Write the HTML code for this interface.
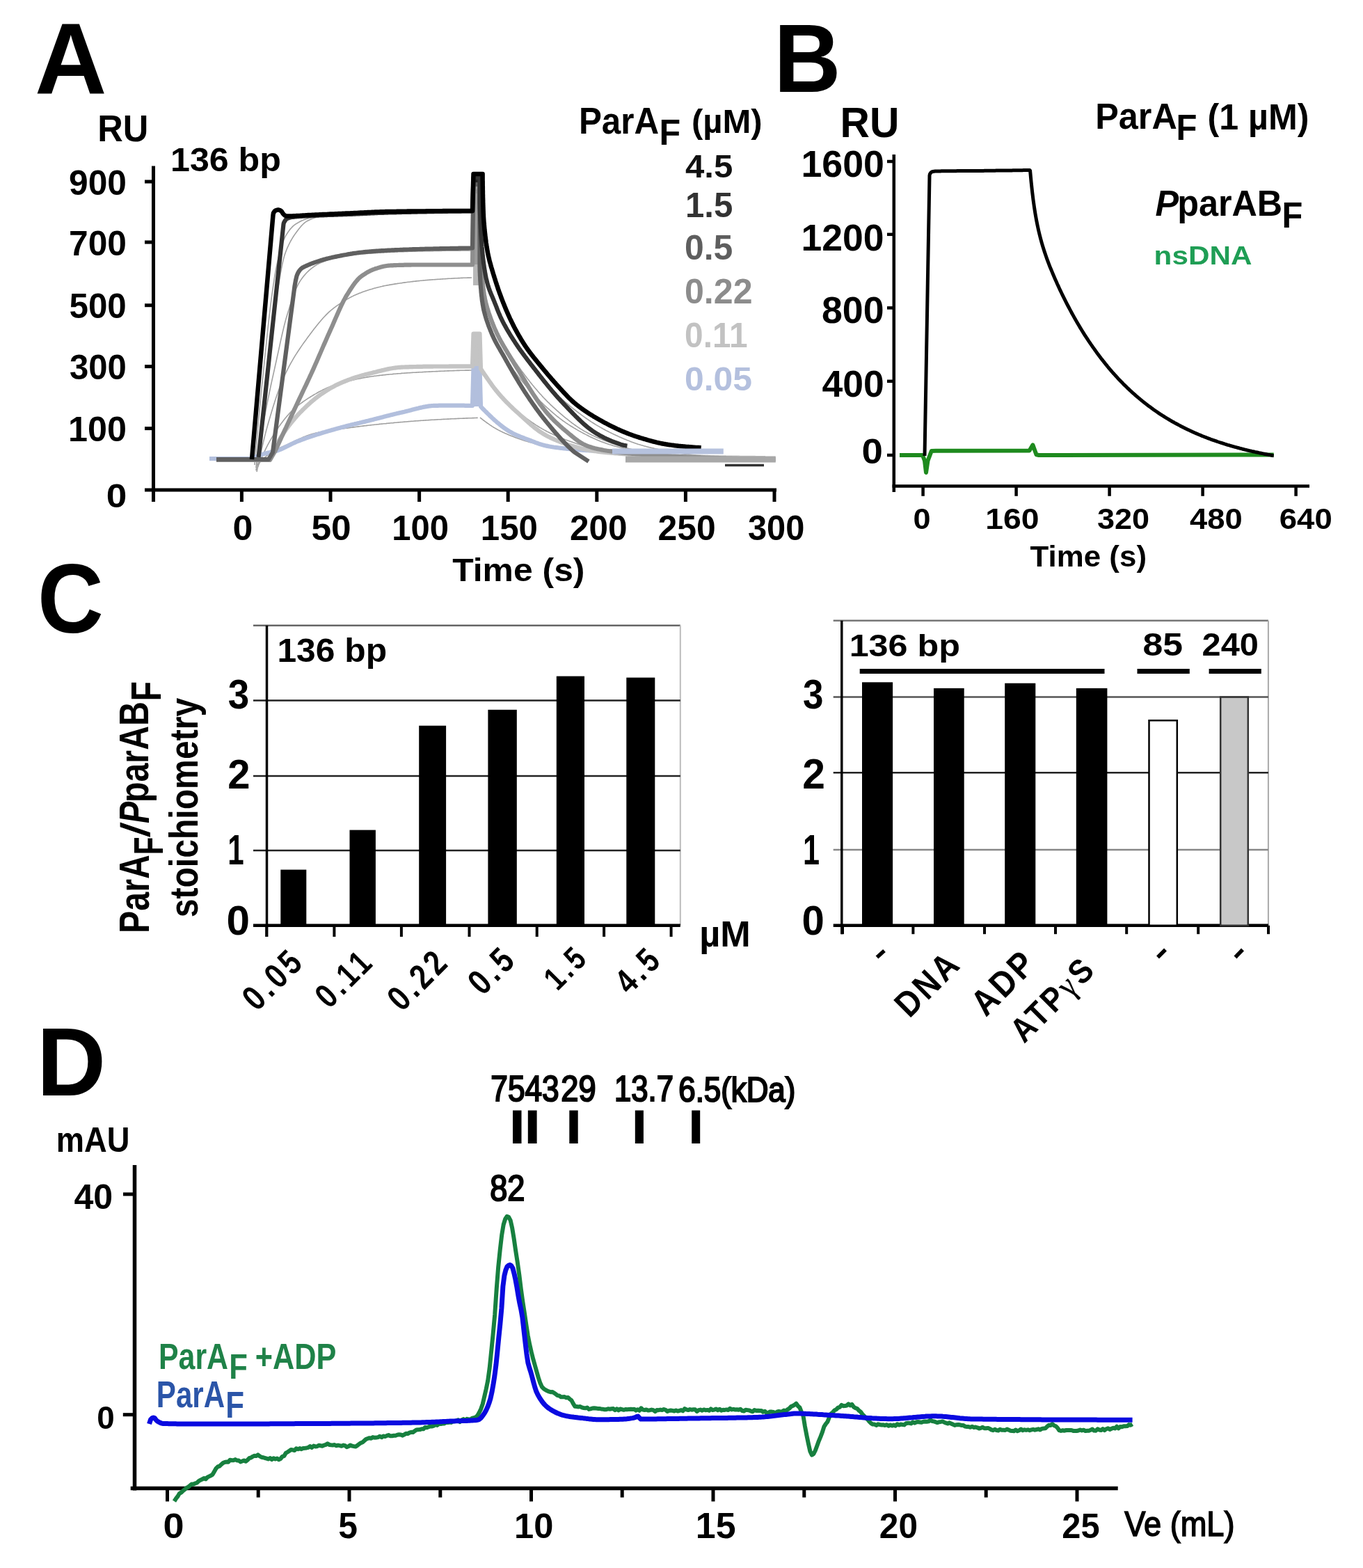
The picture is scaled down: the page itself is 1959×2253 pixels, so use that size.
<!DOCTYPE html>
<html><head><meta charset="utf-8"><style>
html,body{margin:0;padding:0;background:#fff;}
svg{display:block;}
text{font-family:"Liberation Sans",Arial,sans-serif;}
</style></head><body>
<svg xmlns="http://www.w3.org/2000/svg" width="1959" height="2253" viewBox="0 0 1959 2253">
<rect width="1959" height="2253" fill="#fff"/>
<text x="50.10" y="134.46" font-size="145.59" font-weight="bold" textLength="103.51" lengthAdjust="spacingAndGlyphs" fill="#000">A</text>
<text x="140.16" y="203.47" font-size="52.86" font-weight="bold" textLength="73.10" lengthAdjust="spacingAndGlyphs" fill="#000">RU</text>
<text x="244.99" y="245.50" font-size="47.26" font-weight="bold" textLength="158.91" lengthAdjust="spacingAndGlyphs" fill="#000">136 bp</text>
<line x1="220.5" y1="238.6" x2="220.5" y2="721.0" stroke="#000" stroke-width="5" stroke-linecap="butt"/>
<line x1="208.0" y1="704.0" x2="1116.0" y2="704.0" stroke="#000" stroke-width="5" stroke-linecap="butt"/>
<line x1="208.0" y1="261.0" x2="220.5" y2="261.0" stroke="#000" stroke-width="5" stroke-linecap="butt"/>
<text x="99.01" y="279.51" font-size="49.30" font-weight="bold" textLength="82.90" lengthAdjust="spacingAndGlyphs" fill="#000">900</text>
<line x1="208.0" y1="348.0" x2="220.5" y2="348.0" stroke="#000" stroke-width="5" stroke-linecap="butt"/>
<text x="99.01" y="366.51" font-size="49.30" font-weight="bold" textLength="82.90" lengthAdjust="spacingAndGlyphs" fill="#000">700</text>
<line x1="208.0" y1="438.7" x2="220.5" y2="438.7" stroke="#000" stroke-width="5" stroke-linecap="butt"/>
<text x="99.52" y="457.21" font-size="49.30" font-weight="bold" fill="#000">500</text>
<line x1="208.0" y1="526.6" x2="220.5" y2="526.6" stroke="#000" stroke-width="5" stroke-linecap="butt"/>
<text x="100.02" y="545.11" font-size="49.30" font-weight="bold" textLength="81.88" lengthAdjust="spacingAndGlyphs" fill="#000">300</text>
<line x1="208.0" y1="615.6" x2="220.5" y2="615.6" stroke="#000" stroke-width="5" stroke-linecap="butt"/>
<text x="97.98" y="634.11" font-size="49.30" font-weight="bold" textLength="83.96" lengthAdjust="spacingAndGlyphs" fill="#000">100</text>
<text x="152.87" y="729.03" font-size="47.18" font-weight="bold" textLength="29.59" lengthAdjust="spacingAndGlyphs" fill="#000">0</text>
<line x1="347.4" y1="704.0" x2="347.4" y2="721.0" stroke="#000" stroke-width="5" stroke-linecap="butt"/>
<text x="334.52" y="776.21" font-size="49.44" font-weight="bold" textLength="28.88" lengthAdjust="spacingAndGlyphs" fill="#000">0</text>
<line x1="475.0" y1="704.0" x2="475.0" y2="721.0" stroke="#000" stroke-width="5" stroke-linecap="butt"/>
<text x="447.46" y="776.21" font-size="49.44" font-weight="bold" textLength="57.22" lengthAdjust="spacingAndGlyphs" fill="#000">50</text>
<line x1="602.6" y1="704.0" x2="602.6" y2="721.0" stroke="#000" stroke-width="5" stroke-linecap="butt"/>
<text x="563.36" y="776.21" font-size="49.44" font-weight="bold" textLength="81.73" lengthAdjust="spacingAndGlyphs" fill="#000">100</text>
<line x1="730.2" y1="704.0" x2="730.2" y2="721.0" stroke="#000" stroke-width="5" stroke-linecap="butt"/>
<text x="690.85" y="776.21" font-size="49.44" font-weight="bold" textLength="82.05" lengthAdjust="spacingAndGlyphs" fill="#000">150</text>
<line x1="857.8" y1="704.0" x2="857.8" y2="721.0" stroke="#000" stroke-width="5" stroke-linecap="butt"/>
<text x="818.92" y="776.21" font-size="49.44" font-weight="bold" fill="#000">200</text>
<line x1="985.4" y1="704.0" x2="985.4" y2="721.0" stroke="#000" stroke-width="5" stroke-linecap="butt"/>
<text x="945.51" y="776.21" font-size="49.44" font-weight="bold" textLength="83.12" lengthAdjust="spacingAndGlyphs" fill="#000">250</text>
<line x1="1113.0" y1="704.0" x2="1113.0" y2="721.0" stroke="#000" stroke-width="5" stroke-linecap="butt"/>
<text x="1074.92" y="776.21" font-size="49.44" font-weight="bold" textLength="81.46" lengthAdjust="spacingAndGlyphs" fill="#000">300</text>
<text x="650.20" y="835.30" font-size="46.85" font-weight="bold" textLength="190.29" lengthAdjust="spacingAndGlyphs" fill="#000">Time (s)</text>
<text x="831.95" y="192.10" font-size="53.19" font-weight="bold" textLength="115.16" lengthAdjust="spacingAndGlyphs" fill="#000">ParA</text>
<text x="947.59" y="208.00" font-size="51.59" font-weight="bold" textLength="30.67" lengthAdjust="spacingAndGlyphs" fill="#000">F</text>
<text x="993.95" y="190.76" font-size="47.34" font-weight="bold" textLength="101.77" lengthAdjust="spacingAndGlyphs" fill="#000">(µM)</text>
<text x="985.02" y="255.23" font-size="47.00" font-weight="bold" textLength="68.26" lengthAdjust="spacingAndGlyphs" fill="#111111">4.5</text>
<text x="985.06" y="311.50" font-size="50.00" font-weight="bold" textLength="68.22" lengthAdjust="spacingAndGlyphs" fill="#333333">1.5</text>
<text x="984.01" y="373.01" font-size="49.15" font-weight="bold" textLength="69.30" lengthAdjust="spacingAndGlyphs" fill="#5e5e5e">0.5</text>
<text x="984.00" y="435.51" font-size="49.30" font-weight="bold" textLength="97.53" lengthAdjust="spacingAndGlyphs" fill="#8c8c8c">0.22</text>
<text x="984.09" y="498.51" font-size="49.30" font-weight="bold" textLength="90.41" lengthAdjust="spacingAndGlyphs" fill="#c2c2c2">0.11</text>
<text x="984.01" y="560.52" font-size="47.89" font-weight="bold" textLength="97.01" lengthAdjust="spacingAndGlyphs" fill="#b4c0de">0.05</text>
<path d="M366.0,668.0 L367.5,650.3 L369.0,633.1 L370.5,616.3 L372.0,600.0 L373.5,584.2 L375.0,568.9 L376.5,553.9 L378.0,539.2 L379.5,524.8 L381.0,510.5 L382.5,496.0 L384.0,481.7 L385.5,467.7 L387.0,454.2 L388.5,441.6 L390.0,430.0 L391.5,419.1 L393.0,408.7 L394.5,398.9 L396.0,390.1 L397.5,382.3 L399.0,375.6 L400.5,369.3 L402.0,363.3 L403.5,357.8 L405.0,352.7 L406.5,348.2 L408.0,344.2 L409.5,340.9 L411.0,338.2 L412.5,335.8 L414.0,333.5 L415.5,331.4 L417.0,329.4 L418.5,327.7 L420.0,326.1 L421.5,324.6 L423.0,323.4 L424.5,322.3 L426.0,321.4 L427.5,320.5 L429.0,319.6 L430.5,318.8 L432.0,318.0 L433.5,317.3 L435.0,316.6 L436.5,315.9 L438.0,315.3 L439.5,314.7 L441.0,314.2 L442.5,313.7 L444.0,313.2 L445.5,312.9 L447.0,312.5 L448.5,312.2 L450.0,312.0 L451.5,311.8 L453.0,311.6 L454.5,311.4 L456.0,311.2 L457.5,311.1 L459.0,310.9 L460.5,310.7 L462.0,310.6 L463.5,310.4 L465.0,310.2 L466.5,310.1 L468.0,310.0 L469.5,309.8 L471.0,309.7 L472.5,309.6 L474.0,309.4 L475.5,309.3 L477.0,309.2 L478.5,309.1 L480.0,309.0 L481.5,308.9 L483.0,308.8 L484.5,308.7 L486.0,308.6 L487.5,308.5 L489.0,308.4 L490.5,308.3 L492.0,308.2 L493.5,308.1 L495.0,308.1 L496.5,308.0 L498.0,307.9 L499.5,307.8 L501.0,307.8 L502.5,307.7 L504.0,307.6 L505.5,307.6 L507.0,307.5 L508.5,307.4 L510.0,307.4 L511.5,307.3 L513.0,307.3 L514.5,307.2 L516.0,307.2 L517.5,307.1 L519.0,307.0 L520.5,307.0 L522.0,306.9 L523.5,306.9 L525.0,306.8 L526.5,306.8 L528.0,306.7 L529.5,306.6 L531.0,306.6 L532.5,306.5 L534.0,306.5 L535.5,306.4 L537.0,306.4 L538.5,306.3 L540.0,306.3 L541.5,306.2 L543.0,306.2 L544.5,306.1 L546.0,306.1 L547.5,306.0 L549.0,306.0 L550.5,305.9 L552.0,305.9 L553.5,305.8 L555.0,305.8 L556.5,305.7 L558.0,305.7 L559.5,305.6 L561.0,305.6 L562.5,305.6 L564.0,305.5 L565.5,305.5 L567.0,305.4 L568.5,305.4 L570.0,305.4 L571.5,305.3 L573.0,305.3 L574.5,305.3 L576.0,305.2 L577.5,305.2 L579.0,305.2 L580.5,305.2 L582.0,305.1 L583.5,305.1 L585.0,305.1 L586.5,305.1 L588.0,305.1 L589.5,305.0 L591.0,305.0 L592.5,305.0 L594.0,305.0 L595.5,305.0 L597.0,305.0 L598.5,305.0 L600.0,305.0 L601.5,305.0 L603.0,305.0 L604.5,305.0 L606.0,305.0 L607.5,305.0 L609.0,305.0 L610.5,305.0 L612.0,305.0 L613.5,305.0 L615.0,305.0 L616.5,305.0 L618.0,305.0 L619.5,305.0 L621.0,305.0 L622.5,305.0 L624.0,305.0 L625.5,305.0 L627.0,305.0 L628.5,305.0 L630.0,305.0 L631.5,305.0 L633.0,305.0 L634.5,305.0 L636.0,305.0 L637.5,305.0 L639.0,305.0 L640.5,305.0 L642.0,305.0 L643.5,305.0 L645.0,305.0 L646.5,305.0 L648.0,305.0 L649.5,305.0 L651.0,305.0 L652.5,305.0 L654.0,305.0 L655.5,305.0 L657.0,305.0 L658.5,305.0 L660.0,305.0 L661.5,305.0 L663.0,305.0 L664.5,305.0 L666.0,305.0 L667.5,305.0 L669.0,305.0 L670.5,305.0 L672.0,305.0 L673.5,305.0 L675.0,305.0 L676.5,305.0 L678.0,305.0" fill="none" stroke="#a0a0a0" stroke-width="1.6" stroke-linejoin="round" stroke-linecap="butt"/>
<path d="M368.0,672.0 L369.5,658.4 L371.0,644.8 L372.5,631.3 L374.0,617.7 L375.5,604.3 L377.0,590.7 L378.5,577.0 L380.0,563.3 L381.5,549.7 L383.0,536.5 L384.6,523.7 L386.1,511.4 L387.6,499.1 L389.1,487.1 L390.6,475.3 L392.1,463.8 L393.6,452.8 L395.1,442.3 L396.6,432.5 L398.1,423.2 L399.6,414.0 L401.1,404.8 L402.6,396.1 L404.1,387.8 L405.6,380.3 L407.1,373.6 L408.6,368.0 L410.1,363.5 L411.6,359.5 L413.1,355.8 L414.7,352.5 L416.2,349.4 L417.7,346.5 L419.2,343.8 L420.7,341.4 L422.2,339.0 L423.7,336.9 L425.2,334.7 L426.7,332.7 L428.2,330.7 L429.7,328.8 L431.2,326.9 L432.7,325.1 L434.2,323.5 L435.7,322.0 L437.2,320.6 L438.7,319.4 L440.2,318.4 L441.7,317.5 L443.2,316.7 L444.7,316.0 L446.3,315.3 L447.8,314.6 L449.3,314.0 L450.8,313.5 L452.3,312.9 L453.8,312.5 L455.3,312.0 L456.8,311.7 L458.3,311.3 L459.8,311.0 L461.3,310.8 L462.8,310.5 L464.3,310.3 L465.8,310.1 L467.3,309.9 L468.8,309.7 L470.3,309.5 L471.8,309.3 L473.3,309.1 L474.8,308.9 L476.3,308.8 L477.9,308.6 L479.4,308.5 L480.9,308.3 L482.4,308.2 L483.9,308.1 L485.4,307.9 L486.9,307.8 L488.4,307.7 L489.9,307.6 L491.4,307.5 L492.9,307.4 L494.4,307.3 L495.9,307.2 L497.4,307.1 L498.9,307.1 L500.4,307.0 L501.9,306.9 L503.4,306.8 L504.9,306.8 L506.4,306.7 L508.0,306.6 L509.5,306.5 L511.0,306.5 L512.5,306.4 L514.0,306.3 L515.5,306.3 L517.0,306.2 L518.5,306.1 L520.0,306.1 L521.5,306.0 L523.0,306.0 L524.5,305.9 L526.0,305.9 L527.5,305.8 L529.0,305.8 L530.5,305.7 L532.0,305.7 L533.5,305.6 L535.0,305.6 L536.5,305.5 L538.0,305.5 L539.6,305.4 L541.1,305.4 L542.6,305.3 L544.1,305.3 L545.6,305.3 L547.1,305.2 L548.6,305.2 L550.1,305.2 L551.6,305.1 L553.1,305.1 L554.6,305.1 L556.1,305.1 L557.6,305.0 L559.1,305.0 L560.6,305.0 L562.1,305.0 L563.6,304.9 L565.1,304.9 L566.6,304.9 L568.1,304.9 L569.7,304.9 L571.2,304.8 L572.7,304.8 L574.2,304.8 L575.7,304.8 L577.2,304.8 L578.7,304.7 L580.2,304.7 L581.7,304.7 L583.2,304.7 L584.7,304.7 L586.2,304.6 L587.7,304.6 L589.2,304.6 L590.7,304.6 L592.2,304.6 L593.7,304.6 L595.2,304.5 L596.7,304.5 L598.2,304.5 L599.7,304.5 L601.3,304.5 L602.8,304.5 L604.3,304.4 L605.8,304.4 L607.3,304.4 L608.8,304.4 L610.3,304.4 L611.8,304.4 L613.3,304.3 L614.8,304.3 L616.3,304.3 L617.8,304.3 L619.3,304.3 L620.8,304.3 L622.3,304.3 L623.8,304.2 L625.3,304.2 L626.8,304.2 L628.3,304.2 L629.8,304.2 L631.3,304.2 L632.9,304.2 L634.4,304.2 L635.9,304.2 L637.4,304.1 L638.9,304.1 L640.4,304.1 L641.9,304.1 L643.4,304.1 L644.9,304.1 L646.4,304.1 L647.9,304.1 L649.4,304.1 L650.9,304.1 L652.4,304.1 L653.9,304.1 L655.4,304.0 L656.9,304.0 L658.4,304.0 L659.9,304.0 L661.4,304.0 L663.0,304.0 L664.5,304.0 L666.0,304.0 L667.5,304.0 L669.0,304.0 L670.5,304.0 L672.0,304.0 L673.5,304.0 L675.0,304.0 L676.5,304.0 L678.0,304.0" fill="none" stroke="#a0a0a0" stroke-width="1.6" stroke-linejoin="round" stroke-linecap="butt"/>
<path d="M368.0,676.0 L369.5,665.8 L371.0,655.8 L372.5,646.1 L374.0,636.5 L375.5,627.2 L377.0,618.1 L378.5,609.3 L380.0,600.7 L381.5,592.5 L383.0,584.5 L384.6,576.7 L386.1,569.3 L387.6,562.0 L389.1,554.9 L390.6,547.9 L392.1,541.1 L393.6,534.3 L395.1,527.6 L396.6,520.8 L398.1,514.0 L399.6,507.2 L401.1,500.3 L402.6,493.4 L404.1,486.6 L405.6,480.0 L407.1,473.6 L408.6,467.4 L410.1,461.6 L411.6,456.2 L413.1,451.2 L414.7,446.2 L416.2,441.3 L417.7,436.5 L419.2,431.9 L420.7,427.5 L422.2,423.3 L423.7,419.3 L425.2,415.6 L426.7,412.3 L428.2,409.3 L429.7,406.6 L431.2,404.2 L432.7,401.9 L434.2,399.8 L435.7,397.8 L437.2,395.9 L438.7,394.2 L440.2,392.5 L441.7,391.0 L443.2,389.6 L444.7,388.2 L446.3,386.9 L447.8,385.7 L449.3,384.5 L450.8,383.4 L452.3,382.3 L453.8,381.4 L455.3,380.4 L456.8,379.6 L458.3,378.8 L459.8,378.1 L461.3,377.4 L462.8,376.8 L464.3,376.2 L465.8,375.7 L467.3,375.1 L468.8,374.6 L470.3,374.0 L471.8,373.6 L473.3,373.1 L474.8,372.6 L476.3,372.2 L477.9,371.8 L479.4,371.4 L480.9,371.0 L482.4,370.6 L483.9,370.3 L485.4,369.9 L486.9,369.6 L488.4,369.3 L489.9,369.0 L491.4,368.7 L492.9,368.5 L494.4,368.2 L495.9,368.0 L497.4,367.7 L498.9,367.5 L500.4,367.3 L501.9,367.0 L503.4,366.8 L504.9,366.6 L506.4,366.4 L508.0,366.2 L509.5,366.0 L511.0,365.9 L512.5,365.7 L514.0,365.5 L515.5,365.4 L517.0,365.3 L518.5,365.1 L520.0,365.0 L521.5,364.9 L523.0,364.8 L524.5,364.7 L526.0,364.5 L527.5,364.4 L529.0,364.3 L530.5,364.2 L532.0,364.1 L533.5,364.0 L535.0,363.9 L536.5,363.8 L538.0,363.7 L539.6,363.6 L541.1,363.5 L542.6,363.4 L544.1,363.3 L545.6,363.2 L547.1,363.1 L548.6,363.0 L550.1,363.0 L551.6,362.9 L553.1,362.8 L554.6,362.7 L556.1,362.6 L557.6,362.5 L559.1,362.5 L560.6,362.4 L562.1,362.3 L563.6,362.2 L565.1,362.2 L566.6,362.1 L568.1,362.0 L569.7,362.0 L571.2,361.9 L572.7,361.8 L574.2,361.8 L575.7,361.7 L577.2,361.7 L578.7,361.6 L580.2,361.6 L581.7,361.5 L583.2,361.5 L584.7,361.4 L586.2,361.4 L587.7,361.3 L589.2,361.3 L590.7,361.2 L592.2,361.2 L593.7,361.1 L595.2,361.1 L596.7,361.1 L598.2,361.0 L599.7,361.0 L601.3,361.0 L602.8,360.9 L604.3,360.9 L605.8,360.9 L607.3,360.9 L608.8,360.8 L610.3,360.8 L611.8,360.8 L613.3,360.7 L614.8,360.7 L616.3,360.7 L617.8,360.7 L619.3,360.6 L620.8,360.6 L622.3,360.6 L623.8,360.5 L625.3,360.5 L626.8,360.5 L628.3,360.5 L629.8,360.4 L631.3,360.4 L632.9,360.4 L634.4,360.4 L635.9,360.3 L637.4,360.3 L638.9,360.3 L640.4,360.3 L641.9,360.3 L643.4,360.2 L644.9,360.2 L646.4,360.2 L647.9,360.2 L649.4,360.2 L650.9,360.2 L652.4,360.1 L653.9,360.1 L655.4,360.1 L656.9,360.1 L658.4,360.1 L659.9,360.1 L661.4,360.1 L663.0,360.0 L664.5,360.0 L666.0,360.0 L667.5,360.0 L669.0,360.0 L670.5,360.0 L672.0,360.0 L673.5,360.0 L675.0,360.0 L676.5,360.0 L678.0,360.0" fill="none" stroke="#a0a0a0" stroke-width="1.6" stroke-linejoin="round" stroke-linecap="butt"/>
<path d="M369.0,678.0 L370.5,670.9 L372.0,663.9 L373.5,657.0 L375.0,650.2 L376.5,643.6 L378.0,637.2 L379.5,631.0 L381.0,624.9 L382.5,619.1 L384.0,613.6 L385.5,608.2 L387.0,603.0 L388.5,597.9 L390.0,592.9 L391.5,588.0 L393.0,583.1 L394.5,578.4 L396.0,573.8 L397.5,569.3 L399.0,564.9 L400.5,560.7 L402.0,556.6 L403.5,552.6 L405.0,548.9 L406.5,545.2 L408.0,541.8 L409.5,538.5 L411.0,535.3 L412.5,532.3 L414.0,529.3 L415.5,526.4 L417.0,523.6 L418.5,520.9 L420.0,518.3 L421.5,515.7 L423.0,513.2 L424.5,510.7 L426.0,508.3 L427.5,506.0 L429.0,503.7 L430.5,501.5 L432.0,499.2 L433.5,497.1 L435.0,494.9 L436.5,492.8 L438.0,490.7 L439.5,488.7 L441.0,486.6 L442.5,484.6 L444.0,482.6 L445.5,480.5 L447.0,478.5 L448.5,476.5 L450.0,474.6 L451.5,472.6 L453.0,470.7 L454.5,468.8 L456.0,466.9 L457.5,465.1 L459.0,463.2 L460.5,461.5 L462.0,459.7 L463.5,458.0 L465.0,456.3 L466.5,454.7 L468.0,453.1 L469.5,451.6 L471.0,450.1 L472.5,448.7 L474.0,447.3 L475.5,446.0 L477.0,444.8 L478.5,443.6 L480.0,442.4 L481.5,441.3 L483.0,440.2 L484.5,439.2 L486.0,438.1 L487.5,437.1 L489.0,436.1 L490.5,435.1 L492.0,434.1 L493.5,433.1 L495.0,432.2 L496.5,431.3 L498.0,430.4 L499.5,429.6 L501.0,428.7 L502.5,427.9 L504.0,427.1 L505.5,426.3 L507.0,425.6 L508.5,424.8 L510.0,424.1 L511.5,423.5 L513.0,422.8 L514.5,422.2 L516.0,421.5 L517.5,420.9 L519.0,420.4 L520.5,419.8 L522.0,419.3 L523.5,418.8 L525.0,418.2 L526.5,417.7 L528.0,417.2 L529.5,416.8 L531.0,416.3 L532.5,415.8 L534.0,415.4 L535.5,414.9 L537.0,414.5 L538.5,414.1 L540.0,413.7 L541.5,413.3 L543.0,412.9 L544.5,412.5 L546.0,412.2 L547.5,411.8 L549.0,411.5 L550.5,411.1 L552.0,410.8 L553.5,410.5 L555.0,410.2 L556.5,409.9 L558.0,409.7 L559.5,409.4 L561.0,409.1 L562.5,408.9 L564.0,408.6 L565.5,408.4 L567.0,408.1 L568.5,407.9 L570.0,407.7 L571.5,407.4 L573.0,407.2 L574.5,407.0 L576.0,406.8 L577.5,406.6 L579.0,406.3 L580.5,406.1 L582.0,405.9 L583.5,405.7 L585.0,405.5 L586.5,405.3 L588.0,405.2 L589.5,405.0 L591.0,404.8 L592.5,404.6 L594.0,404.4 L595.5,404.3 L597.0,404.1 L598.5,403.9 L600.0,403.8 L601.5,403.6 L603.0,403.5 L604.5,403.3 L606.0,403.2 L607.5,403.0 L609.0,402.9 L610.5,402.8 L612.0,402.6 L613.5,402.5 L615.0,402.4 L616.5,402.3 L618.0,402.1 L619.5,402.0 L621.0,401.9 L622.5,401.8 L624.0,401.7 L625.5,401.6 L627.0,401.5 L628.5,401.4 L630.0,401.3 L631.5,401.2 L633.0,401.1 L634.5,401.0 L636.0,400.9 L637.5,400.8 L639.0,400.7 L640.5,400.6 L642.0,400.5 L643.5,400.4 L645.0,400.3 L646.5,400.2 L648.0,400.2 L649.5,400.1 L651.0,400.0 L652.5,399.9 L654.0,399.8 L655.5,399.8 L657.0,399.7 L658.5,399.6 L660.0,399.6 L661.5,399.5 L663.0,399.4 L664.5,399.4 L666.0,399.3 L667.5,399.3 L669.0,399.2 L670.5,399.2 L672.0,399.1 L673.5,399.1 L675.0,399.1 L676.5,399.0 L678.0,399.0" fill="none" stroke="#a0a0a0" stroke-width="1.6" stroke-linejoin="round" stroke-linecap="butt"/>
<path d="M370.0,672.0 L371.5,668.4 L373.0,664.9 L374.5,661.4 L376.0,657.9 L377.5,654.5 L379.0,651.2 L380.5,648.0 L382.0,644.9 L383.5,641.9 L385.0,638.9 L386.5,636.1 L388.0,633.4 L389.5,630.8 L391.0,628.3 L392.5,625.9 L394.0,623.5 L395.5,621.1 L397.0,618.8 L398.5,616.5 L400.0,614.3 L401.6,612.1 L403.1,610.0 L404.6,607.9 L406.1,605.9 L407.6,604.0 L409.1,602.1 L410.6,600.2 L412.1,598.4 L413.6,596.7 L415.1,595.0 L416.6,593.4 L418.1,591.9 L419.6,590.4 L421.1,589.0 L422.6,587.6 L424.1,586.3 L425.6,585.0 L427.1,583.7 L428.6,582.5 L430.1,581.3 L431.6,580.2 L433.1,579.1 L434.6,578.0 L436.1,576.9 L437.6,575.8 L439.1,574.8 L440.6,573.8 L442.1,572.8 L443.6,571.9 L445.1,571.0 L446.6,570.0 L448.1,569.1 L449.6,568.2 L451.1,567.3 L452.6,566.4 L454.1,565.6 L455.6,564.7 L457.1,563.8 L458.6,563.0 L460.1,562.2 L461.6,561.4 L463.2,560.6 L464.7,559.8 L466.2,559.1 L467.7,558.4 L469.2,557.7 L470.7,557.0 L472.2,556.4 L473.7,555.8 L475.2,555.3 L476.7,554.8 L478.2,554.3 L479.7,553.8 L481.2,553.3 L482.7,552.8 L484.2,552.4 L485.7,551.9 L487.2,551.5 L488.7,551.0 L490.2,550.6 L491.7,550.1 L493.2,549.7 L494.7,549.3 L496.2,548.9 L497.7,548.5 L499.2,548.1 L500.7,547.7 L502.2,547.3 L503.7,546.9 L505.2,546.6 L506.7,546.2 L508.2,545.9 L509.7,545.5 L511.2,545.2 L512.7,544.8 L514.2,544.5 L515.7,544.2 L517.2,543.9 L518.7,543.6 L520.2,543.3 L521.7,543.0 L523.2,542.7 L524.8,542.5 L526.3,542.2 L527.8,541.9 L529.3,541.7 L530.8,541.4 L532.3,541.2 L533.8,541.0 L535.3,540.8 L536.8,540.6 L538.3,540.3 L539.8,540.2 L541.3,540.0 L542.8,539.8 L544.3,539.6 L545.8,539.4 L547.3,539.3 L548.8,539.1 L550.3,538.9 L551.8,538.8 L553.3,538.6 L554.8,538.4 L556.3,538.3 L557.8,538.1 L559.3,538.0 L560.8,537.8 L562.3,537.7 L563.8,537.6 L565.3,537.4 L566.8,537.3 L568.3,537.2 L569.8,537.0 L571.3,536.9 L572.8,536.8 L574.3,536.7 L575.8,536.6 L577.3,536.4 L578.8,536.3 L580.3,536.2 L581.8,536.1 L583.3,536.0 L584.8,535.9 L586.4,535.8 L587.9,535.7 L589.4,535.6 L590.9,535.5 L592.4,535.4 L593.9,535.3 L595.4,535.3 L596.9,535.2 L598.4,535.1 L599.9,535.0 L601.4,534.9 L602.9,534.8 L604.4,534.8 L605.9,534.7 L607.4,534.6 L608.9,534.5 L610.4,534.4 L611.9,534.4 L613.4,534.3 L614.9,534.2 L616.4,534.1 L617.9,534.1 L619.4,534.0 L620.9,533.9 L622.4,533.8 L623.9,533.8 L625.4,533.7 L626.9,533.6 L628.4,533.6 L629.9,533.5 L631.4,533.4 L632.9,533.4 L634.4,533.3 L635.9,533.2 L637.4,533.2 L638.9,533.1 L640.4,533.0 L641.9,533.0 L643.4,532.9 L644.9,532.9 L646.4,532.8 L648.0,532.7 L649.5,532.7 L651.0,532.6 L652.5,532.6 L654.0,532.5 L655.5,532.5 L657.0,532.4 L658.5,532.4 L660.0,532.4 L661.5,532.3 L663.0,532.3 L664.5,532.2 L666.0,532.2 L667.5,532.2 L669.0,532.1 L670.5,532.1 L672.0,532.1 L673.5,532.1 L675.0,532.0 L676.5,532.0 L678.0,532.0" fill="none" stroke="#a0a0a0" stroke-width="1.6" stroke-linejoin="round" stroke-linecap="butt"/>
<path d="M370.0,668.0 L371.5,666.4 L373.0,664.8 L374.5,663.2 L376.0,661.7 L377.5,660.2 L379.0,658.8 L380.5,657.4 L382.0,656.1 L383.5,654.8 L385.0,653.6 L386.5,652.4 L388.0,651.3 L389.5,650.3 L391.0,649.4 L392.5,648.5 L394.0,647.6 L395.5,646.8 L397.0,646.0 L398.5,645.2 L400.0,644.5 L401.5,643.8 L403.0,643.1 L404.5,642.4 L406.0,641.8 L407.5,641.1 L409.0,640.4 L410.5,639.8 L412.0,639.1 L413.5,638.4 L415.0,637.7 L416.5,637.0 L418.0,636.3 L419.5,635.6 L421.0,634.9 L422.5,634.2 L424.0,633.5 L425.5,632.8 L427.0,632.1 L428.5,631.4 L430.0,630.7 L431.5,630.0 L433.0,629.4 L434.5,628.7 L436.0,628.1 L437.5,627.5 L439.0,626.9 L440.5,626.3 L442.0,625.7 L443.5,625.2 L445.0,624.7 L446.5,624.2 L448.0,623.7 L449.6,623.3 L451.1,622.9 L452.6,622.5 L454.1,622.1 L455.6,621.8 L457.1,621.4 L458.6,621.1 L460.1,620.8 L461.6,620.5 L463.1,620.3 L464.6,620.0 L466.1,619.7 L467.6,619.5 L469.1,619.2 L470.6,619.0 L472.1,618.8 L473.6,618.5 L475.1,618.3 L476.6,618.1 L478.1,617.9 L479.6,617.7 L481.1,617.5 L482.6,617.3 L484.1,617.1 L485.6,616.9 L487.1,616.7 L488.6,616.5 L490.1,616.3 L491.6,616.1 L493.1,615.9 L494.6,615.7 L496.1,615.5 L497.6,615.3 L499.1,615.1 L500.6,614.9 L502.1,614.7 L503.6,614.5 L505.1,614.3 L506.6,614.1 L508.1,613.9 L509.6,613.7 L511.1,613.5 L512.6,613.3 L514.1,613.1 L515.6,612.9 L517.1,612.7 L518.6,612.5 L520.1,612.3 L521.6,612.1 L523.1,611.9 L524.6,611.7 L526.1,611.6 L527.6,611.4 L529.1,611.2 L530.6,611.0 L532.1,610.9 L533.6,610.7 L535.1,610.5 L536.6,610.4 L538.1,610.2 L539.6,610.0 L541.1,609.9 L542.6,609.7 L544.1,609.6 L545.6,609.4 L547.1,609.3 L548.6,609.1 L550.1,609.0 L551.6,608.8 L553.1,608.7 L554.6,608.6 L556.1,608.4 L557.6,608.3 L559.1,608.1 L560.6,608.0 L562.1,607.8 L563.6,607.7 L565.1,607.6 L566.6,607.4 L568.1,607.3 L569.6,607.2 L571.1,607.0 L572.6,606.9 L574.1,606.8 L575.6,606.6 L577.1,606.5 L578.6,606.4 L580.1,606.2 L581.6,606.1 L583.1,606.0 L584.6,605.9 L586.1,605.7 L587.6,605.6 L589.1,605.5 L590.6,605.4 L592.1,605.3 L593.6,605.2 L595.1,605.0 L596.6,604.9 L598.1,604.8 L599.6,604.7 L601.1,604.6 L602.6,604.5 L604.1,604.4 L605.6,604.3 L607.1,604.2 L608.7,604.1 L610.2,604.0 L611.7,603.9 L613.2,603.8 L614.7,603.7 L616.2,603.6 L617.7,603.5 L619.2,603.4 L620.7,603.3 L622.2,603.3 L623.7,603.2 L625.2,603.1 L626.7,603.0 L628.2,602.9 L629.7,602.8 L631.2,602.8 L632.7,602.7 L634.2,602.6 L635.7,602.5 L637.2,602.4 L638.7,602.4 L640.2,602.3 L641.7,602.2 L643.2,602.1 L644.7,602.1 L646.2,602.0 L647.7,601.9 L649.2,601.8 L650.7,601.8 L652.2,601.7 L653.7,601.6 L655.2,601.6 L656.7,601.5 L658.2,601.4 L659.7,601.4 L661.2,601.3 L662.7,601.2 L664.2,601.2 L665.7,601.1 L667.2,601.1 L668.7,601.0 L670.2,600.9 L671.7,600.9 L673.2,600.8 L674.7,600.8 L676.2,600.7 L677.7,600.7 L679.2,600.6 L680.7,600.6 L682.2,600.5 L683.7,600.5 L685.2,600.4 L686.7,600.4" fill="none" stroke="#a0a0a0" stroke-width="1.6" stroke-linejoin="round" stroke-linecap="butt"/>
<path d="M690.0,300.0 L690.0,301.7 L690.0,303.4 L690.0,304.9 L690.1,306.4 L690.1,307.9 L690.1,309.3 L690.2,310.8 L690.2,312.2 L690.2,313.7 L690.3,315.1 L690.3,316.6 L690.4,318.1 L690.4,319.6 L690.5,321.1 L690.5,322.6 L690.6,324.1 L690.7,325.6 L690.7,327.1 L690.8,328.6 L690.9,330.1 L691.0,331.6 L691.0,333.1 L691.1,334.6 L691.2,336.1 L691.3,337.6 L691.4,339.1 L691.5,340.6 L691.5,342.1 L691.6,343.6 L691.7,345.1 L691.8,346.6 L691.9,348.1 L692.0,349.6 L692.1,351.1 L692.3,352.6 L692.4,354.1 L692.5,355.6 L692.6,357.1 L692.8,358.6 L692.9,360.1 L693.1,361.6 L693.2,363.1 L693.4,364.6 L693.6,366.1 L693.7,367.6 L693.9,369.1 L694.1,370.6 L694.3,372.1 L694.5,373.6 L694.7,375.1 L695.0,376.6 L695.2,378.1 L695.4,379.6 L695.6,381.1 L695.9,382.6 L696.1,384.1 L696.4,385.5 L696.6,387.0 L696.9,388.5 L697.2,390.0 L697.4,391.5 L697.7,392.9 L698.0,394.4 L698.3,395.9 L698.6,397.3 L698.9,398.8 L699.2,400.3 L699.5,401.7 L699.9,403.2 L700.2,404.7 L700.6,406.1 L700.9,407.6 L701.3,409.0 L701.7,410.5 L702.1,411.9 L702.6,413.4 L703.0,414.8 L703.4,416.2 L703.9,417.7 L704.4,419.1 L704.8,420.6 L705.3,422.0 L705.8,423.4 L706.3,424.8 L706.8,426.3 L707.3,427.7 L707.9,429.1 L708.4,430.5 L708.9,431.9 L709.5,433.3 L710.0,434.7 L710.5,436.1 L711.1,437.5 L711.6,438.9 L712.2,440.3 L712.8,441.7 L713.3,443.1 L713.9,444.5 L714.5,445.9 L715.1,447.3 L715.7,448.7 L716.3,450.0 L716.9,451.4 L717.5,452.8 L718.1,454.2 L718.7,455.5 L719.4,456.9 L720.0,458.3 L720.7,459.6 L721.3,461.0 L722.0,462.4 L722.6,463.7 L723.3,465.1 L724.0,466.4 L724.7,467.8 L725.4,469.1 L726.1,470.5 L726.8,471.8 L727.5,473.2 L728.2,474.5 L728.9,475.8 L729.6,477.2 L730.4,478.5 L731.1,479.8 L731.8,481.1 L732.6,482.4 L733.3,483.7 L734.1,485.0 L734.8,486.3 L735.6,487.6 L736.4,488.9 L737.1,490.2 L737.9,491.5 L738.7,492.7 L739.5,494.0 L740.3,495.3 L741.1,496.5 L741.9,497.8 L742.7,499.0 L743.6,500.3 L744.4,501.5 L745.2,502.7 L746.1,504.0 L746.9,505.2 L747.8,506.4 L748.7,507.6 L749.6,508.9 L750.5,510.1 L751.4,511.3 L752.3,512.5 L753.2,513.7 L754.1,514.9 L755.0,516.1 L756.0,517.3 L756.9,518.5 L757.8,519.7 L758.8,520.8 L759.7,522.0 L760.7,523.2 L761.7,524.4 L762.6,525.5 L763.6,526.7 L764.6,527.8 L765.5,529.0 L766.5,530.2 L767.5,531.3 L768.5,532.4 L769.5,533.6 L770.4,534.7 L771.4,535.9 L772.4,537.0 L773.4,538.1 L774.4,539.3 L775.4,540.4 L776.4,541.5 L777.4,542.6 L778.4,543.8 L779.4,544.9 L780.4,546.0 L781.4,547.1 L782.4,548.2 L783.5,549.3 L784.5,550.4 L785.5,551.6 L786.5,552.7 L787.6,553.8 L788.6,554.9 L789.7,556.0 L790.7,557.0 L791.8,558.1 L792.8,559.2 L793.9,560.3 L794.9,561.4 L796.0,562.4 L797.1,563.5 L798.2,564.6 L799.2,565.6 L800.3,566.7 L801.4,567.7 L802.5,568.7 L803.6,569.8 L804.7,570.8 L805.8,571.8 L806.9,572.8 L808.0,573.8 L809.2,574.8 L810.3,575.8 L811.4,576.8 L812.5,577.8 L813.7,578.8 L814.8,579.7 L816.0,580.7 L817.1,581.7 L818.3,582.6 L819.4,583.6 L820.6,584.5 L821.8,585.5 L822.9,586.4 L824.1,587.3 L825.3,588.3 L826.5,589.2 L827.7,590.1 L828.9,591.1 L830.1,592.0 L831.3,592.9 L832.5,593.8 L833.7,594.7 L834.9,595.6 L836.1,596.5 L837.4,597.4 L838.6,598.3 L839.8,599.2 L841.1,600.1 L842.3,601.0 L843.6,601.8 L844.8,602.7 L846.1,603.5 L847.3,604.4 L848.6,605.2 L849.8,606.1 L851.1,606.9 L852.4,607.7 L853.7,608.5 L854.9,609.3 L856.2,610.1 L857.5,610.9 L858.8,611.6 L860.1,612.4 L861.4,613.1 L862.7,613.9 L864.0,614.6 L865.3,615.3 L866.6,616.1 L867.9,616.8 L869.2,617.5 L870.5,618.2 L871.9,618.9 L873.2,619.5 L874.5,620.2 L875.8,620.9 L877.2,621.6 L878.5,622.2 L879.9,622.9 L881.2,623.5 L882.6,624.2 L884.0,624.8 L885.3,625.5 L886.7,626.1 L888.1,626.7 L889.5,627.4 L890.8,628.0 L892.2,628.6 L893.6,629.2 L895.0,629.8 L896.4,630.4 L897.8,631.0 L899.2,631.6 L900.6,632.2 L902.0,632.7 L903.5,633.3 L904.9,633.8 L906.3,634.4 L907.7,634.9 L909.1,635.4 L910.5,635.9 L912.0,636.5 L913.4,636.9 L914.8,637.4 L916.3,637.9 L917.7,638.4 L919.1,638.8 L920.6,639.3 L922.0,639.7 L923.4,640.1 L924.9,640.5 L926.3,640.9 L927.8,641.3 L929.2,641.7 L930.6,642.1 L932.1,642.4 L933.5,642.8 L935.0,643.1 L936.4,643.5 L937.9,643.8 L939.3,644.1 L940.8,644.5 L942.3,644.8 L943.7,645.1 L945.2,645.4 L946.7,645.7 L948.1,646.0 L949.6,646.3 L951.1,646.6 L952.6,646.9 L954.0,647.2 L955.5,647.5 L957.0,647.8 L958.5,648.1 L960.0,648.3 L961.5,648.6 L963.0,648.9 L964.4,649.1 L965.9,649.4 L967.4,649.6 L968.9,649.9 L970.4,650.1 L971.9,650.4 L973.4,650.6 L974.9,650.8 L976.4,651.0 L977.9,651.3 L979.4,651.5 L980.9,651.7 L982.4,651.9 L983.9,652.1 L985.4,652.3 L986.9,652.5 L988.4,652.7 L989.9,652.8 L991.4,653.0 L992.9,653.2 L994.4,653.4 L995.9,653.5 L997.4,653.7 L998.9,653.8 L1000.4,654.0 L1001.8,654.2 L1003.3,654.3 L1004.8,654.5 L1006.3,654.6 L1007.8,654.7 L1009.3,654.9 L1010.8,655.0 L1012.3,655.2 L1013.8,655.3 L1015.3,655.5 L1016.8,655.6 L1018.3,655.7 L1019.8,655.9 L1021.3,656.0 L1022.8,656.1 L1024.3,656.3 L1025.8,656.4 L1027.3,656.6 L1028.8,656.7 L1030.2,656.8 L1031.7,656.9 L1033.2,657.1 L1034.7,657.2 L1036.2,657.3 L1037.7,657.5 L1039.2,657.6 L1040.7,657.7 L1042.2,657.8 L1043.7,658.0 L1045.2,658.1 L1046.7,658.2 L1048.2,658.3 L1049.7,658.4 L1051.2,658.5 L1052.7,658.6 L1054.2,658.7 L1055.7,658.9 L1057.2,659.0 L1058.7,659.1 L1060.2,659.2 L1061.7,659.3 L1063.3,659.4 L1064.8,659.5 L1066.3,659.5 L1067.8,659.6 L1069.3,659.7 L1070.8,659.8 L1072.3,659.9 L1073.8,660.0 L1075.3,660.0 L1076.8,660.1 L1078.3,660.2 L1079.8,660.3 L1081.3,660.3 L1082.8,660.4 L1084.3,660.4 L1085.8,660.5 L1087.3,660.6 L1088.8,660.6 L1090.3,660.6 L1091.8,660.7 L1093.3,660.7 L1094.8,660.8 L1096.3,660.8 L1097.8,660.8 L1099.2,660.9 L1100.7,660.9 L1102.1,660.9 L1103.6,661.0 L1105.1,661.0 L1106.6,661.0 L1108.3,661.0 L1110.0,661.0" fill="none" stroke="#a0a0a0" stroke-width="1.6" stroke-linejoin="round" stroke-linecap="butt"/>
<path d="M690.0,360.0 L690.0,361.8 L690.0,363.4 L690.1,364.9 L690.1,366.4 L690.1,367.9 L690.2,369.3 L690.2,370.8 L690.3,372.3 L690.3,373.7 L690.4,375.2 L690.5,376.7 L690.6,378.2 L690.6,379.7 L690.7,381.2 L690.8,382.7 L690.9,384.2 L691.0,385.7 L691.1,387.2 L691.2,388.7 L691.3,390.2 L691.4,391.7 L691.5,393.2 L691.6,394.7 L691.8,396.2 L691.9,397.7 L692.0,399.1 L692.2,400.6 L692.3,402.1 L692.4,403.6 L692.6,405.1 L692.7,406.6 L692.9,408.1 L693.1,409.6 L693.2,411.1 L693.4,412.5 L693.6,414.0 L693.8,415.5 L694.1,417.0 L694.3,418.5 L694.6,420.0 L694.8,421.5 L695.1,423.0 L695.4,424.4 L695.7,425.9 L696.0,427.4 L696.3,428.9 L696.7,430.4 L697.0,431.8 L697.4,433.3 L697.7,434.8 L698.1,436.2 L698.5,437.7 L698.9,439.1 L699.3,440.6 L699.7,442.0 L700.1,443.5 L700.6,444.9 L701.0,446.3 L701.5,447.8 L701.9,449.2 L702.4,450.6 L702.9,452.0 L703.4,453.4 L703.9,454.8 L704.5,456.2 L705.0,457.6 L705.6,458.9 L706.2,460.3 L706.8,461.7 L707.4,463.0 L708.1,464.4 L708.7,465.8 L709.4,467.1 L710.1,468.5 L710.7,469.8 L711.4,471.2 L712.2,472.5 L712.9,473.8 L713.6,475.2 L714.3,476.5 L715.1,477.8 L715.8,479.1 L716.6,480.5 L717.3,481.8 L718.1,483.1 L718.8,484.4 L719.6,485.7 L720.3,487.0 L721.1,488.3 L721.8,489.6 L722.6,490.9 L723.3,492.2 L724.1,493.5 L724.9,494.8 L725.6,496.1 L726.4,497.4 L727.2,498.7 L727.9,500.0 L728.7,501.3 L729.5,502.6 L730.3,503.9 L731.1,505.2 L731.9,506.4 L732.7,507.7 L733.5,509.0 L734.3,510.3 L735.1,511.5 L735.9,512.8 L736.8,514.1 L737.6,515.3 L738.4,516.6 L739.3,517.8 L740.1,519.1 L740.9,520.4 L741.8,521.6 L742.6,522.8 L743.5,524.1 L744.4,525.3 L745.2,526.6 L746.1,527.8 L747.0,529.0 L747.8,530.2 L748.7,531.5 L749.6,532.7 L750.5,533.9 L751.4,535.1 L752.3,536.3 L753.2,537.5 L754.1,538.7 L755.0,539.9 L755.9,541.1 L756.8,542.3 L757.7,543.5 L758.7,544.7 L759.6,545.8 L760.5,547.0 L761.4,548.2 L762.4,549.4 L763.3,550.6 L764.3,551.7 L765.2,552.9 L766.2,554.1 L767.2,555.2 L768.1,556.4 L769.1,557.6 L770.1,558.7 L771.1,559.9 L772.1,561.0 L773.0,562.2 L774.0,563.3 L775.0,564.5 L776.0,565.6 L777.1,566.7 L778.1,567.8 L779.1,569.0 L780.1,570.1 L781.1,571.2 L782.2,572.3 L783.2,573.4 L784.3,574.4 L785.3,575.5 L786.4,576.6 L787.4,577.6 L788.5,578.7 L789.6,579.7 L790.6,580.8 L791.7,581.8 L792.8,582.8 L793.9,583.9 L795.0,584.9 L796.1,585.9 L797.2,586.9 L798.3,587.9 L799.4,588.9 L800.5,589.9 L801.7,590.9 L802.8,591.9 L803.9,592.9 L805.1,593.9 L806.2,594.9 L807.4,595.9 L808.6,596.9 L809.7,597.8 L810.9,598.8 L812.1,599.8 L813.3,600.8 L814.5,601.7 L815.7,602.7 L816.9,603.7 L818.1,604.6 L819.3,605.5 L820.5,606.5 L821.7,607.4 L822.9,608.3 L824.2,609.2 L825.4,610.1 L826.7,611.0 L827.9,611.9 L829.1,612.7 L830.4,613.6 L831.7,614.4 L832.9,615.3 L834.2,616.1 L835.5,616.9 L836.7,617.6 L838.0,618.4 L839.3,619.2 L840.6,619.9 L841.9,620.6 L843.2,621.3 L844.5,622.0 L845.8,622.7 L847.1,623.4 L848.4,624.0 L849.7,624.7 L851.0,625.3 L852.4,625.9 L853.7,626.6 L855.0,627.2 L856.4,627.8 L857.7,628.4 L859.1,628.9 L860.4,629.5 L861.8,630.1 L863.2,630.7 L864.6,631.2 L866.0,631.8 L867.4,632.4 L868.7,632.9 L870.2,633.5 L871.6,634.0 L873.0,634.6 L874.4,635.1 L875.8,635.6 L877.2,636.2 L878.7,636.7 L880.1,637.2 L881.5,637.7 L883.0,638.2 L884.4,638.7 L885.9,639.2 L887.3,639.7 L888.8,640.1 L890.3,640.6 L891.7,641.1 L893.2,641.5 L894.6,642.0 L896.1,642.4 L897.6,642.8 L899.1,643.2 L900.5,643.7 L902.0,644.1 L903.5,644.5 L904.9,644.8 L906.4,645.2 L907.9,645.6 L909.4,645.9 L910.9,646.3 L912.3,646.6 L913.8,647.0 L915.3,647.3 L916.8,647.6 L918.2,647.9 L919.7,648.2 L921.2,648.4 L922.7,648.7 L924.1,649.0 L925.6,649.2 L927.1,649.5 L928.6,649.7 L930.0,649.9 L931.5,650.1 L933.0,650.4 L934.4,650.6 L935.9,650.8 L937.4,651.0 L938.8,651.2 L940.3,651.4 L941.8,651.6 L943.3,651.8 L944.7,652.0 L946.2,652.2 L947.7,652.3 L949.2,652.5 L950.6,652.7 L952.1,652.9 L953.6,653.1 L955.1,653.3 L956.6,653.5 L958.0,653.6 L959.5,653.8 L961.0,654.0 L962.5,654.2 L964.0,654.3 L965.4,654.5 L966.9,654.7 L968.4,654.9 L969.9,655.0 L971.4,655.2 L972.9,655.4 L974.4,655.5 L975.9,655.7 L977.4,655.8 L978.8,656.0 L980.3,656.1 L981.8,656.3 L983.3,656.4 L984.8,656.6 L986.3,656.7 L987.8,656.9 L989.3,657.0 L990.8,657.1 L992.3,657.3 L993.8,657.4 L995.3,657.5 L996.8,657.6 L998.3,657.8 L999.8,657.9 L1001.3,658.0 L1002.8,658.1 L1004.3,658.2 L1005.9,658.3 L1007.4,658.4 L1008.9,658.5 L1010.4,658.6 L1011.9,658.7 L1013.4,658.8 L1014.9,658.9 L1016.4,659.0 L1018.0,659.1 L1019.5,659.2 L1021.0,659.2 L1022.5,659.3 L1024.0,659.4 L1025.5,659.4 L1027.1,659.5 L1028.6,659.6 L1030.1,659.6 L1031.6,659.7 L1033.1,659.7 L1034.6,659.7 L1036.1,659.8 L1037.6,659.8 L1039.1,659.9 L1040.5,659.9 L1042.0,659.9 L1043.5,659.9 L1045.0,660.0 L1046.6,660.0 L1048.2,660.0 L1050.0,660.0" fill="none" stroke="#a0a0a0" stroke-width="1.6" stroke-linejoin="round" stroke-linecap="butt"/>
<path d="M690.0,400.0 L690.0,401.8 L690.1,403.4 L690.1,405.0 L690.2,406.5 L690.3,407.9 L690.4,409.4 L690.5,410.8 L690.6,412.3 L690.7,413.8 L690.9,415.2 L691.0,416.7 L691.1,418.2 L691.3,419.7 L691.5,421.2 L691.6,422.7 L691.8,424.2 L692.0,425.7 L692.2,427.2 L692.4,428.6 L692.6,430.1 L692.8,431.6 L693.0,433.1 L693.3,434.6 L693.5,436.1 L693.7,437.5 L694.0,439.0 L694.3,440.5 L694.5,441.9 L694.8,443.4 L695.2,444.9 L695.5,446.3 L695.8,447.8 L696.2,449.3 L696.6,450.7 L697.0,452.2 L697.4,453.6 L697.8,455.1 L698.3,456.5 L698.8,458.0 L699.2,459.4 L699.7,460.8 L700.2,462.3 L700.7,463.7 L701.3,465.1 L701.8,466.5 L702.3,468.0 L702.9,469.4 L703.4,470.8 L704.0,472.2 L704.5,473.6 L705.1,474.9 L705.7,476.3 L706.3,477.7 L706.9,479.1 L707.5,480.4 L708.1,481.8 L708.7,483.2 L709.4,484.5 L710.0,485.9 L710.7,487.2 L711.4,488.6 L712.1,489.9 L712.8,491.3 L713.5,492.6 L714.2,493.9 L714.9,495.3 L715.7,496.6 L716.4,497.9 L717.2,499.2 L717.9,500.6 L718.7,501.9 L719.5,503.2 L720.2,504.5 L721.0,505.8 L721.8,507.1 L722.6,508.4 L723.4,509.6 L724.2,510.9 L725.0,512.2 L725.8,513.5 L726.6,514.7 L727.5,516.0 L728.3,517.3 L729.1,518.5 L729.9,519.8 L730.8,521.0 L731.6,522.3 L732.4,523.5 L733.3,524.8 L734.1,526.0 L735.0,527.2 L735.9,528.5 L736.7,529.7 L737.6,530.9 L738.5,532.2 L739.4,533.4 L740.3,534.6 L741.2,535.8 L742.1,537.1 L743.0,538.3 L743.9,539.5 L744.8,540.7 L745.7,541.9 L746.7,543.1 L747.6,544.3 L748.6,545.5 L749.5,546.7 L750.5,547.8 L751.4,549.0 L752.4,550.2 L753.3,551.3 L754.3,552.5 L755.3,553.7 L756.3,554.8 L757.3,556.0 L758.2,557.1 L759.2,558.2 L760.2,559.4 L761.2,560.5 L762.3,561.6 L763.3,562.7 L764.3,563.8 L765.3,564.9 L766.3,566.0 L767.4,567.1 L768.4,568.2 L769.4,569.3 L770.5,570.4 L771.5,571.4 L772.6,572.5 L773.6,573.6 L774.7,574.6 L775.7,575.7 L776.8,576.8 L777.9,577.8 L779.0,578.9 L780.1,579.9 L781.2,581.0 L782.3,582.0 L783.4,583.1 L784.5,584.1 L785.6,585.1 L786.7,586.2 L787.9,587.2 L789.0,588.2 L790.1,589.2 L791.3,590.2 L792.4,591.2 L793.6,592.2 L794.7,593.2 L795.9,594.2 L797.1,595.2 L798.3,596.2 L799.4,597.1 L800.6,598.1 L801.8,599.0 L803.0,599.9 L804.2,600.9 L805.4,601.8 L806.6,602.7 L807.8,603.6 L809.0,604.5 L810.2,605.3 L811.5,606.2 L812.7,607.1 L813.9,607.9 L815.2,608.7 L816.4,609.6 L817.7,610.4 L818.9,611.2 L820.2,612.0 L821.4,612.8 L822.7,613.5 L824.0,614.3 L825.2,615.1 L826.5,615.8 L827.8,616.6 L829.1,617.4 L830.4,618.1 L831.7,618.9 L833.1,619.6 L834.4,620.3 L835.7,621.1 L837.0,621.8 L838.4,622.5 L839.7,623.2 L841.1,623.9 L842.4,624.6 L843.8,625.3 L845.2,626.0 L846.5,626.7 L847.9,627.4 L849.3,628.0 L850.7,628.7 L852.0,629.3 L853.4,630.0 L854.8,630.6 L856.2,631.2 L857.6,631.8 L859.0,632.4 L860.4,633.0 L861.8,633.6 L863.2,634.2 L864.6,634.7 L866.1,635.2 L867.5,635.8 L868.9,636.3 L870.3,636.8 L871.7,637.3 L873.1,637.7 L874.6,638.2 L876.0,638.7 L877.4,639.1 L878.8,639.5 L880.2,639.9 L881.7,640.4 L883.1,640.8 L884.5,641.2 L886.0,641.5 L887.4,641.9 L888.9,642.3 L890.3,642.7 L891.7,643.0 L893.2,643.4 L894.7,643.8 L896.1,644.1 L897.6,644.5 L899.0,644.8 L900.5,645.1 L902.0,645.5 L903.4,645.8 L904.9,646.1 L906.4,646.5 L907.9,646.8 L909.3,647.1 L910.8,647.4 L912.3,647.7 L913.8,648.0 L915.3,648.3 L916.8,648.6 L918.3,648.9 L919.8,649.2 L921.3,649.5 L922.8,649.7 L924.2,650.0 L925.7,650.3 L927.2,650.5 L928.7,650.8 L930.2,651.0 L931.7,651.3 L933.2,651.5 L934.7,651.8 L936.2,652.0 L937.7,652.2 L939.3,652.4 L940.8,652.7 L942.3,652.9 L943.8,653.1 L945.3,653.3 L946.8,653.5 L948.3,653.7 L949.8,653.8 L951.3,654.0 L952.8,654.2 L954.3,654.4 L955.8,654.5 L957.3,654.7 L958.7,654.8 L960.2,655.0 L961.7,655.1 L963.2,655.3 L964.7,655.4 L966.2,655.6 L967.7,655.7 L969.2,655.8 L970.7,656.0 L972.2,656.1 L973.7,656.3 L975.2,656.4 L976.7,656.5 L978.2,656.7 L979.7,656.8 L981.2,656.9 L982.7,657.0 L984.2,657.2 L985.7,657.3 L987.2,657.4 L988.7,657.5 L990.2,657.7 L991.7,657.8 L993.2,657.9 L994.7,658.0 L996.2,658.1 L997.7,658.2 L999.2,658.3 L1000.7,658.4 L1002.2,658.5 L1003.7,658.6 L1005.2,658.7 L1006.8,658.8 L1008.3,658.9 L1009.8,659.0 L1011.3,659.1 L1012.8,659.2 L1014.3,659.2 L1015.8,659.3 L1017.3,659.4 L1018.8,659.5 L1020.3,659.5 L1021.8,659.6 L1023.3,659.6 L1024.8,659.7 L1026.3,659.7 L1027.8,659.8 L1029.2,659.8 L1030.7,659.9 L1032.1,659.9 L1033.6,659.9 L1035.1,660.0 L1036.6,660.0 L1038.3,660.0 L1040.0,660.0" fill="none" stroke="#a0a0a0" stroke-width="1.6" stroke-linejoin="round" stroke-linecap="butt"/>
<path d="M690.0,533.0 L691.0,534.4 L692.0,535.7 L693.0,536.9 L693.9,538.1 L694.8,539.3 L695.6,540.4 L696.5,541.6 L697.5,542.7 L698.4,543.9 L699.3,545.0 L700.2,546.2 L701.2,547.3 L702.1,548.5 L703.1,549.6 L704.1,550.8 L705.0,551.9 L706.0,553.1 L707.0,554.2 L708.0,555.4 L709.0,556.5 L710.0,557.7 L711.0,558.8 L712.0,559.9 L713.0,561.1 L714.0,562.2 L715.0,563.3 L716.1,564.4 L717.1,565.6 L718.1,566.7 L719.2,567.8 L720.2,568.9 L721.2,570.0 L722.3,571.1 L723.3,572.2 L724.4,573.3 L725.5,574.3 L726.5,575.4 L727.6,576.5 L728.7,577.5 L729.8,578.6 L730.9,579.6 L732.0,580.7 L733.1,581.7 L734.2,582.7 L735.3,583.7 L736.4,584.7 L737.5,585.7 L738.7,586.7 L739.8,587.7 L740.9,588.7 L742.1,589.6 L743.2,590.6 L744.4,591.5 L745.6,592.5 L746.7,593.5 L747.9,594.4 L749.1,595.3 L750.3,596.3 L751.5,597.2 L752.7,598.2 L753.9,599.1 L755.1,600.0 L756.3,600.9 L757.6,601.8 L758.8,602.7 L760.0,603.6 L761.3,604.5 L762.5,605.4 L763.8,606.3 L765.0,607.2 L766.3,608.0 L767.6,608.9 L768.8,609.7 L770.1,610.6 L771.4,611.4 L772.7,612.2 L774.0,613.0 L775.2,613.8 L776.5,614.6 L777.8,615.3 L779.1,616.1 L780.4,616.8 L781.8,617.6 L783.1,618.3 L784.4,619.0 L785.7,619.7 L787.0,620.4 L788.4,621.0 L789.7,621.7 L791.0,622.4 L792.4,623.0 L793.7,623.6 L795.1,624.3 L796.5,624.9 L797.8,625.5 L799.2,626.1 L800.6,626.7 L802.0,627.3 L803.3,627.9 L804.7,628.5 L806.1,629.1 L807.5,629.7 L808.9,630.3 L810.4,630.8 L811.8,631.4 L813.2,632.0 L814.6,632.5 L816.1,633.0 L817.5,633.6 L818.9,634.1 L820.4,634.6 L821.8,635.1 L823.3,635.6 L824.7,636.1 L826.1,636.6 L827.6,637.1 L829.1,637.5 L830.5,638.0 L832.0,638.4 L833.4,638.8 L834.9,639.3 L836.3,639.7 L837.8,640.1 L839.3,640.4 L840.7,640.8 L842.2,641.2 L843.7,641.5 L845.1,641.9 L846.6,642.2 L848.0,642.5 L849.5,642.8 L851.0,643.1 L852.4,643.4 L853.9,643.7 L855.4,644.0 L856.8,644.2 L858.3,644.5 L859.8,644.8 L861.2,645.1 L862.7,645.3 L864.2,645.6 L865.6,645.9 L867.1,646.1 L868.6,646.4 L870.1,646.7 L871.5,646.9 L873.0,647.2 L874.5,647.4 L876.0,647.7 L877.4,647.9 L878.9,648.2 L880.4,648.4 L881.9,648.7 L883.4,648.9 L884.9,649.1 L886.3,649.4 L887.8,649.6 L889.3,649.8 L890.8,650.0 L892.3,650.3 L893.8,650.5 L895.3,650.7 L896.8,650.9 L898.3,651.1 L899.8,651.3 L901.3,651.5 L902.8,651.7 L904.3,651.9 L905.8,652.1 L907.3,652.2 L908.8,652.4 L910.3,652.6 L911.8,652.7 L913.3,652.9 L914.9,653.1 L916.4,653.2 L917.9,653.4 L919.4,653.5 L920.9,653.6 L922.4,653.7 L924.0,653.9 L925.5,654.0 L927.0,654.1 L928.5,654.2 L930.0,654.3 L931.6,654.4 L933.1,654.5 L934.6,654.5 L936.1,654.6 L937.6,654.7 L939.0,654.8 L940.5,654.8 L942.0,654.9 L943.5,654.9 L945.0,654.9 L946.6,655.0 L948.2,655.0 L950.0,655.0" fill="none" stroke="#a0a0a0" stroke-width="1.6" stroke-linejoin="round" stroke-linecap="butt"/>
<path d="M690.0,600.0 L691.4,601.1 L692.7,602.1 L693.9,603.1 L695.1,604.0 L696.3,604.9 L697.5,605.8 L698.7,606.7 L699.8,607.5 L701.1,608.4 L702.3,609.2 L703.5,610.1 L704.7,610.9 L706.0,611.7 L707.2,612.6 L708.5,613.4 L709.8,614.2 L711.1,614.9 L712.4,615.7 L713.7,616.4 L715.0,617.2 L716.3,617.9 L717.6,618.6 L718.9,619.2 L720.2,619.9 L721.6,620.5 L722.9,621.2 L724.3,621.8 L725.6,622.4 L727.0,623.0 L728.3,623.6 L729.7,624.2 L731.1,624.8 L732.5,625.4 L733.9,626.0 L735.3,626.5 L736.7,627.1 L738.1,627.6 L739.5,628.2 L740.9,628.7 L742.4,629.3 L743.8,629.8 L745.2,630.3 L746.7,630.8 L748.1,631.3 L749.6,631.8 L751.0,632.3 L752.4,632.8 L753.9,633.2 L755.4,633.7 L756.8,634.1 L758.3,634.6 L759.7,635.0 L761.2,635.4 L762.7,635.8 L764.1,636.2 L765.6,636.6 L767.1,637.0 L768.5,637.4 L770.0,637.7 L771.5,638.1 L772.9,638.4 L774.4,638.7 L775.9,639.1 L777.3,639.4 L778.8,639.7 L780.3,640.0 L781.7,640.2 L783.2,640.5 L784.7,640.8 L786.2,641.1 L787.6,641.3 L789.1,641.6 L790.6,641.8 L792.1,642.1 L793.5,642.3 L795.0,642.5 L796.5,642.8 L798.0,643.0 L799.5,643.2 L801.0,643.5 L802.5,643.7 L804.0,643.9 L805.4,644.1 L806.9,644.3 L808.4,644.5 L809.9,644.7 L811.4,645.0 L812.9,645.1 L814.4,645.3 L815.9,645.5 L817.4,645.7 L818.9,645.9 L820.4,646.1 L821.9,646.3 L823.5,646.5 L825.0,646.6 L826.5,646.8 L828.0,647.0 L829.5,647.1 L831.0,647.3 L832.5,647.5 L834.0,647.6 L835.5,647.8 L837.0,647.9 L838.5,648.1 L840.0,648.2 L841.5,648.4 L843.0,648.5 L844.6,648.7 L846.1,648.8 L847.6,648.9 L849.1,649.1 L850.6,649.2 L852.1,649.3 L853.6,649.5 L855.1,649.6 L856.6,649.7 L858.1,649.8 L859.6,650.0 L861.1,650.1 L862.6,650.2 L864.1,650.3 L865.6,650.4 L867.1,650.5 L868.6,650.7 L870.1,650.8 L871.6,650.9 L873.1,651.0 L874.6,651.1 L876.1,651.2 L877.6,651.3 L879.2,651.4 L880.7,651.5 L882.2,651.6 L883.7,651.8 L885.2,651.9 L886.7,652.0 L888.2,652.1 L889.7,652.2 L891.2,652.3 L892.7,652.4 L894.2,652.5 L895.7,652.6 L897.2,652.7 L898.7,652.8 L900.2,652.9 L901.7,652.9 L903.2,653.0 L904.7,653.1 L906.2,653.2 L907.8,653.3 L909.3,653.4 L910.8,653.5 L912.3,653.5 L913.8,653.6 L915.3,653.7 L916.8,653.8 L918.3,653.9 L919.8,653.9 L921.3,654.0 L922.8,654.1 L924.3,654.1 L925.8,654.2 L927.3,654.3 L928.9,654.3 L930.4,654.4 L931.9,654.5 L933.4,654.5 L934.8,654.6 L936.3,654.6 L937.8,654.7 L939.2,654.7 L940.7,654.8 L942.1,654.8 L943.6,654.8 L945.1,654.9 L946.6,654.9 L948.3,655.0 L950.0,655.0" fill="none" stroke="#a0a0a0" stroke-width="1.6" stroke-linejoin="round" stroke-linecap="butt"/>
<rect x="680.0" y="262.0" width="10.0" height="118.0" fill="#9c9c9c"/>
<rect x="679.0" y="250.0" width="14.0" height="16.0" fill="#222"/>
<rect x="680.0" y="481.0" width="10.0" height="46.0" fill="#c4c4c4"/>
<rect x="680.0" y="529.0" width="10.0" height="55.0" fill="#b2bfdd"/>
<rect x="680.0" y="380.0" width="10.0" height="30.0" fill="#b8b8b8"/>
<path d="M301.0,659.0 L363.0,659.0 L366.0,657.0 L367.5,656.4 L369.0,655.8 L370.5,655.2 L372.0,654.7 L373.5,654.1 L375.0,653.6 L376.5,653.1 L378.0,652.6 L379.5,652.1 L381.0,651.7 L382.6,651.3 L384.1,650.9 L385.6,650.6 L387.1,650.3 L388.6,649.9 L390.1,649.6 L391.6,649.3 L393.1,648.9 L394.6,648.6 L396.1,648.2 L397.6,647.7 L399.1,647.2 L400.6,646.7 L402.1,646.1 L403.6,645.5 L405.1,644.9 L406.6,644.2 L408.1,643.5 L409.6,642.8 L411.1,642.0 L412.6,641.3 L414.2,640.5 L415.7,639.8 L417.2,639.0 L418.7,638.2 L420.2,637.5 L421.7,636.8 L423.2,636.1 L424.7,635.4 L426.2,634.7 L427.7,634.1 L429.2,633.5 L430.7,633.0 L432.2,632.4 L433.7,631.8 L435.2,631.3 L436.7,630.7 L438.2,630.2 L439.7,629.6 L441.2,629.1 L442.7,628.6 L444.2,628.1 L445.8,627.6 L447.3,627.1 L448.8,626.6 L450.3,626.1 L451.8,625.6 L453.3,625.1 L454.8,624.6 L456.3,624.1 L457.8,623.7 L459.3,623.2 L460.8,622.7 L462.3,622.3 L463.8,621.8 L465.3,621.3 L466.8,620.9 L468.3,620.4 L469.8,620.0 L471.3,619.6 L472.8,619.1 L474.3,618.7 L475.9,618.3 L477.4,617.8 L478.9,617.4 L480.4,617.0 L481.9,616.6 L483.4,616.1 L484.9,615.7 L486.4,615.3 L487.9,614.9 L489.4,614.5 L490.9,614.1 L492.4,613.7 L493.9,613.3 L495.4,612.9 L496.9,612.5 L498.4,612.1 L499.9,611.7 L501.4,611.3 L502.9,611.0 L504.4,610.6 L505.9,610.2 L507.5,609.8 L509.0,609.5 L510.5,609.1 L512.0,608.8 L513.5,608.4 L515.0,608.0 L516.5,607.7 L518.0,607.3 L519.5,607.0 L521.0,606.6 L522.5,606.2 L524.0,605.9 L525.5,605.5 L527.0,605.1 L528.5,604.8 L530.0,604.4 L531.5,604.0 L533.0,603.6 L534.5,603.3 L536.0,602.9 L537.5,602.5 L539.1,602.1 L540.6,601.7 L542.1,601.3 L543.6,600.9 L545.1,600.6 L546.6,600.2 L548.1,599.8 L549.6,599.4 L551.1,599.0 L552.6,598.6 L554.1,598.2 L555.6,597.8 L557.1,597.4 L558.6,597.1 L560.1,596.7 L561.6,596.3 L563.1,595.9 L564.6,595.6 L566.1,595.2 L567.6,594.8 L569.1,594.5 L570.7,594.1 L572.2,593.7 L573.7,593.4 L575.2,593.0 L576.7,592.7 L578.2,592.4 L579.7,592.0 L581.2,591.7 L582.7,591.3 L584.2,590.9 L585.7,590.5 L587.2,590.2 L588.7,589.8 L590.2,589.4 L591.7,589.0 L593.2,588.6 L594.7,588.2 L596.2,587.8 L597.7,587.4 L599.2,587.0 L600.8,586.7 L602.3,586.3 L603.8,585.9 L605.3,585.6 L606.8,585.3 L608.3,584.9 L609.8,584.6 L611.3,584.4 L612.8,584.1 L614.3,583.9 L615.8,583.6 L617.3,583.4 L618.8,583.3 L620.3,583.1 L621.8,583.0 L623.3,582.9 L624.8,582.8 L626.3,582.8 L627.8,582.8 L629.3,582.8 L630.8,582.7 L632.4,582.7 L633.9,582.7 L635.4,582.7 L636.9,582.7 L638.4,582.7 L639.9,582.6 L641.4,582.6 L642.9,582.6 L644.4,582.6 L645.9,582.6 L647.4,582.6 L648.9,582.6 L650.4,582.6 L651.9,582.6 L653.4,582.6 L654.9,582.6 L656.4,582.6 L657.9,582.6 L659.4,582.6 L660.9,582.7 L662.4,582.7 L664.0,582.7 L665.5,582.7 L667.0,582.7 L668.5,582.8 L670.0,582.8 L671.5,582.8 L673.0,582.9 L674.5,582.9 L676.0,582.9 L677.5,583.0 L679.0,583.0 L680.5,529.0 L689.5,529.0 L691.0,584.0 L691.0,584.2 L692.2,585.5 L693.3,586.6 L694.4,587.8 L695.4,588.8 L696.5,589.9 L697.5,590.9 L698.5,591.9 L699.6,592.9 L700.6,594.0 L701.7,595.0 L702.8,596.0 L703.8,597.1 L704.9,598.1 L706.0,599.1 L707.1,600.2 L708.2,601.2 L709.3,602.2 L710.4,603.3 L711.6,604.3 L712.7,605.3 L713.8,606.3 L715.0,607.3 L716.1,608.2 L717.3,609.2 L718.5,610.2 L719.7,611.1 L720.8,612.0 L722.0,613.0 L723.3,613.9 L724.5,614.8 L725.7,615.7 L726.9,616.5 L728.2,617.4 L729.4,618.2 L730.7,619.0 L732.0,619.8 L733.3,620.6 L734.6,621.3 L735.9,622.0 L737.2,622.7 L738.6,623.4 L739.9,624.1 L741.3,624.7 L742.7,625.3 L744.1,625.9 L745.4,626.5 L746.8,627.0 L748.2,627.6 L749.7,628.2 L751.1,628.7 L752.5,629.2 L753.9,629.8 L755.3,630.3 L756.8,630.9 L758.2,631.4 L759.6,631.9 L761.0,632.5 L762.4,633.0 L763.9,633.6 L765.3,634.2 L766.7,634.7 L768.1,635.2 L769.5,635.8 L770.9,636.3 L772.4,636.8 L773.8,637.3 L775.2,637.8 L776.6,638.3 L778.1,638.7 L779.5,639.2 L781.0,639.5 L782.4,639.9 L783.9,640.3 L785.3,640.6 L786.8,640.9 L788.3,641.2 L789.8,641.5 L791.2,641.7 L792.7,642.0 L794.2,642.2 L795.7,642.5 L797.2,642.7 L798.7,642.9 L800.2,643.1 L801.7,643.3 L803.2,643.5 L804.7,643.7 L806.2,643.8 L807.7,644.0 L809.2,644.2 L810.8,644.3 L812.3,644.5 L813.8,644.7 L815.3,644.8 L816.8,645.0 L818.3,645.1 L819.8,645.3 L821.3,645.4 L822.8,645.5 L824.3,645.7 L825.8,645.8 L827.3,645.9 L828.8,646.1 L830.3,646.2 L831.9,646.3 L833.4,646.4 L834.9,646.6 L836.4,646.7 L837.9,646.8 L839.4,646.9 L840.9,647.0 L842.4,647.1 L843.9,647.2 L845.4,647.2 L846.9,647.3 L848.5,647.4 L850.0,647.4 L851.5,647.5 L853.0,647.6 L854.5,647.6 L856.0,647.7 L857.5,647.7 L859.0,647.8 L860.5,647.8 L862.1,647.8 L863.6,647.9 L865.1,647.9 L866.6,648.0 L868.1,648.0 L869.6,648.0 L871.1,648.1 L872.6,648.1 L874.2,648.1 L875.7,648.2 L877.2,648.2 L878.7,648.2 L880.2,648.2 L881.7,648.3 L883.2,648.3 L884.7,648.3 L886.3,648.3 L887.8,648.4 L889.3,648.4 L890.8,648.4 L892.3,648.4 L893.8,648.4 L895.3,648.4 L896.8,648.5 L898.4,648.5 L899.9,648.5 L901.4,648.5 L902.9,648.5 L904.4,648.5 L905.9,648.5 L907.4,648.5 L908.9,648.6 L910.5,648.6 L912.0,648.6 L913.5,648.6 L915.0,648.6 L916.5,648.6 L918.0,648.6 L919.5,648.6 L921.0,648.6 L922.5,648.6 L924.1,648.7 L925.6,648.7 L927.1,648.7 L928.6,648.7 L930.1,648.7 L931.6,648.7 L933.1,648.7 L934.6,648.7 L936.2,648.7 L937.7,648.7 L939.2,648.7 L940.7,648.7 L942.2,648.7 L943.7,648.8 L945.2,648.8 L946.7,648.8 L948.3,648.8 L949.8,648.8 L951.3,648.8 L952.8,648.8 L954.3,648.8 L955.8,648.8 L957.3,648.8 L958.8,648.8 L960.4,648.8 L961.9,648.8 L963.4,648.8 L964.9,648.9 L966.4,648.9 L967.9,648.9 L969.4,648.9 L970.9,648.9 L972.5,648.9 L974.0,648.9 L975.5,648.9 L977.0,648.9 L978.5,648.9 L980.0,648.9 L981.5,648.9 L983.0,648.9 L984.6,648.9 L986.1,648.9 L987.6,648.9 L989.1,648.9 L990.6,648.9 L992.1,648.9 L993.6,648.9 L995.1,648.9 L996.7,648.9 L998.2,649.0 L999.7,649.0 L1001.2,649.0 L1002.7,649.0 L1004.2,649.0 L1005.7,649.0 L1007.2,649.0 L1008.8,649.0 L1010.3,649.0 L1011.8,649.0 L1013.3,649.0 L1014.8,649.0 L1016.3,649.0 L1017.8,649.0 L1019.3,649.0 L1020.8,649.0 L1022.3,649.0 L1023.8,649.0 L1025.3,649.0 L1026.8,649.0 L1028.2,649.0 L1029.7,649.0 L1031.1,649.0 L1032.6,649.0 L1034.1,649.0 L1035.6,649.0 L1037.3,649.0 L1039.0,649.0" fill="none" stroke="#b2bfdd" stroke-width="6.2" stroke-linejoin="round" stroke-linecap="butt"/>
<path d="M311.0,661.0 L385.0,661.0 L390.0,655.0 L391.5,651.5 L393.0,648.2 L394.5,644.9 L396.0,641.8 L397.5,638.9 L399.0,636.2 L400.5,633.5 L402.0,631.0 L403.5,628.5 L405.1,626.2 L406.6,623.9 L408.1,621.6 L409.6,619.4 L411.1,617.3 L412.6,615.2 L414.1,613.2 L415.6,611.2 L417.1,609.3 L418.6,607.4 L420.1,605.5 L421.6,603.7 L423.1,601.9 L424.6,600.1 L426.1,598.4 L427.6,596.7 L429.1,595.1 L430.6,593.5 L432.1,591.9 L433.7,590.4 L435.2,588.8 L436.7,587.4 L438.2,585.9 L439.7,584.5 L441.2,583.1 L442.7,581.7 L444.2,580.3 L445.7,579.0 L447.2,577.6 L448.7,576.3 L450.2,575.1 L451.7,573.8 L453.2,572.6 L454.7,571.5 L456.2,570.3 L457.7,569.2 L459.2,568.1 L460.7,567.0 L462.2,566.0 L463.8,564.9 L465.3,563.9 L466.8,562.9 L468.3,561.9 L469.8,561.0 L471.3,560.0 L472.8,559.1 L474.3,558.2 L475.8,557.3 L477.3,556.5 L478.8,555.7 L480.3,554.9 L481.8,554.1 L483.3,553.3 L484.8,552.6 L486.3,551.9 L487.8,551.2 L489.3,550.5 L490.8,549.9 L492.4,549.2 L493.9,548.6 L495.4,548.0 L496.9,547.4 L498.4,546.8 L499.9,546.2 L501.4,545.6 L502.9,545.1 L504.4,544.6 L505.9,544.0 L507.4,543.5 L508.9,543.0 L510.4,542.5 L511.9,542.0 L513.4,541.6 L514.9,541.1 L516.4,540.7 L517.9,540.2 L519.4,539.8 L521.0,539.3 L522.5,538.9 L524.0,538.5 L525.5,538.1 L527.0,537.7 L528.5,537.4 L530.0,537.0 L531.5,536.6 L533.0,536.3 L534.5,535.9 L536.0,535.5 L537.5,535.1 L539.0,534.8 L540.5,534.4 L542.0,534.0 L543.5,533.6 L545.0,533.2 L546.5,532.9 L548.0,532.5 L549.6,532.1 L551.1,531.8 L552.6,531.4 L554.1,531.1 L555.6,530.7 L557.1,530.4 L558.6,530.1 L560.1,529.8 L561.6,529.5 L563.1,529.3 L564.6,529.0 L566.1,528.8 L567.6,528.6 L569.1,528.4 L570.6,528.2 L572.1,528.0 L573.6,527.9 L575.1,527.8 L576.6,527.7 L578.2,527.6 L579.7,527.5 L581.2,527.5 L582.7,527.4 L584.2,527.4 L585.7,527.3 L587.2,527.3 L588.7,527.2 L590.2,527.2 L591.7,527.1 L593.2,527.1 L594.7,527.0 L596.2,527.0 L597.7,527.0 L599.2,526.9 L600.7,526.9 L602.2,526.9 L603.7,526.8 L605.2,526.8 L606.8,526.8 L608.3,526.7 L609.8,526.7 L611.3,526.7 L612.8,526.7 L614.3,526.6 L615.8,526.6 L617.3,526.6 L618.8,526.6 L620.3,526.6 L621.8,526.6 L623.3,526.5 L624.8,526.5 L626.3,526.5 L627.8,526.5 L629.3,526.5 L630.8,526.5 L632.3,526.5 L633.8,526.5 L635.3,526.5 L636.9,526.5 L638.4,526.5 L639.9,526.5 L641.4,526.5 L642.9,526.5 L644.4,526.5 L645.9,526.4 L647.4,526.4 L648.9,526.4 L650.4,526.4 L651.9,526.4 L653.4,526.4 L654.9,526.4 L656.4,526.4 L657.9,526.4 L659.4,526.4 L660.9,526.4 L662.4,526.4 L663.9,526.4 L665.5,526.4 L667.0,526.4 L668.5,526.4 L670.0,526.4 L671.5,526.4 L673.0,526.4 L674.5,526.4 L676.0,526.4 L677.5,526.4 L679.0,526.4 L680.5,479.5 L689.5,479.5 L691.0,530.0 L691.0,530.0 L692.0,531.4 L692.9,532.8 L693.7,534.1 L694.6,535.3 L695.4,536.5 L696.2,537.7 L697.0,538.9 L697.9,540.1 L698.7,541.3 L699.5,542.5 L700.4,543.8 L701.2,545.0 L702.1,546.2 L702.9,547.5 L703.8,548.7 L704.7,549.9 L705.6,551.1 L706.4,552.4 L707.3,553.6 L708.2,554.8 L709.1,556.0 L710.0,557.2 L711.0,558.4 L711.9,559.6 L712.8,560.8 L713.8,561.9 L714.7,563.1 L715.7,564.3 L716.7,565.4 L717.6,566.6 L718.6,567.7 L719.6,568.8 L720.6,570.0 L721.7,571.1 L722.7,572.2 L723.7,573.3 L724.7,574.4 L725.8,575.5 L726.8,576.6 L727.9,577.7 L728.9,578.8 L730.0,579.8 L731.1,580.9 L732.1,581.9 L733.2,583.0 L734.3,584.0 L735.4,585.1 L736.5,586.1 L737.6,587.2 L738.7,588.2 L739.8,589.2 L740.9,590.2 L742.0,591.2 L743.2,592.3 L744.3,593.3 L745.4,594.3 L746.5,595.3 L747.6,596.3 L748.8,597.3 L749.9,598.3 L751.0,599.4 L752.2,600.4 L753.3,601.4 L754.4,602.4 L755.5,603.4 L756.7,604.5 L757.8,605.5 L758.9,606.5 L760.1,607.5 L761.2,608.5 L762.3,609.5 L763.5,610.5 L764.6,611.5 L765.8,612.4 L767.0,613.4 L768.1,614.4 L769.3,615.3 L770.5,616.2 L771.7,617.1 L772.9,618.0 L774.1,618.9 L775.3,619.8 L776.6,620.6 L777.8,621.4 L779.1,622.2 L780.3,623.0 L781.6,623.8 L782.9,624.5 L784.2,625.3 L785.5,626.0 L786.9,626.7 L788.2,627.4 L789.6,628.1 L790.9,628.8 L792.3,629.4 L793.6,630.1 L795.0,630.7 L796.4,631.3 L797.8,631.9 L799.2,632.5 L800.6,633.1 L802.0,633.7 L803.4,634.2 L804.8,634.8 L806.2,635.3 L807.6,635.8 L809.0,636.4 L810.4,636.9 L811.9,637.4 L813.3,637.9 L814.7,638.4 L816.2,638.8 L817.6,639.3 L819.0,639.8 L820.5,640.2 L821.9,640.6 L823.4,641.1 L824.8,641.5 L826.3,641.9 L827.7,642.3 L829.2,642.7 L830.6,643.1 L832.1,643.4 L833.6,643.8 L835.0,644.2 L836.5,644.5 L838.0,644.9 L839.4,645.2 L840.9,645.5 L842.4,645.9 L843.9,646.2 L845.4,646.5 L846.8,646.8 L848.3,647.1 L849.8,647.3 L851.3,647.6 L852.8,647.8 L854.3,648.1 L855.8,648.3 L857.3,648.5 L858.7,648.7 L860.2,648.9 L861.7,649.1 L863.2,649.3 L864.7,649.4 L866.2,649.6 L867.7,649.8 L869.2,649.9 L870.7,650.1 L872.2,650.2 L873.7,650.4 L875.2,650.5 L876.7,650.6 L878.2,650.8 L879.7,650.9 L881.2,651.0 L882.7,651.2 L884.2,651.3 L885.7,651.4 L887.2,651.5 L888.7,651.7 L890.2,651.8 L891.7,651.9 L893.2,652.0 L894.7,652.1 L896.2,652.2 L897.8,652.3 L899.3,652.5 L900.8,652.6 L902.3,652.7 L903.8,652.8 L905.3,652.9 L906.8,653.0 L908.3,653.0 L909.8,653.1 L911.3,653.2 L912.8,653.3 L914.4,653.4 L915.9,653.5 L917.4,653.6 L918.9,653.7 L920.4,653.7 L921.9,653.8 L923.4,653.9 L924.9,654.0 L926.4,654.0 L928.0,654.1 L929.5,654.2 L931.0,654.3 L932.5,654.3 L934.0,654.4 L935.5,654.4 L937.0,654.5 L938.5,654.6 L940.0,654.6 L941.5,654.7 L943.1,654.7 L944.6,654.8 L946.1,654.9 L947.6,654.9 L949.1,655.0 L950.6,655.0 L952.1,655.1 L953.6,655.1 L955.1,655.2 L956.6,655.2 L958.1,655.3 L959.6,655.3 L961.1,655.4 L962.7,655.4 L964.2,655.4 L965.7,655.5 L967.2,655.5 L968.7,655.6 L970.2,655.6 L971.7,655.7 L973.2,655.7 L974.7,655.8 L976.2,655.8 L977.7,655.9 L979.2,655.9 L980.8,655.9 L982.3,656.0 L983.8,656.0 L985.3,656.1 L986.8,656.1 L988.3,656.2 L989.8,656.2 L991.3,656.3 L992.8,656.3 L994.3,656.3 L995.8,656.4 L997.3,656.4 L998.9,656.5 L1000.4,656.5 L1001.9,656.5 L1003.4,656.6 L1004.9,656.6 L1006.4,656.7 L1007.9,656.7 L1009.4,656.7 L1010.9,656.8 L1012.4,656.8 L1013.9,656.8 L1015.4,656.9 L1017.0,656.9 L1018.5,657.0 L1020.0,657.0 L1021.5,657.0 L1023.0,657.1 L1024.5,657.1 L1026.0,657.1 L1027.5,657.2 L1029.0,657.2 L1030.5,657.2 L1032.0,657.2 L1033.6,657.3 L1035.1,657.3 L1036.6,657.3 L1038.1,657.4 L1039.6,657.4 L1041.1,657.4 L1042.6,657.4 L1044.1,657.5 L1045.6,657.5 L1047.1,657.5 L1048.6,657.6 L1050.2,657.6 L1051.7,657.6 L1053.2,657.6 L1054.7,657.6 L1056.2,657.7 L1057.7,657.7 L1059.2,657.7 L1060.7,657.7 L1062.2,657.7 L1063.7,657.8 L1065.3,657.8 L1066.8,657.8 L1068.3,657.8 L1069.8,657.8 L1071.3,657.8 L1072.8,657.9 L1074.3,657.9 L1075.8,657.9 L1077.3,657.9 L1078.8,657.9 L1080.4,657.9 L1081.9,657.9 L1083.3,657.9 L1084.8,657.9 L1086.3,658.0 L1087.8,658.0 L1089.2,658.0 L1090.7,658.0 L1092.1,658.0 L1093.6,658.0 L1095.1,658.0 L1096.6,658.0 L1098.3,658.0 L1100.0,658.0" fill="none" stroke="#c4c4c4" stroke-width="6.2" stroke-linejoin="round" stroke-linecap="butt"/>
<path d="M311.0,661.0 L388.0,661.0 L395.5,648.0 L396.0,647.0 L397.5,643.7 L399.0,640.4 L400.5,637.2 L402.0,633.9 L403.5,630.6 L405.0,627.3 L406.5,624.1 L408.0,620.8 L409.5,617.6 L411.1,614.3 L412.6,611.0 L414.1,607.8 L415.6,604.5 L417.1,601.3 L418.6,598.1 L420.1,594.8 L421.6,591.6 L423.1,588.4 L424.6,585.2 L426.1,582.0 L427.6,578.8 L429.1,575.6 L430.6,572.4 L432.1,569.3 L433.6,566.1 L435.1,562.9 L436.6,559.7 L438.1,556.6 L439.7,553.4 L441.2,550.1 L442.7,546.9 L444.2,543.7 L445.7,540.4 L447.2,537.2 L448.7,533.9 L450.2,530.6 L451.7,527.2 L453.2,523.8 L454.7,520.4 L456.2,517.0 L457.7,513.5 L459.2,510.1 L460.7,506.6 L462.2,503.1 L463.7,499.6 L465.2,496.1 L466.8,492.6 L468.3,489.2 L469.8,485.7 L471.3,482.3 L472.8,478.9 L474.3,475.6 L475.8,472.3 L477.3,468.9 L478.8,465.5 L480.3,462.0 L481.8,458.6 L483.3,455.1 L484.8,451.7 L486.3,448.3 L487.8,444.9 L489.3,441.6 L490.8,438.4 L492.3,435.3 L493.8,432.3 L495.4,429.5 L496.9,426.7 L498.4,424.2 L499.9,421.8 L501.4,419.4 L502.9,417.0 L504.4,414.7 L505.9,412.5 L507.4,410.3 L508.9,408.2 L510.4,406.2 L511.9,404.3 L513.4,402.6 L514.9,400.9 L516.4,399.4 L517.9,398.1 L519.4,396.9 L520.9,395.8 L522.4,394.8 L524.0,393.8 L525.5,392.8 L527.0,391.9 L528.5,391.0 L530.0,390.2 L531.5,389.4 L533.0,388.7 L534.5,388.1 L536.0,387.4 L537.5,386.9 L539.0,386.3 L540.5,385.8 L542.0,385.4 L543.5,384.9 L545.0,384.4 L546.5,384.0 L548.0,383.6 L549.5,383.2 L551.0,382.8 L552.6,382.5 L554.1,382.2 L555.6,382.0 L557.1,381.8 L558.6,381.6 L560.1,381.5 L561.6,381.4 L563.1,381.4 L564.6,381.3 L566.1,381.2 L567.6,381.2 L569.1,381.1 L570.6,381.0 L572.1,381.0 L573.6,380.9 L575.1,380.9 L576.6,380.8 L578.1,380.8 L579.6,380.8 L581.2,380.7 L582.7,380.7 L584.2,380.7 L585.7,380.6 L587.2,380.6 L588.7,380.6 L590.2,380.6 L591.7,380.5 L593.2,380.5 L594.7,380.5 L596.2,380.5 L597.7,380.5 L599.2,380.5 L600.7,380.5 L602.2,380.5 L603.7,380.5 L605.2,380.5 L606.7,380.5 L608.2,380.5 L609.8,380.5 L611.3,380.5 L612.8,380.5 L614.3,380.5 L615.8,380.5 L617.3,380.5 L618.8,380.5 L620.3,380.5 L621.8,380.5 L623.3,380.5 L624.8,380.5 L626.3,380.5 L627.8,380.5 L629.3,380.5 L630.8,380.5 L632.3,380.5 L633.8,380.5 L635.3,380.5 L636.9,380.5 L638.4,380.5 L639.9,380.5 L641.4,380.5 L642.9,380.5 L644.4,380.5 L645.9,380.5 L647.4,380.5 L648.9,380.5 L650.4,380.5 L651.9,380.5 L653.4,380.5 L654.9,380.5 L656.4,380.5 L657.9,380.5 L659.4,380.5 L660.9,380.5 L662.4,380.5 L663.9,380.5 L665.5,380.5 L667.0,380.5 L668.5,380.5 L670.0,380.5 L671.5,380.5 L673.0,380.5 L674.5,380.5 L676.0,380.5 L677.5,380.5 L679.0,380.5 L680.5,275.0 L689.5,275.0 L689.5,330.0 L689.5,330.0 L689.5,331.7 L689.5,333.4 L689.6,334.9 L689.6,336.4 L689.6,337.8 L689.7,339.3 L689.7,340.7 L689.8,342.2 L689.8,343.6 L689.9,345.1 L689.9,346.6 L690.0,348.1 L690.0,349.6 L690.1,351.1 L690.1,352.6 L690.2,354.1 L690.2,355.6 L690.3,357.1 L690.4,358.6 L690.4,360.1 L690.5,361.6 L690.6,363.1 L690.7,364.6 L690.7,366.1 L690.8,367.6 L690.9,369.1 L691.0,370.6 L691.1,372.1 L691.2,373.6 L691.2,375.1 L691.3,376.6 L691.4,378.1 L691.5,379.6 L691.6,381.1 L691.7,382.6 L691.8,384.1 L691.9,385.6 L692.0,387.1 L692.1,388.6 L692.2,390.1 L692.3,391.6 L692.4,393.1 L692.6,394.6 L692.7,396.1 L692.8,397.6 L693.0,399.1 L693.1,400.7 L693.2,402.2 L693.4,403.7 L693.5,405.2 L693.7,406.7 L693.9,408.1 L694.0,409.6 L694.2,411.1 L694.4,412.6 L694.6,414.1 L694.8,415.6 L695.0,417.1 L695.2,418.6 L695.4,420.1 L695.6,421.5 L695.8,423.0 L696.1,424.5 L696.4,426.0 L696.6,427.4 L696.9,428.9 L697.2,430.4 L697.5,431.8 L697.9,433.3 L698.2,434.8 L698.6,436.2 L699.0,437.7 L699.4,439.1 L699.8,440.6 L700.2,442.0 L700.6,443.5 L701.1,444.9 L701.5,446.4 L702.0,447.8 L702.4,449.2 L702.9,450.7 L703.4,452.1 L703.9,453.5 L704.4,454.9 L704.9,456.4 L705.4,457.8 L705.9,459.2 L706.4,460.6 L706.9,462.0 L707.5,463.4 L708.0,464.8 L708.6,466.2 L709.2,467.6 L709.7,469.0 L710.3,470.4 L710.9,471.8 L711.5,473.1 L712.1,474.5 L712.8,475.9 L713.4,477.3 L714.0,478.6 L714.7,480.0 L715.3,481.3 L716.0,482.7 L716.7,484.0 L717.3,485.4 L718.0,486.7 L718.7,488.0 L719.4,489.4 L720.1,490.7 L720.9,492.0 L721.6,493.3 L722.3,494.6 L723.1,495.9 L723.8,497.2 L724.6,498.5 L725.4,499.8 L726.1,501.1 L726.9,502.4 L727.7,503.7 L728.5,505.0 L729.2,506.3 L730.0,507.6 L730.8,508.9 L731.6,510.1 L732.4,511.4 L733.1,512.7 L733.9,514.0 L734.7,515.3 L735.5,516.6 L736.3,517.9 L737.1,519.1 L737.9,520.4 L738.6,521.7 L739.4,523.0 L740.2,524.3 L741.0,525.5 L741.8,526.8 L742.6,528.1 L743.4,529.4 L744.2,530.7 L745.0,531.9 L745.8,533.2 L746.6,534.5 L747.4,535.8 L748.2,537.0 L748.9,538.3 L749.7,539.6 L750.5,540.9 L751.3,542.2 L752.1,543.5 L752.9,544.7 L753.7,546.0 L754.5,547.3 L755.2,548.6 L756.0,549.9 L756.8,551.2 L757.6,552.4 L758.4,553.7 L759.2,555.0 L760.0,556.3 L760.8,557.6 L761.6,558.8 L762.4,560.1 L763.2,561.4 L764.0,562.6 L764.8,563.9 L765.6,565.2 L766.4,566.4 L767.3,567.7 L768.1,568.9 L768.9,570.2 L769.8,571.4 L770.6,572.7 L771.5,573.9 L772.4,575.2 L773.2,576.4 L774.1,577.6 L775.0,578.9 L775.8,580.1 L776.7,581.3 L777.6,582.5 L778.5,583.7 L779.4,584.9 L780.3,586.1 L781.3,587.3 L782.2,588.5 L783.1,589.7 L784.1,590.8 L785.0,592.0 L786.0,593.1 L787.0,594.3 L788.0,595.4 L789.0,596.5 L790.0,597.6 L791.0,598.7 L792.0,599.8 L793.0,600.9 L794.1,601.9 L795.1,603.0 L796.2,604.1 L797.3,605.1 L798.4,606.2 L799.5,607.2 L800.6,608.2 L801.7,609.3 L802.8,610.3 L803.9,611.3 L805.0,612.3 L806.2,613.3 L807.3,614.3 L808.4,615.3 L809.6,616.3 L810.7,617.3 L811.9,618.2 L813.0,619.2 L814.2,620.2 L815.4,621.2 L816.5,622.1 L817.7,623.1 L818.9,624.1 L820.0,625.0 L821.2,626.0 L822.4,627.0 L823.6,627.9 L824.8,628.9 L826.0,629.9 L827.2,630.8 L828.4,631.7 L829.6,632.6 L830.8,633.5 L832.1,634.4 L833.3,635.2 L834.6,636.0 L835.8,636.7 L837.1,637.5 L838.4,638.2 L839.7,638.8 L841.0,639.4 L842.4,640.0 L843.7,640.6 L845.1,641.1 L846.5,641.6 L847.9,642.1 L849.3,642.5 L850.7,643.0 L852.1,643.4 L853.6,643.8 L855.0,644.2 L856.5,644.5 L858.0,644.9 L859.5,645.2 L860.9,645.5 L862.4,645.8 L863.9,646.1 L865.4,646.4 L866.9,646.7 L868.4,647.0 L869.9,647.2 L871.4,647.5 L872.9,647.7 L874.4,648.0 L875.9,648.2 L877.4,648.4 L878.9,648.6 L880.3,648.8 L881.8,649.0 L883.3,649.2 L884.8,649.4 L886.3,649.6 L887.8,649.8 L889.3,649.9 L890.8,650.1 L892.3,650.3 L893.8,650.4 L895.3,650.6 L896.8,650.7 L898.3,650.9 L899.8,651.0 L901.3,651.1 L902.8,651.3 L904.3,651.4 L905.8,651.5 L907.3,651.7 L908.8,651.8 L910.3,651.9 L911.8,652.0 L913.3,652.2 L914.8,652.3 L916.3,652.4 L917.8,652.5 L919.3,652.6 L920.8,652.7 L922.3,652.8 L923.8,652.9 L925.3,653.0 L926.8,653.1 L928.3,653.2 L929.8,653.4 L931.3,653.5 L932.8,653.6 L934.3,653.7 L935.8,653.8 L937.3,653.8 L938.8,653.9 L940.3,654.0 L941.8,654.1 L943.3,654.2 L944.8,654.3 L946.3,654.4 L947.8,654.5 L949.3,654.6 L950.8,654.7 L952.3,654.8 L953.8,654.8 L955.3,654.9 L956.8,655.0 L958.3,655.1 L959.8,655.2 L961.3,655.3 L962.8,655.3 L964.3,655.4 L965.8,655.5 L967.3,655.6 L968.8,655.6 L970.3,655.7 L971.9,655.8 L973.4,655.9 L974.9,655.9 L976.4,656.0 L977.9,656.1 L979.4,656.1 L980.9,656.2 L982.4,656.3 L983.9,656.3 L985.4,656.4 L986.9,656.5 L988.4,656.5 L989.9,656.6 L991.4,656.7 L992.9,656.7 L994.4,656.8 L995.9,656.8 L997.4,656.9 L998.9,657.0 L1000.4,657.0 L1001.9,657.1 L1003.4,657.1 L1004.9,657.2 L1006.4,657.2 L1007.9,657.3 L1009.4,657.3 L1010.9,657.4 L1012.4,657.4 L1013.9,657.5 L1015.4,657.5 L1016.9,657.6 L1018.4,657.7 L1019.9,657.7 L1021.5,657.8 L1023.0,657.8 L1024.5,657.9 L1026.0,657.9 L1027.5,658.0 L1029.0,658.0 L1030.5,658.1 L1032.0,658.1 L1033.5,658.2 L1035.0,658.2 L1036.5,658.3 L1038.0,658.3 L1039.5,658.3 L1041.0,658.4 L1042.5,658.4 L1044.0,658.5 L1045.5,658.5 L1047.0,658.6 L1048.5,658.6 L1050.0,658.7 L1051.5,658.7 L1053.0,658.8 L1054.5,658.8 L1056.0,658.8 L1057.5,658.9 L1059.0,658.9 L1060.5,659.0 L1062.0,659.0 L1063.6,659.0 L1065.1,659.1 L1066.6,659.1 L1068.1,659.2 L1069.6,659.2 L1071.1,659.2 L1072.6,659.3 L1074.1,659.3 L1075.6,659.3 L1077.1,659.4 L1078.6,659.4 L1080.1,659.4 L1081.6,659.5 L1083.1,659.5 L1084.6,659.5 L1086.1,659.6 L1087.6,659.6 L1089.1,659.6 L1090.6,659.7 L1092.1,659.7 L1093.6,659.7 L1095.1,659.7 L1096.6,659.8 L1098.1,659.8 L1099.6,659.8 L1101.1,659.8 L1102.5,659.8 L1104.0,659.9 L1105.4,659.9 L1106.9,659.9 L1108.3,659.9 L1109.8,659.9 L1111.3,660.0 L1113.0,660.0 L1114.7,660.0" fill="none" stroke="#8e8e8e" stroke-width="6.2" stroke-linejoin="round" stroke-linecap="butt"/>
<path d="M311.0,660.0 L386.0,660.0 L392.0,650.0 L423.0,415.0 L423.5,411.0 L425.0,402.8 L426.5,396.4 L428.0,392.8 L429.5,390.1 L431.0,388.0 L432.5,386.4 L434.0,385.2 L435.5,384.2 L437.0,383.4 L438.5,382.7 L440.0,382.0 L441.5,381.4 L443.0,380.7 L444.5,380.1 L446.0,379.4 L447.5,378.8 L449.1,378.2 L450.6,377.7 L452.1,377.1 L453.6,376.6 L455.1,376.1 L456.6,375.6 L458.1,375.1 L459.6,374.6 L461.1,374.1 L462.6,373.7 L464.1,373.3 L465.6,372.8 L467.1,372.4 L468.6,372.0 L470.1,371.6 L471.6,371.3 L473.1,370.9 L474.6,370.5 L476.1,370.2 L477.6,369.8 L479.1,369.5 L480.6,369.2 L482.1,368.9 L483.6,368.6 L485.1,368.3 L486.6,368.0 L488.1,367.7 L489.6,367.4 L491.1,367.1 L492.6,366.8 L494.1,366.5 L495.6,366.2 L497.1,366.0 L498.6,365.7 L500.1,365.4 L501.7,365.1 L503.2,364.9 L504.7,364.6 L506.2,364.4 L507.7,364.1 L509.2,363.9 L510.7,363.7 L512.2,363.5 L513.7,363.3 L515.2,363.1 L516.7,362.9 L518.2,362.7 L519.7,362.5 L521.2,362.4 L522.7,362.2 L524.2,362.1 L525.7,361.9 L527.2,361.8 L528.7,361.7 L530.2,361.5 L531.7,361.4 L533.2,361.3 L534.7,361.2 L536.2,361.1 L537.7,360.9 L539.2,360.8 L540.7,360.7 L542.2,360.6 L543.7,360.5 L545.2,360.4 L546.7,360.3 L548.2,360.2 L549.7,360.1 L551.2,360.1 L552.8,360.0 L554.3,359.9 L555.8,359.8 L557.3,359.7 L558.8,359.7 L560.3,359.6 L561.8,359.5 L563.3,359.4 L564.8,359.4 L566.3,359.3 L567.8,359.2 L569.3,359.2 L570.8,359.1 L572.3,359.0 L573.8,359.0 L575.3,358.9 L576.8,358.9 L578.3,358.8 L579.8,358.7 L581.3,358.7 L582.8,358.6 L584.3,358.6 L585.8,358.5 L587.3,358.5 L588.8,358.4 L590.3,358.3 L591.8,358.3 L593.3,358.2 L594.8,358.2 L596.3,358.1 L597.8,358.1 L599.3,358.1 L600.8,358.0 L602.4,358.0 L603.9,357.9 L605.4,357.9 L606.9,357.8 L608.4,357.8 L609.9,357.8 L611.4,357.7 L612.9,357.7 L614.4,357.6 L615.9,357.6 L617.4,357.6 L618.9,357.5 L620.4,357.5 L621.9,357.5 L623.4,357.4 L624.9,357.4 L626.4,357.4 L627.9,357.3 L629.4,357.3 L630.9,357.3 L632.4,357.2 L633.9,357.2 L635.4,357.2 L636.9,357.1 L638.4,357.1 L639.9,357.1 L641.4,357.0 L642.9,357.0 L644.4,357.0 L645.9,357.0 L647.4,356.9 L648.9,356.9 L650.4,356.9 L651.9,356.8 L653.5,356.8 L655.0,356.8 L656.5,356.8 L658.0,356.8 L659.5,356.7 L661.0,356.7 L662.5,356.7 L664.0,356.7 L665.5,356.6 L667.0,356.6 L668.5,356.6 L670.0,356.6 L671.5,356.6 L673.0,356.6 L674.5,356.5 L676.0,356.5 L677.5,356.5 L679.0,356.5 L680.5,265.0 L689.5,265.0 L689.5,380.0 L689.5,380.0 L689.5,381.7 L689.5,383.4 L689.6,384.9 L689.6,386.4 L689.6,387.9 L689.7,389.3 L689.7,390.8 L689.8,392.2 L689.9,393.7 L689.9,395.2 L690.0,396.7 L690.1,398.2 L690.2,399.7 L690.2,401.2 L690.3,402.7 L690.4,404.2 L690.5,405.7 L690.6,407.2 L690.7,408.7 L690.8,410.2 L690.9,411.7 L691.0,413.2 L691.1,414.7 L691.3,416.2 L691.4,417.7 L691.5,419.2 L691.6,420.7 L691.8,422.2 L691.9,423.7 L692.1,425.2 L692.3,426.7 L692.5,428.2 L692.6,429.7 L692.8,431.2 L693.0,432.7 L693.3,434.2 L693.5,435.7 L693.7,437.2 L694.0,438.7 L694.3,440.2 L694.5,441.6 L694.8,443.1 L695.1,444.6 L695.5,446.1 L695.8,447.5 L696.2,449.0 L696.6,450.4 L697.0,451.9 L697.4,453.3 L697.8,454.8 L698.2,456.2 L698.7,457.7 L699.1,459.1 L699.6,460.6 L700.1,462.0 L700.6,463.4 L701.1,464.8 L701.6,466.3 L702.1,467.7 L702.6,469.1 L703.2,470.5 L703.7,471.9 L704.3,473.3 L704.8,474.7 L705.4,476.1 L706.0,477.5 L706.5,478.9 L707.1,480.3 L707.7,481.7 L708.4,483.1 L709.0,484.4 L709.6,485.8 L710.3,487.2 L710.9,488.5 L711.6,489.8 L712.3,491.2 L713.0,492.5 L713.7,493.8 L714.4,495.2 L715.2,496.5 L715.9,497.8 L716.7,499.1 L717.4,500.4 L718.2,501.7 L718.9,503.1 L719.7,504.4 L720.4,505.7 L721.2,507.0 L722.0,508.3 L722.7,509.6 L723.5,510.9 L724.2,512.2 L725.0,513.5 L725.7,514.8 L726.4,516.2 L727.2,517.5 L727.9,518.8 L728.7,520.1 L729.4,521.4 L730.1,522.7 L730.9,524.1 L731.6,525.4 L732.4,526.7 L733.1,528.0 L733.9,529.3 L734.6,530.6 L735.4,531.9 L736.1,533.2 L736.9,534.6 L737.6,535.9 L738.4,537.2 L739.1,538.5 L739.9,539.8 L740.7,541.1 L741.4,542.4 L742.2,543.7 L743.0,545.0 L743.8,546.2 L744.6,547.5 L745.3,548.8 L746.1,550.1 L746.9,551.4 L747.7,552.7 L748.5,554.0 L749.3,555.3 L750.1,556.5 L750.9,557.8 L751.7,559.1 L752.5,560.4 L753.3,561.6 L754.1,562.9 L755.0,564.2 L755.8,565.4 L756.6,566.7 L757.4,568.0 L758.3,569.2 L759.1,570.5 L760.0,571.7 L760.8,573.0 L761.6,574.2 L762.5,575.5 L763.4,576.7 L764.2,578.0 L765.1,579.2 L765.9,580.4 L766.8,581.7 L767.7,582.9 L768.6,584.1 L769.4,585.4 L770.3,586.6 L771.2,587.8 L772.1,589.0 L773.0,590.3 L773.9,591.5 L774.8,592.7 L775.7,593.9 L776.6,595.1 L777.5,596.3 L778.4,597.5 L779.4,598.7 L780.3,599.9 L781.2,601.1 L782.2,602.2 L783.1,603.4 L784.0,604.6 L785.0,605.8 L785.9,606.9 L786.9,608.1 L787.9,609.3 L788.8,610.4 L789.8,611.6 L790.8,612.8 L791.7,613.9 L792.7,615.1 L793.7,616.2 L794.6,617.4 L795.6,618.5 L796.6,619.7 L797.6,620.8 L798.6,622.0 L799.6,623.1 L800.6,624.2 L801.6,625.4 L802.6,626.5 L803.6,627.6 L804.6,628.8 L805.6,629.9 L806.6,631.0 L807.6,632.1 L808.6,633.2 L809.7,634.3 L810.7,635.4 L811.8,636.5 L812.8,637.6 L813.9,638.6 L814.9,639.7 L815.9,640.7 L817.0,641.8 L818.0,642.8 L819.1,643.8 L820.1,644.8 L821.2,645.8 L822.3,646.8 L823.5,647.8 L824.7,648.9 L826.0,650.0 L846.0,663.0" fill="none" stroke="#606060" stroke-width="6.2" stroke-linejoin="round" stroke-linecap="butt"/>
<path d="M371.6,657.0 L371.6,657.0 L407.5,322.0 L408.0,320.0 L409.5,317.4 L411.0,315.3 L412.5,314.2 L414.0,313.5 L415.5,313.0 L417.0,312.5 L418.5,312.2 L420.0,312.0 L421.6,311.8 L423.1,311.6 L424.6,311.5 L426.1,311.3 L427.6,311.2 L429.1,311.1 L430.6,311.0 L432.1,310.9 L433.6,310.8 L435.1,310.7 L436.6,310.6 L438.1,310.5 L439.6,310.4 L441.1,310.4 L442.6,310.3 L444.1,310.2 L445.6,310.2 L447.1,310.1 L448.6,310.0 L450.2,309.9 L451.7,309.9 L453.2,309.8 L454.7,309.7 L456.2,309.7 L457.7,309.6 L459.2,309.5 L460.7,309.5 L462.2,309.4 L463.7,309.3 L465.2,309.3 L466.7,309.2 L468.2,309.2 L469.7,309.1 L471.2,309.0 L472.7,309.0 L474.2,308.9 L475.8,308.9 L477.3,308.8 L478.8,308.8 L480.3,308.7 L481.8,308.7 L483.3,308.6 L484.8,308.6 L486.3,308.5 L487.8,308.5 L489.3,308.4 L490.8,308.4 L492.3,308.3 L493.8,308.2 L495.3,308.2 L496.8,308.1 L498.3,308.1 L499.8,308.0 L501.3,307.9 L502.9,307.9 L504.4,307.8 L505.9,307.8 L507.4,307.7 L508.9,307.6 L510.4,307.6 L511.9,307.5 L513.4,307.4 L514.9,307.3 L516.4,307.3 L517.9,307.2 L519.4,307.1 L520.9,307.1 L522.4,307.0 L523.9,306.9 L525.4,306.8 L526.9,306.8 L528.4,306.7 L530.0,306.6 L531.5,306.6 L533.0,306.5 L534.5,306.4 L536.0,306.4 L537.5,306.3 L539.0,306.2 L540.5,306.2 L542.0,306.1 L543.5,306.0 L545.0,306.0 L546.5,305.9 L548.0,305.9 L549.5,305.8 L551.0,305.8 L552.5,305.7 L554.0,305.7 L555.5,305.6 L557.0,305.6 L558.6,305.5 L560.1,305.5 L561.6,305.5 L563.1,305.4 L564.6,305.4 L566.1,305.3 L567.6,305.3 L569.1,305.3 L570.6,305.2 L572.1,305.2 L573.6,305.2 L575.1,305.1 L576.6,305.1 L578.1,305.0 L579.6,305.0 L581.1,305.0 L582.6,304.9 L584.1,304.9 L585.7,304.9 L587.2,304.8 L588.7,304.8 L590.2,304.8 L591.7,304.7 L593.2,304.7 L594.7,304.7 L596.2,304.6 L597.7,304.6 L599.2,304.6 L600.7,304.5 L602.2,304.5 L603.7,304.5 L605.2,304.4 L606.7,304.4 L608.2,304.4 L609.7,304.3 L611.2,304.3 L612.8,304.3 L614.3,304.2 L615.8,304.2 L617.3,304.2 L618.8,304.1 L620.3,304.1 L621.8,304.1 L623.3,304.1 L624.8,304.0 L626.3,304.0 L627.8,304.0 L629.3,304.0 L630.8,303.9 L632.3,303.9 L633.8,303.9 L635.3,303.9 L636.8,303.8 L638.4,303.8 L639.9,303.8 L641.4,303.8 L642.9,303.8 L644.4,303.7 L645.9,303.7 L647.4,303.7 L648.9,303.7 L650.4,303.7 L651.9,303.6 L653.4,303.6 L654.9,303.6 L656.4,303.6 L657.9,303.6 L659.4,303.6 L660.9,303.6 L662.4,303.6 L663.9,303.5 L665.5,303.5 L667.0,303.5 L668.5,303.5 L670.0,303.5 L671.5,303.5 L673.0,303.5 L674.5,303.5 L676.0,303.5 L677.5,303.5 L679.0,303.5 L680.5,255.0 L689.5,255.0 L689.5,290.0 L689.5,290.0 L689.5,291.7 L689.6,293.4 L689.6,294.9 L689.7,296.4 L689.7,297.9 L689.7,299.3 L689.8,300.8 L689.8,302.2 L689.9,303.7 L689.9,305.2 L690.0,306.6 L690.0,308.1 L690.1,309.6 L690.2,311.1 L690.2,312.6 L690.3,314.1 L690.3,315.7 L690.4,317.2 L690.5,318.7 L690.5,320.2 L690.6,321.7 L690.7,323.2 L690.8,324.7 L690.8,326.2 L690.9,327.7 L691.0,329.2 L691.1,330.7 L691.1,332.2 L691.2,333.7 L691.3,335.2 L691.4,336.8 L691.5,338.3 L691.6,339.8 L691.7,341.3 L691.8,342.8 L691.9,344.3 L692.0,345.8 L692.1,347.3 L692.2,348.8 L692.3,350.3 L692.4,351.8 L692.5,353.3 L692.6,354.8 L692.8,356.3 L692.9,357.8 L693.0,359.4 L693.2,360.9 L693.3,362.4 L693.4,363.9 L693.6,365.4 L693.7,366.9 L693.9,368.4 L694.1,369.9 L694.2,371.4 L694.4,372.9 L694.6,374.4 L694.8,375.9 L694.9,377.4 L695.1,378.9 L695.4,380.4 L695.6,381.9 L695.8,383.4 L696.0,384.9 L696.3,386.4 L696.5,387.9 L696.7,389.4 L697.0,390.9 L697.3,392.3 L697.5,393.8 L697.8,395.3 L698.1,396.8 L698.4,398.3 L698.7,399.7 L699.1,401.2 L699.4,402.7 L699.7,404.1 L700.1,405.6 L700.5,407.0 L700.9,408.5 L701.3,409.9 L701.7,411.3 L702.2,412.8 L702.7,414.2 L703.2,415.6 L703.7,417.0 L704.2,418.4 L704.8,419.8 L705.3,421.2 L705.9,422.6 L706.5,424.0 L707.1,425.4 L707.7,426.8 L708.3,428.2 L708.9,429.6 L709.4,431.0 L710.0,432.4 L710.6,433.8 L711.1,435.2 L711.7,436.6 L712.3,438.0 L712.8,439.4 L713.4,440.8 L713.9,442.3 L714.5,443.7 L715.0,445.1 L715.6,446.5 L716.1,447.9 L716.7,449.3 L717.3,450.6 L717.9,452.0 L718.5,453.4 L719.1,454.8 L719.7,456.1 L720.4,457.5 L721.0,458.9 L721.7,460.2 L722.3,461.5 L723.0,462.9 L723.7,464.2 L724.4,465.6 L725.1,466.9 L725.9,468.2 L726.6,469.5 L727.3,470.8 L728.1,472.2 L728.8,473.5 L729.6,474.8 L730.4,476.1 L731.1,477.4 L731.9,478.7 L732.7,480.0 L733.5,481.3 L734.3,482.6 L735.1,483.8 L735.9,485.1 L736.7,486.4 L737.5,487.7 L738.4,489.0 L739.2,490.2 L740.0,491.5 L740.8,492.8 L741.7,494.0 L742.5,495.3 L743.3,496.5 L744.2,497.8 L745.0,499.0 L745.9,500.3 L746.8,501.5 L747.6,502.7 L748.5,504.0 L749.4,505.2 L750.3,506.4 L751.2,507.6 L752.0,508.8 L752.9,510.1 L753.9,511.3 L754.8,512.5 L755.7,513.7 L756.6,514.9 L757.5,516.1 L758.4,517.3 L759.3,518.5 L760.3,519.7 L761.2,520.9 L762.1,522.1 L763.0,523.3 L763.9,524.5 L764.9,525.7 L765.8,526.9 L766.7,528.1 L767.6,529.3 L768.5,530.4 L769.5,531.6 L770.4,532.8 L771.3,534.0 L772.3,535.2 L773.2,536.4 L774.1,537.6 L775.0,538.8 L776.0,540.0 L776.9,541.2 L777.8,542.3 L778.8,543.5 L779.7,544.7 L780.7,545.9 L781.6,547.1 L782.5,548.3 L783.5,549.4 L784.4,550.6 L785.4,551.8 L786.3,553.0 L787.3,554.1 L788.2,555.3 L789.2,556.5 L790.1,557.6 L791.1,558.8 L792.1,560.0 L793.0,561.1 L794.0,562.3 L795.0,563.4 L796.0,564.6 L797.0,565.7 L797.9,566.8 L798.9,568.0 L799.9,569.1 L800.9,570.2 L801.9,571.4 L803.0,572.5 L804.0,573.6 L805.0,574.7 L806.0,575.8 L807.0,576.9 L808.1,578.0 L809.1,579.1 L810.1,580.2 L811.2,581.3 L812.2,582.4 L813.3,583.5 L814.3,584.6 L815.4,585.7 L816.4,586.8 L817.4,587.9 L818.5,589.0 L819.5,590.0 L820.6,591.1 L821.6,592.2 L822.7,593.3 L823.7,594.4 L824.8,595.5 L825.9,596.5 L826.9,597.6 L828.0,598.7 L829.1,599.7 L830.1,600.8 L831.2,601.9 L832.3,602.9 L833.4,603.9 L834.5,605.0 L835.6,606.0 L836.7,607.0 L837.8,608.1 L839.0,609.1 L840.1,610.1 L841.2,611.0 L842.4,612.0 L843.5,613.0 L844.7,613.9 L845.9,614.9 L847.1,615.8 L848.3,616.7 L849.5,617.6 L850.7,618.5 L851.9,619.3 L853.2,620.2 L854.4,621.0 L855.7,621.8 L857.0,622.7 L858.3,623.4 L859.6,624.2 L860.9,625.0 L862.2,625.7 L863.5,626.4 L864.8,627.1 L866.2,627.8 L867.5,628.5 L868.9,629.2 L870.2,629.8 L871.6,630.5 L873.0,631.1 L874.3,631.7 L875.7,632.3 L877.1,632.9 L878.5,633.5 L879.9,634.1 L881.3,634.6 L882.7,635.2 L884.1,635.7 L885.5,636.2 L886.9,636.7 L888.3,637.2 L889.7,637.7 L891.0,638.2 L892.4,638.7 L893.8,639.1 L895.2,639.4 L896.6,639.8 L898.2,640.0 L899.8,640.3 L901.5,640.5" fill="none" stroke="#333333" stroke-width="6.2" stroke-linejoin="round" stroke-linecap="butt"/>
<path d="M362.0,660.0 L362.0,660.0 L392.5,309.0 L393.0,306.0 L394.5,303.8 L396.0,302.5 L397.5,301.9 L399.0,301.6 L400.5,301.5 L402.0,302.0 L403.5,302.7 L405.0,304.1 L406.5,306.6 L408.1,308.5 L409.6,309.6 L411.1,310.3 L412.6,310.5 L414.1,310.5 L415.6,310.5 L417.1,310.4 L418.6,310.4 L420.1,310.4 L421.6,310.3 L423.1,310.2 L424.6,310.2 L426.1,310.1 L427.6,310.0 L429.1,309.9 L430.6,309.9 L432.1,309.8 L433.6,309.7 L435.1,309.6 L436.7,309.5 L438.2,309.4 L439.7,309.3 L441.2,309.2 L442.7,309.1 L444.2,309.0 L445.7,309.0 L447.2,308.9 L448.7,308.8 L450.2,308.7 L451.7,308.7 L453.2,308.6 L454.7,308.5 L456.2,308.5 L457.7,308.4 L459.2,308.3 L460.7,308.3 L462.2,308.2 L463.7,308.1 L465.3,308.1 L466.8,308.0 L468.3,307.9 L469.8,307.9 L471.3,307.8 L472.8,307.7 L474.3,307.6 L475.8,307.6 L477.3,307.5 L478.8,307.4 L480.3,307.4 L481.8,307.3 L483.3,307.2 L484.8,307.2 L486.3,307.1 L487.8,307.0 L489.3,307.0 L490.8,306.9 L492.3,306.8 L493.9,306.8 L495.4,306.7 L496.9,306.6 L498.4,306.6 L499.9,306.5 L501.4,306.4 L502.9,306.4 L504.4,306.3 L505.9,306.2 L507.4,306.2 L508.9,306.1 L510.4,306.0 L511.9,305.9 L513.4,305.9 L514.9,305.8 L516.4,305.7 L517.9,305.6 L519.4,305.6 L520.9,305.5 L522.5,305.4 L524.0,305.3 L525.5,305.3 L527.0,305.2 L528.5,305.1 L530.0,305.0 L531.5,305.0 L533.0,304.9 L534.5,304.8 L536.0,304.8 L537.5,304.7 L539.0,304.6 L540.5,304.6 L542.0,304.5 L543.5,304.5 L545.0,304.4 L546.5,304.3 L548.0,304.3 L549.5,304.2 L551.1,304.2 L552.6,304.2 L554.1,304.1 L555.6,304.1 L557.1,304.1 L558.6,304.0 L560.1,304.0 L561.6,304.0 L563.1,304.0 L564.6,303.9 L566.1,303.9 L567.6,303.9 L569.1,303.9 L570.6,303.8 L572.1,303.8 L573.6,303.8 L575.1,303.8 L576.6,303.8 L578.1,303.7 L579.7,303.7 L581.2,303.7 L582.7,303.7 L584.2,303.7 L585.7,303.6 L587.2,303.6 L588.7,303.6 L590.2,303.6 L591.7,303.6 L593.2,303.5 L594.7,303.5 L596.2,303.5 L597.7,303.5 L599.2,303.5 L600.7,303.5 L602.2,303.4 L603.7,303.4 L605.2,303.4 L606.7,303.4 L608.3,303.4 L609.8,303.4 L611.3,303.4 L612.8,303.3 L614.3,303.3 L615.8,303.3 L617.3,303.3 L618.8,303.3 L620.3,303.3 L621.8,303.3 L623.3,303.2 L624.8,303.2 L626.3,303.2 L627.8,303.2 L629.3,303.2 L630.8,303.2 L632.3,303.2 L633.8,303.2 L635.3,303.2 L636.9,303.1 L638.4,303.1 L639.9,303.1 L641.4,303.1 L642.9,303.1 L644.4,303.1 L645.9,303.1 L647.4,303.1 L648.9,303.1 L650.4,303.1 L651.9,303.1 L653.4,303.1 L654.9,303.0 L656.4,303.0 L657.9,303.0 L659.4,303.0 L660.9,303.0 L662.4,303.0 L663.9,303.0 L665.5,303.0 L667.0,303.0 L668.5,303.0 L670.0,303.0 L671.5,303.0 L673.0,303.0 L674.5,303.0 L676.0,303.0 L677.5,303.0 L679.0,303.0 L680.5,250.0 L693.6,250.0 L693.6,250.0 L693.6,251.7 L693.6,253.4 L693.6,254.9 L693.6,256.4 L693.6,257.9 L693.6,259.3 L693.7,260.8 L693.7,262.2 L693.7,263.7 L693.7,265.1 L693.7,266.6 L693.8,268.1 L693.8,269.6 L693.8,271.1 L693.8,272.6 L693.9,274.1 L693.9,275.6 L693.9,277.1 L693.9,278.6 L694.0,280.2 L694.0,281.7 L694.0,283.2 L694.1,284.7 L694.1,286.2 L694.2,287.7 L694.2,289.2 L694.2,290.7 L694.3,292.2 L694.3,293.7 L694.4,295.2 L694.4,296.7 L694.5,298.2 L694.5,299.7 L694.6,301.2 L694.6,302.7 L694.7,304.2 L694.7,305.7 L694.8,307.2 L694.9,308.7 L694.9,310.2 L695.0,311.8 L695.1,313.3 L695.2,314.8 L695.3,316.3 L695.4,317.8 L695.5,319.3 L695.6,320.8 L695.8,322.3 L695.9,323.8 L696.0,325.3 L696.2,326.8 L696.3,328.3 L696.4,329.8 L696.6,331.3 L696.8,332.8 L696.9,334.3 L697.1,335.8 L697.2,337.3 L697.4,338.8 L697.6,340.3 L697.8,341.8 L698.0,343.3 L698.2,344.8 L698.3,346.3 L698.5,347.8 L698.7,349.3 L699.0,350.8 L699.2,352.2 L699.4,353.7 L699.6,355.2 L699.9,356.7 L700.1,358.2 L700.4,359.6 L700.6,361.1 L700.9,362.6 L701.2,364.1 L701.5,365.5 L701.8,367.0 L702.1,368.5 L702.5,369.9 L702.8,371.4 L703.2,372.9 L703.5,374.3 L703.9,375.8 L704.3,377.3 L704.7,378.7 L705.1,380.2 L705.5,381.6 L705.9,383.1 L706.3,384.5 L706.8,386.0 L707.2,387.4 L707.6,388.9 L708.1,390.3 L708.5,391.8 L708.9,393.2 L709.4,394.7 L709.8,396.1 L710.3,397.6 L710.7,399.0 L711.2,400.4 L711.6,401.9 L712.1,403.3 L712.5,404.7 L713.0,406.2 L713.5,407.6 L713.9,409.0 L714.4,410.5 L714.9,411.9 L715.4,413.3 L715.8,414.8 L716.3,416.2 L716.8,417.6 L717.3,419.0 L717.8,420.5 L718.3,421.9 L718.9,423.3 L719.4,424.7 L719.9,426.1 L720.4,427.6 L721.0,429.0 L721.5,430.4 L722.0,431.8 L722.6,433.2 L723.1,434.6 L723.7,436.0 L724.3,437.4 L724.8,438.8 L725.4,440.2 L726.0,441.6 L726.5,443.0 L727.1,444.4 L727.7,445.8 L728.3,447.2 L728.9,448.5 L729.5,449.9 L730.1,451.3 L730.7,452.7 L731.3,454.0 L732.0,455.4 L732.6,456.8 L733.2,458.1 L733.9,459.5 L734.5,460.8 L735.2,462.2 L735.8,463.5 L736.5,464.9 L737.2,466.2 L737.8,467.6 L738.5,468.9 L739.2,470.3 L739.9,471.6 L740.6,472.9 L741.4,474.3 L742.1,475.6 L742.8,476.9 L743.5,478.3 L744.3,479.6 L745.0,480.9 L745.8,482.2 L746.5,483.5 L747.3,484.8 L748.1,486.1 L748.8,487.4 L749.6,488.7 L750.4,490.0 L751.2,491.3 L752.0,492.6 L752.8,493.8 L753.6,495.1 L754.4,496.3 L755.3,497.6 L756.1,498.8 L757.0,500.1 L757.8,501.3 L758.7,502.5 L759.6,503.7 L760.5,505.0 L761.4,506.2 L762.3,507.4 L763.2,508.5 L764.1,509.7 L765.0,510.9 L766.0,512.1 L766.9,513.3 L767.9,514.5 L768.8,515.6 L769.8,516.8 L770.7,518.0 L771.7,519.1 L772.6,520.3 L773.6,521.5 L774.5,522.6 L775.5,523.8 L776.4,525.0 L777.4,526.1 L778.4,527.3 L779.3,528.5 L780.3,529.6 L781.2,530.8 L782.2,532.0 L783.2,533.1 L784.1,534.3 L785.1,535.4 L786.1,536.6 L787.0,537.7 L788.0,538.9 L789.0,540.0 L790.0,541.2 L791.0,542.3 L791.9,543.4 L792.9,544.6 L793.9,545.7 L794.9,546.8 L795.9,548.0 L796.9,549.1 L797.9,550.2 L798.9,551.4 L799.9,552.5 L800.9,553.6 L801.9,554.7 L802.9,555.8 L804.0,557.0 L805.0,558.1 L806.0,559.2 L807.0,560.3 L808.0,561.4 L809.0,562.5 L810.1,563.6 L811.1,564.7 L812.1,565.8 L813.2,566.9 L814.2,568.0 L815.2,569.1 L816.3,570.2 L817.3,571.3 L818.4,572.3 L819.5,573.4 L820.6,574.4 L821.7,575.5 L822.8,576.5 L823.9,577.5 L825.0,578.5 L826.2,579.4 L827.3,580.4 L828.5,581.3 L829.7,582.3 L830.9,583.2 L832.0,584.1 L833.2,585.0 L834.5,585.9 L835.7,586.8 L836.9,587.7 L838.1,588.6 L839.4,589.4 L840.6,590.3 L841.9,591.1 L843.1,592.0 L844.4,592.8 L845.6,593.6 L846.9,594.4 L848.2,595.2 L849.5,596.0 L850.7,596.8 L852.0,597.6 L853.3,598.4 L854.6,599.2 L855.9,599.9 L857.2,600.7 L858.5,601.4 L859.8,602.2 L861.1,602.9 L862.4,603.7 L863.8,604.4 L865.1,605.1 L866.4,605.9 L867.7,606.6 L869.0,607.3 L870.4,608.0 L871.7,608.7 L873.0,609.4 L874.4,610.1 L875.7,610.8 L877.1,611.5 L878.4,612.1 L879.8,612.8 L881.1,613.5 L882.5,614.1 L883.8,614.8 L885.2,615.4 L886.6,616.1 L887.9,616.7 L889.3,617.3 L890.7,618.0 L892.0,618.6 L893.4,619.2 L894.8,619.8 L896.2,620.4 L897.6,620.9 L899.0,621.5 L900.4,622.1 L901.8,622.6 L903.2,623.2 L904.6,623.7 L906.0,624.2 L907.4,624.7 L908.8,625.3 L910.2,625.8 L911.7,626.3 L913.1,626.7 L914.5,627.2 L915.9,627.7 L917.4,628.1 L918.8,628.6 L920.3,629.1 L921.7,629.5 L923.1,629.9 L924.6,630.4 L926.0,630.8 L927.5,631.2 L928.9,631.6 L930.4,632.1 L931.8,632.5 L933.3,632.9 L934.7,633.3 L936.2,633.7 L937.6,634.1 L939.1,634.5 L940.6,634.8 L942.0,635.2 L943.5,635.6 L944.9,635.9 L946.4,636.3 L947.9,636.6 L949.4,636.9 L950.8,637.2 L952.3,637.5 L953.8,637.8 L955.3,638.0 L956.7,638.3 L958.2,638.5 L959.7,638.8 L961.2,639.0 L962.7,639.2 L964.2,639.4 L965.7,639.6 L967.2,639.8 L968.7,640.0 L970.2,640.2 L971.6,640.4 L973.1,640.5 L974.6,640.7 L976.1,640.9 L977.6,641.0 L979.1,641.2 L980.6,641.3 L982.1,641.5 L983.6,641.6 L985.1,641.7 L986.6,641.9 L988.1,642.0 L989.6,642.1 L991.1,642.2 L992.6,642.3 L994.1,642.5 L995.5,642.6 L997.0,642.7 L998.4,642.8 L999.9,642.9 L1001.3,643.0 L1002.8,643.0 L1004.3,643.1 L1006.0,643.2 L1007.7,643.3" fill="none" stroke="#000" stroke-width="6.5" stroke-linejoin="round" stroke-linecap="butt"/>
<line x1="880.0" y1="648.5" x2="1039.8" y2="648.5" stroke="#b6c2de" stroke-width="8" stroke-linecap="butt"/>
<line x1="899.0" y1="660.0" x2="1114.8" y2="660.0" stroke="#a8a8a8" stroke-width="9" stroke-linecap="butt"/>
<line x1="1042.0" y1="668.5" x2="1098.0" y2="668.5" stroke="#333" stroke-width="3.5" stroke-linecap="butt"/>
<text x="1112.26" y="132.00" font-size="139.13" font-weight="bold" textLength="96.37" lengthAdjust="spacingAndGlyphs" fill="#000">B</text>
<text x="1207.49" y="196.70" font-size="60.43" font-weight="bold" textLength="84.90" lengthAdjust="spacingAndGlyphs" fill="#000">RU</text>
<text x="1574.28" y="185.40" font-size="51.45" font-weight="bold" textLength="117.46" lengthAdjust="spacingAndGlyphs" fill="#000">ParA</text>
<text x="1690.57" y="201.00" font-size="51.45" font-weight="bold" textLength="29.94" lengthAdjust="spacingAndGlyphs" fill="#000">F</text>
<text x="1735.49" y="186.01" font-size="51.38" font-weight="bold" textLength="145.98" lengthAdjust="spacingAndGlyphs" fill="#000">(1 µM)</text>
<line x1="1284.8" y1="222.0" x2="1284.8" y2="707.0" stroke="#000" stroke-width="4.5" stroke-linecap="butt"/>
<line x1="1282.5" y1="698.6" x2="1882.0" y2="698.6" stroke="#000" stroke-width="4.5" stroke-linecap="butt"/>
<line x1="1275.0" y1="232.0" x2="1284.8" y2="232.0" stroke="#000" stroke-width="4.5" stroke-linecap="butt"/>
<text x="1151.48" y="253.67" font-size="53.38" font-weight="bold" textLength="119.42" lengthAdjust="spacingAndGlyphs" fill="#000">1600</text>
<line x1="1275.0" y1="336.8" x2="1284.8" y2="336.8" stroke="#000" stroke-width="4.5" stroke-linecap="butt"/>
<text x="1151.48" y="359.76" font-size="53.52" font-weight="bold" fill="#000">1200</text>
<line x1="1275.0" y1="442.4" x2="1284.8" y2="442.4" stroke="#000" stroke-width="4.5" stroke-linecap="butt"/>
<text x="1180.99" y="464.17" font-size="53.38" font-weight="bold" textLength="89.58" lengthAdjust="spacingAndGlyphs" fill="#000">800</text>
<line x1="1275.0" y1="547.8" x2="1284.8" y2="547.8" stroke="#000" stroke-width="4.5" stroke-linecap="butt"/>
<text x="1181.53" y="569.96" font-size="53.52" font-weight="bold" fill="#000">400</text>
<line x1="1275.0" y1="654.0" x2="1284.8" y2="654.0" stroke="#000" stroke-width="4.5" stroke-linecap="butt"/>
<text x="1238.41" y="666.20" font-size="50.28" font-weight="bold" textLength="30.42" lengthAdjust="spacingAndGlyphs" fill="#000">0</text>
<line x1="1326.6" y1="698.6" x2="1326.6" y2="712.8" stroke="#000" stroke-width="4.5" stroke-linecap="butt"/>
<text x="1312.50" y="760.07" font-size="43.24" font-weight="bold" textLength="25.09" lengthAdjust="spacingAndGlyphs" fill="#000">0</text>
<line x1="1460.6" y1="698.6" x2="1460.6" y2="712.8" stroke="#000" stroke-width="4.5" stroke-linecap="butt"/>
<text x="1416.22" y="760.07" font-size="43.24" font-weight="bold" textLength="77.27" lengthAdjust="spacingAndGlyphs" fill="#000">160</text>
<line x1="1594.6" y1="698.6" x2="1594.6" y2="712.8" stroke="#000" stroke-width="4.5" stroke-linecap="butt"/>
<text x="1576.90" y="760.07" font-size="43.24" font-weight="bold" textLength="75.14" lengthAdjust="spacingAndGlyphs" fill="#000">320</text>
<line x1="1728.6" y1="698.6" x2="1728.6" y2="712.8" stroke="#000" stroke-width="4.5" stroke-linecap="butt"/>
<text x="1710.09" y="760.07" font-size="43.24" font-weight="bold" textLength="75.66" lengthAdjust="spacingAndGlyphs" fill="#000">480</text>
<line x1="1862.6" y1="698.6" x2="1862.6" y2="712.8" stroke="#000" stroke-width="4.5" stroke-linecap="butt"/>
<text x="1838.78" y="760.07" font-size="43.24" font-weight="bold" textLength="75.98" lengthAdjust="spacingAndGlyphs" fill="#000">640</text>
<text x="1480.56" y="813.60" font-size="42.74" font-weight="bold" textLength="167.45" lengthAdjust="spacingAndGlyphs" fill="#000">Time (s)</text>
<text x="1660.59" y="310.40" font-size="51.45" font-weight="bold" font-style="italic" textLength="33.56" lengthAdjust="spacingAndGlyphs" fill="#000">P</text>
<text x="1692.18" y="310.40" font-size="51.45" font-weight="bold" textLength="150.97" lengthAdjust="spacingAndGlyphs" fill="#000">parAB</text>
<text x="1842.58" y="327.40" font-size="51.30" font-weight="bold" textLength="29.81" lengthAdjust="spacingAndGlyphs" fill="#000">F</text>
<text x="1658.64" y="379.63" font-size="36.57" font-weight="bold" textLength="140.77" lengthAdjust="spacingAndGlyphs" fill="#1f9e55">nsDNA</text>
<path d="M1293.0,654.0 L1326.0,654.0 L1329.0,662.0 L1331.0,679.0 L1333.5,662.0 L1338.8,648.0 L1345.0,647.8 L1479.5,647.5 L1484.4,639.3 L1489.5,653.3 L1493.0,654.0 L1830.7,653.5" fill="none" stroke="#1e8a1e" stroke-width="6" stroke-linejoin="round" stroke-linecap="butt"/>
<path d="M1329.0,655.0 L1336.0,252.0 L1336.5,250.0 L1338.0,247.8 L1339.5,246.8 L1341.0,246.5 L1342.5,246.2 L1344.1,246.0 L1345.6,246.0 L1347.1,246.0 L1348.6,245.9 L1350.1,245.9 L1351.6,245.9 L1353.1,245.8 L1354.6,245.8 L1356.1,245.8 L1357.6,245.8 L1359.2,245.8 L1360.7,245.8 L1362.2,245.7 L1363.7,245.7 L1365.2,245.7 L1366.7,245.7 L1368.2,245.7 L1369.7,245.7 L1371.2,245.7 L1372.8,245.7 L1374.3,245.7 L1375.8,245.6 L1377.3,245.6 L1378.8,245.6 L1380.3,245.6 L1381.8,245.6 L1383.3,245.6 L1384.8,245.6 L1386.3,245.6 L1387.9,245.6 L1389.4,245.6 L1390.9,245.6 L1392.4,245.6 L1393.9,245.6 L1395.4,245.5 L1396.9,245.5 L1398.4,245.5 L1399.9,245.5 L1401.5,245.5 L1403.0,245.5 L1404.5,245.5 L1406.0,245.4 L1407.5,245.4 L1409.0,245.4 L1410.5,245.4 L1412.0,245.4 L1413.5,245.4 L1415.0,245.3 L1416.6,245.3 L1418.1,245.3 L1419.6,245.3 L1421.1,245.3 L1422.6,245.3 L1424.1,245.2 L1425.6,245.2 L1427.1,245.2 L1428.6,245.2 L1430.2,245.2 L1431.7,245.1 L1433.2,245.1 L1434.7,245.1 L1436.2,245.1 L1437.7,245.1 L1439.2,245.1 L1440.7,245.0 L1442.2,245.0 L1443.7,245.0 L1445.3,245.0 L1446.8,245.0 L1448.3,244.9 L1449.8,244.9 L1451.3,244.9 L1452.8,244.9 L1454.3,244.9 L1455.8,244.8 L1457.3,244.8 L1458.9,244.8 L1460.4,244.8 L1461.9,244.8 L1463.4,244.7 L1464.9,244.7 L1466.4,244.7 L1467.9,244.7 L1469.4,244.7 L1470.9,244.6 L1472.4,244.6 L1474.0,244.6 L1475.5,244.6 L1477.0,244.5 L1478.5,244.5 L1480.0,244.5 L1480.6,245.3 L1482.1,261.5 L1483.6,275.5 L1485.1,287.7 L1486.6,298.4 L1488.1,307.8 L1489.6,316.2 L1491.1,323.8 L1492.6,330.7 L1494.1,337.0 L1495.6,342.9 L1497.1,348.3 L1498.6,353.5 L1500.1,358.3 L1501.6,362.9 L1503.1,367.3 L1504.6,371.6 L1506.1,375.7 L1507.6,379.6 L1509.1,383.5 L1510.7,387.2 L1512.2,390.9 L1513.7,394.5 L1515.2,398.0 L1516.7,401.4 L1518.2,404.8 L1519.7,408.2 L1521.2,411.4 L1522.7,414.7 L1524.2,417.9 L1525.7,421.0 L1527.2,424.1 L1528.7,427.1 L1530.2,430.1 L1531.7,433.1 L1533.2,436.1 L1534.7,439.0 L1536.2,441.8 L1537.7,444.6 L1539.2,447.4 L1540.7,450.2 L1542.2,452.9 L1543.7,455.6 L1545.2,458.2 L1546.7,460.9 L1548.2,463.5 L1549.7,466.0 L1551.2,468.6 L1552.7,471.1 L1554.2,473.5 L1555.7,476.0 L1557.2,478.4 L1558.7,480.8 L1560.2,483.1 L1561.7,485.4 L1563.2,487.7 L1564.7,490.0 L1566.2,492.2 L1567.7,494.4 L1569.3,496.6 L1570.8,498.8 L1572.3,500.9 L1573.8,503.0 L1575.3,505.1 L1576.8,507.2 L1578.3,509.2 L1579.8,511.2 L1581.3,513.2 L1582.8,515.2 L1584.3,517.1 L1585.8,519.0 L1587.3,520.9 L1588.8,522.8 L1590.3,524.6 L1591.8,526.5 L1593.3,528.3 L1594.8,530.1 L1596.3,531.8 L1597.8,533.6 L1599.3,535.3 L1600.8,537.0 L1602.3,538.6 L1603.8,540.3 L1605.3,541.9 L1606.8,543.6 L1608.3,545.2 L1609.8,546.7 L1611.3,548.3 L1612.8,549.8 L1614.3,551.4 L1615.8,552.9 L1617.3,554.3 L1618.8,555.8 L1620.3,557.3 L1621.8,558.7 L1623.3,560.1 L1624.8,561.5 L1626.3,562.9 L1627.9,564.3 L1629.4,565.6 L1630.9,567.0 L1632.4,568.3 L1633.9,569.6 L1635.4,570.9 L1636.9,572.1 L1638.4,573.4 L1639.9,574.6 L1641.4,575.9 L1642.9,577.1 L1644.4,578.3 L1645.9,579.4 L1647.4,580.6 L1648.9,581.8 L1650.4,582.9 L1651.9,584.0 L1653.4,585.1 L1654.9,586.2 L1656.4,587.3 L1657.9,588.4 L1659.4,589.5 L1660.9,590.5 L1662.4,591.5 L1663.9,592.6 L1665.4,593.6 L1666.9,594.6 L1668.4,595.6 L1669.9,596.5 L1671.4,597.5 L1672.9,598.4 L1674.4,599.4 L1675.9,600.3 L1677.4,601.2 L1678.9,602.1 L1680.4,603.0 L1681.9,603.9 L1683.4,604.8 L1685.0,605.7 L1686.5,606.5 L1688.0,607.4 L1689.5,608.2 L1691.0,609.0 L1692.5,609.8 L1694.0,610.6 L1695.5,611.4 L1697.0,612.2 L1698.5,613.0 L1700.0,613.7 L1701.5,614.5 L1703.0,615.2 L1704.5,616.0 L1706.0,616.7 L1707.5,617.4 L1709.0,618.1 L1710.5,618.9 L1712.0,619.5 L1713.5,620.2 L1715.0,620.9 L1716.5,621.6 L1718.0,622.2 L1719.5,622.9 L1721.0,623.5 L1722.5,624.2 L1724.0,624.8 L1725.5,625.4 L1727.0,626.1 L1728.5,626.7 L1730.0,627.3 L1731.5,627.9 L1733.0,628.4 L1734.5,629.0 L1736.0,629.6 L1737.5,630.2 L1739.0,630.7 L1740.5,631.3 L1742.0,631.8 L1743.6,632.4 L1745.1,632.9 L1746.6,633.4 L1748.1,633.9 L1749.6,634.5 L1751.1,635.0 L1752.6,635.5 L1754.1,636.0 L1755.6,636.4 L1757.1,636.9 L1758.6,637.4 L1760.1,637.9 L1761.6,638.3 L1763.1,638.8 L1764.6,639.3 L1766.1,639.7 L1767.6,640.2 L1769.1,640.6 L1770.6,641.0 L1772.1,641.5 L1773.6,641.9 L1775.1,642.3 L1776.6,642.7 L1778.1,643.1 L1779.6,643.5 L1781.1,643.9 L1782.6,644.3 L1784.1,644.7 L1785.6,645.1 L1787.1,645.5 L1788.6,645.9 L1790.1,646.2 L1791.6,646.6 L1793.1,647.0 L1794.6,647.3 L1796.1,647.7 L1797.6,648.0 L1799.1,648.4 L1800.6,648.7 L1802.2,649.0 L1803.7,649.4 L1805.2,649.7 L1806.7,650.0 L1808.2,650.3 L1809.7,650.7 L1811.2,651.0 L1812.7,651.3 L1814.2,651.6 L1815.7,651.9 L1817.2,652.2 L1818.7,652.5 L1820.2,652.8 L1821.7,653.1 L1823.2,653.4 L1824.7,653.6 L1826.2,653.9 L1827.7,654.2 L1829.2,654.5 L1830.7,654.7" fill="none" stroke="#000" stroke-width="5" stroke-linejoin="round" stroke-linecap="butt"/>
<text x="54.04" y="909.08" font-size="141.55" font-weight="bold" textLength="94.88" lengthAdjust="spacingAndGlyphs" fill="#000">C</text>
<text x="213.79" y="1340.98" font-size="60.57" font-weight="bold" textLength="112.85" lengthAdjust="spacingAndGlyphs" fill="#000" transform="rotate(-90 213.79 1340.98)">ParA</text>
<text x="233.70" y="1228.17" font-size="60.14" font-weight="bold" textLength="25.90" lengthAdjust="spacingAndGlyphs" fill="#000" transform="rotate(-90 233.70 1228.17)">F</text>
<text x="215.30" y="1202.20" font-size="58.08" textLength="20.05" lengthAdjust="spacingAndGlyphs" fill="#000" transform="rotate(-90 215.30 1202.20)" stroke="#000" stroke-width="0.8">/</text>
<text x="214.40" y="1182.94" font-size="61.45" font-weight="bold" font-style="italic" textLength="31.30" lengthAdjust="spacingAndGlyphs" fill="#000" transform="rotate(-90 214.40 1182.94)">P</text>
<text x="212.94" y="1153.08" font-size="59.33" font-weight="bold" textLength="145.03" lengthAdjust="spacingAndGlyphs" fill="#000" transform="rotate(-90 212.94 1153.08)">parAB</text>
<text x="231.00" y="1007.22" font-size="61.45" font-weight="bold" textLength="28.10" lengthAdjust="spacingAndGlyphs" fill="#000" transform="rotate(-90 231.00 1007.22)">F</text>
<text x="284.47" y="1318.32" font-size="56.81" font-weight="bold" textLength="315.47" lengthAdjust="spacingAndGlyphs" fill="#000" transform="rotate(-90 284.47 1318.32)">stoichiometry</text>
<line x1="364.0" y1="898.7" x2="977.8" y2="898.7" stroke="#666" stroke-width="2.5" stroke-linecap="butt"/>
<line x1="977.8" y1="898.7" x2="977.8" y2="1329.8" stroke="#bbb" stroke-width="2" stroke-linecap="butt"/>
<line x1="364.0" y1="1006.5" x2="977.8" y2="1006.5" stroke="#222" stroke-width="2.5" stroke-linecap="butt"/>
<line x1="364.0" y1="1115.0" x2="977.8" y2="1115.0" stroke="#222" stroke-width="2.5" stroke-linecap="butt"/>
<line x1="364.0" y1="1222.0" x2="977.8" y2="1222.0" stroke="#222" stroke-width="2.5" stroke-linecap="butt"/>
<line x1="364.0" y1="1329.8" x2="977.8" y2="1329.8" stroke="#000" stroke-width="4.5" stroke-linecap="butt"/>
<line x1="383.5" y1="898.7" x2="383.5" y2="1346.0" stroke="#000" stroke-width="3.5" stroke-linecap="butt"/>
<rect x="403.3" y="1249.6" width="37.0" height="80.2" fill="#000"/>
<rect x="502.5" y="1192.6" width="37.4" height="137.2" fill="#000"/>
<rect x="602.2" y="1042.7" width="38.9" height="287.1" fill="#000"/>
<rect x="701.4" y="1019.8" width="41.4" height="310.0" fill="#000"/>
<rect x="799.8" y="971.6" width="40.2" height="358.2" fill="#000"/>
<rect x="900.3" y="973.6" width="41.0" height="356.2" fill="#000"/>
<line x1="383.2" y1="1329.8" x2="383.2" y2="1346.0" stroke="#000" stroke-width="4" stroke-linecap="butt"/>
<line x1="480.4" y1="1329.8" x2="480.4" y2="1346.0" stroke="#000" stroke-width="4" stroke-linecap="butt"/>
<line x1="576.9" y1="1329.8" x2="576.9" y2="1346.0" stroke="#000" stroke-width="4" stroke-linecap="butt"/>
<line x1="674.5" y1="1329.8" x2="674.5" y2="1346.0" stroke="#000" stroke-width="4" stroke-linecap="butt"/>
<line x1="771.7" y1="1329.8" x2="771.7" y2="1346.0" stroke="#000" stroke-width="4" stroke-linecap="butt"/>
<line x1="868.1" y1="1329.8" x2="868.1" y2="1346.0" stroke="#000" stroke-width="4" stroke-linecap="butt"/>
<line x1="964.6" y1="1329.8" x2="964.6" y2="1346.0" stroke="#000" stroke-width="4" stroke-linecap="butt"/>
<text x="327.80" y="1018.01" font-size="58.59" font-weight="bold" textLength="30.48" lengthAdjust="spacingAndGlyphs" fill="#000">3</text>
<text x="327.16" y="1133.00" font-size="59.43" font-weight="bold" textLength="32.24" lengthAdjust="spacingAndGlyphs" fill="#000">2</text>
<text x="327.37" y="1241.70" font-size="61.59" font-weight="bold" textLength="23.43" lengthAdjust="spacingAndGlyphs" fill="#000">1</text>
<text x="325.59" y="1343.20" font-size="59.86" font-weight="bold" textLength="33.49" lengthAdjust="spacingAndGlyphs" fill="#000">0</text>
<text x="398.41" y="951.20" font-size="47.95" font-weight="bold" textLength="157.68" lengthAdjust="spacingAndGlyphs" fill="#000">136 bp</text>
<text x="1005.15" y="1360.00" font-size="52.17" font-weight="bold" fill="#000">µM</text>
<text x="369.07" y="1454.47" font-size="50.76" font-weight="bold" letter-spacing="6.09" fill="#000" transform="rotate(-45 369.07 1454.47) translate(369.07 1454.47) scale(0.82 1) translate(-369.07 -1454.47)">0.05</text>
<text x="473.05" y="1450.82" font-size="49.01" font-weight="bold" letter-spacing="5.88" fill="#000" transform="rotate(-45 473.05 1450.82) translate(473.05 1450.82) scale(0.82 1) translate(-473.05 -1450.82)">0.11</text>
<text x="577.56" y="1454.97" font-size="50.73" font-weight="bold" letter-spacing="6.09" fill="#000" transform="rotate(-45 577.56 1454.97) translate(577.56 1454.97) scale(0.82 1) translate(-577.56 -1454.97)">0.22</text>
<text x="693.51" y="1431.98" font-size="51.24" font-weight="bold" letter-spacing="6.15" fill="#000" transform="rotate(-45 693.51 1431.98) translate(693.51 1431.98) scale(0.82 1) translate(-693.51 -1431.98)">0.5</text>
<text x="801.03" y="1424.91" font-size="46.73" font-weight="bold" letter-spacing="5.61" fill="#000" transform="rotate(-45 801.03 1424.91) translate(801.03 1424.91) scale(0.82 1) translate(-801.03 -1424.91)">1.5</text>
<text x="904.17" y="1430.42" font-size="49.75" font-weight="bold" letter-spacing="5.97" fill="#000" transform="rotate(-45 904.17 1430.42) translate(904.17 1430.42) scale(0.82 1) translate(-904.17 -1430.42)">4.5</text>
<line x1="1197.7" y1="891.8" x2="1822.9" y2="891.8" stroke="#777" stroke-width="2.5" stroke-linecap="butt"/>
<line x1="1822.9" y1="891.8" x2="1822.9" y2="1329.8" stroke="#aaa" stroke-width="2" stroke-linecap="butt"/>
<line x1="1197.7" y1="1001.6" x2="1822.9" y2="1001.6" stroke="#555" stroke-width="2.5" stroke-linecap="butt"/>
<line x1="1197.7" y1="1110.3" x2="1822.9" y2="1110.3" stroke="#222" stroke-width="2.5" stroke-linecap="butt"/>
<line x1="1197.7" y1="1220.9" x2="1822.9" y2="1220.9" stroke="#888" stroke-width="2.5" stroke-linecap="butt"/>
<line x1="1197.7" y1="1329.8" x2="1822.9" y2="1329.8" stroke="#000" stroke-width="4.5" stroke-linecap="butt"/>
<line x1="1209.8" y1="891.8" x2="1209.8" y2="1342.2" stroke="#000" stroke-width="3.5" stroke-linecap="butt"/>
<rect x="1239.0" y="980.3" width="44.1" height="349.5" fill="#000"/>
<rect x="1342.0" y="988.9" width="43.7" height="340.9" fill="#000"/>
<rect x="1444.2" y="981.7" width="44.1" height="348.1" fill="#000"/>
<rect x="1546.8" y="988.9" width="44.6" height="340.9" fill="#000"/>
<rect x="1651.5" y="1035.2" width="40.3" height="294.6" fill="#fff" stroke="#000" stroke-width="2.5"/>
<rect x="1754.2" y="1001.6" width="39.6" height="328.2" fill="#c8c8c8" stroke="#333" stroke-width="2.5"/>
<line x1="1211.0" y1="1329.8" x2="1211.0" y2="1342.2" stroke="#000" stroke-width="4" stroke-linecap="butt"/>
<line x1="1312.4" y1="1329.8" x2="1312.4" y2="1342.2" stroke="#000" stroke-width="4" stroke-linecap="butt"/>
<line x1="1415.0" y1="1329.8" x2="1415.0" y2="1342.2" stroke="#000" stroke-width="4" stroke-linecap="butt"/>
<line x1="1517.0" y1="1329.8" x2="1517.0" y2="1342.2" stroke="#000" stroke-width="4" stroke-linecap="butt"/>
<line x1="1619.2" y1="1329.8" x2="1619.2" y2="1342.2" stroke="#000" stroke-width="4" stroke-linecap="butt"/>
<line x1="1722.2" y1="1329.8" x2="1722.2" y2="1342.2" stroke="#000" stroke-width="4" stroke-linecap="butt"/>
<line x1="1823.0" y1="1329.8" x2="1823.0" y2="1342.2" stroke="#000" stroke-width="4" stroke-linecap="butt"/>
<text x="1154.04" y="1018.00" font-size="59.86" font-weight="bold" textLength="29.48" lengthAdjust="spacingAndGlyphs" fill="#000">3</text>
<text x="1153.34" y="1133.00" font-size="60.71" font-weight="bold" textLength="32.69" lengthAdjust="spacingAndGlyphs" fill="#000">2</text>
<text x="1154.01" y="1241.70" font-size="61.59" font-weight="bold" textLength="24.03" lengthAdjust="spacingAndGlyphs" fill="#000">1</text>
<text x="1152.38" y="1343.20" font-size="59.86" font-weight="bold" textLength="32.31" lengthAdjust="spacingAndGlyphs" fill="#000">0</text>
<text x="1220.68" y="942.90" font-size="44.11" font-weight="bold" textLength="159.22" lengthAdjust="spacingAndGlyphs" fill="#000">136 bp</text>
<text x="1642.45" y="942.45" font-size="45.35" font-weight="bold" textLength="57.52" lengthAdjust="spacingAndGlyphs" fill="#000">85</text>
<text x="1727.54" y="942.45" font-size="45.35" font-weight="bold" textLength="81.34" lengthAdjust="spacingAndGlyphs" fill="#000">240</text>
<line x1="1235.7" y1="964.4" x2="1587.5" y2="964.4" stroke="#000" stroke-width="7" stroke-linecap="butt"/>
<line x1="1634.5" y1="964.4" x2="1709.8" y2="964.4" stroke="#000" stroke-width="7" stroke-linecap="butt"/>
<line x1="1737.6" y1="964.4" x2="1812.8" y2="964.4" stroke="#000" stroke-width="7" stroke-linecap="butt"/>
<text x="1307.07" y="1464.34" font-size="51.37" font-weight="bold" letter-spacing="4.11" fill="#000" transform="rotate(-45 1307.07 1464.34) translate(1307.07 1464.34) scale(0.88 1) translate(-1307.07 -1464.34)">DNA</text>
<text x="1416.97" y="1462.28" font-size="52.02" font-weight="bold" letter-spacing="4.16" fill="#000" transform="rotate(-45 1416.97 1462.28) translate(1416.97 1462.28) scale(0.88 1) translate(-1416.97 -1462.28)">ADP</text>
<text x="1471.99" y="1500.35" font-size="48.75" font-weight="bold" letter-spacing="3.90" fill="#000" transform="rotate(-45 1471.99 1500.35) translate(1471.99 1500.35) scale(0.88 1) translate(-1471.99 -1500.35)">ATP<tspan font-weight="normal" style="font-family:'Liberation Serif',serif" stroke="#000" stroke-width="0.5">γ</tspan><tspan dx="2">S</tspan></text>
<line x1="1260.5" y1="1375.5" x2="1271.0" y2="1366.0" stroke="#000" stroke-width="5.5" stroke-linecap="butt"/>
<line x1="1664.0" y1="1375.5" x2="1675.0" y2="1364.5" stroke="#000" stroke-width="5.5" stroke-linecap="butt"/>
<line x1="1775.5" y1="1375.5" x2="1786.0" y2="1364.5" stroke="#000" stroke-width="5.5" stroke-linecap="butt"/>
<text x="52.86" y="1574.00" font-size="139.71" font-weight="bold" textLength="99.45" lengthAdjust="spacingAndGlyphs" fill="#000">D</text>
<text x="80.83" y="1654.80" font-size="50.43" font-weight="bold" textLength="105.65" lengthAdjust="spacingAndGlyphs" fill="#000">mAU</text>
<line x1="193.5" y1="1674.0" x2="193.5" y2="2141.5" stroke="#000" stroke-width="5.5" stroke-linecap="butt"/>
<line x1="187.7" y1="2138.6" x2="1606.7" y2="2138.6" stroke="#000" stroke-width="5.5" stroke-linecap="butt"/>
<line x1="177.0" y1="1715.9" x2="193.5" y2="1715.9" stroke="#000" stroke-width="5" stroke-linecap="butt"/>
<line x1="176.8" y1="2032.7" x2="193.5" y2="2032.7" stroke="#000" stroke-width="5" stroke-linecap="butt"/>
<text x="106.40" y="1737.49" font-size="50.70" font-weight="bold" textLength="55.72" lengthAdjust="spacingAndGlyphs" fill="#000">40</text>
<text x="139.17" y="2052.54" font-size="46.48" font-weight="bold" textLength="25.45" lengthAdjust="spacingAndGlyphs" fill="#000">0</text>
<line x1="240.5" y1="2138.6" x2="240.5" y2="2157.4" stroke="#000" stroke-width="5" stroke-linecap="butt"/>
<text x="234.64" y="2209.89" font-size="50.70" font-weight="bold" textLength="30.06" lengthAdjust="spacingAndGlyphs" fill="#000">0</text>
<line x1="502.0" y1="2138.6" x2="502.0" y2="2157.4" stroke="#000" stroke-width="5" stroke-linecap="butt"/>
<text x="486.31" y="2209.89" font-size="51.43" font-weight="bold" textLength="27.70" lengthAdjust="spacingAndGlyphs" fill="#000">5</text>
<line x1="763.5" y1="2138.6" x2="763.5" y2="2157.4" stroke="#000" stroke-width="5" stroke-linecap="butt"/>
<text x="738.95" y="2209.89" font-size="50.70" font-weight="bold" fill="#000">10</text>
<line x1="1025.0" y1="2138.6" x2="1025.0" y2="2157.4" stroke="#000" stroke-width="5" stroke-linecap="butt"/>
<text x="999.89" y="2209.89" font-size="51.43" font-weight="bold" textLength="57.69" lengthAdjust="spacingAndGlyphs" fill="#000">15</text>
<line x1="1286.5" y1="2138.6" x2="1286.5" y2="2157.4" stroke="#000" stroke-width="5" stroke-linecap="butt"/>
<text x="1263.81" y="2209.89" font-size="50.70" font-weight="bold" textLength="55.19" lengthAdjust="spacingAndGlyphs" fill="#000">20</text>
<line x1="1548.0" y1="2138.6" x2="1548.0" y2="2157.4" stroke="#000" stroke-width="5" stroke-linecap="butt"/>
<text x="1526.34" y="2209.89" font-size="50.70" font-weight="bold" textLength="54.24" lengthAdjust="spacingAndGlyphs" fill="#000">25</text>
<line x1="371.2" y1="2138.6" x2="371.2" y2="2151.6" stroke="#000" stroke-width="5" stroke-linecap="butt"/>
<line x1="632.8" y1="2138.6" x2="632.8" y2="2151.6" stroke="#000" stroke-width="5" stroke-linecap="butt"/>
<line x1="894.2" y1="2138.6" x2="894.2" y2="2151.6" stroke="#000" stroke-width="5" stroke-linecap="butt"/>
<line x1="1155.8" y1="2138.6" x2="1155.8" y2="2151.6" stroke="#000" stroke-width="5" stroke-linecap="butt"/>
<line x1="1417.2" y1="2138.6" x2="1417.2" y2="2151.6" stroke="#000" stroke-width="5" stroke-linecap="butt"/>
<text x="1616.35" y="2206.50" font-size="49.04" textLength="158.21" lengthAdjust="spacingAndGlyphs" fill="#000" stroke="#000" stroke-width="1.6">Ve (mL)</text>
<text x="705.29" y="1582.08" font-size="51.69" textLength="98.39" lengthAdjust="spacingAndGlyphs" fill="#000" stroke="#000" stroke-width="2.2">7543</text>
<text x="806.34" y="1582.08" font-size="51.69" textLength="50.33" lengthAdjust="spacingAndGlyphs" fill="#000" stroke="#000" stroke-width="2.2">29</text>
<text x="882.91" y="1582.08" font-size="51.69" textLength="85.02" lengthAdjust="spacingAndGlyphs" fill="#000" stroke="#000" stroke-width="2.2">13.7</text>
<text x="975.31" y="1582.58" font-size="49.15" textLength="168.02" lengthAdjust="spacingAndGlyphs" fill="#000" stroke="#000" stroke-width="2.2">6.5(kDa)</text>
<rect x="737.0" y="1595.5" width="12.5" height="47.5" fill="#000"/>
<rect x="758.8" y="1595.5" width="12.8" height="47.5" fill="#000"/>
<rect x="818.3" y="1595.5" width="12.4" height="47.5" fill="#000"/>
<rect x="912.8" y="1595.5" width="12.1" height="47.5" fill="#000"/>
<rect x="994.2" y="1595.5" width="12.0" height="47.5" fill="#000"/>
<text x="704.20" y="1724.99" font-size="50.99" textLength="50.16" lengthAdjust="spacingAndGlyphs" fill="#000" stroke="#000" stroke-width="2.2">82</text>
<text x="228.00" y="1967.30" font-size="52.17" font-weight="bold" textLength="99.98" lengthAdjust="spacingAndGlyphs" fill="#1f8248">ParA</text>
<text x="329.15" y="1980.70" font-size="50.43" font-weight="bold" textLength="26.64" lengthAdjust="spacingAndGlyphs" fill="#1f8248">F</text>
<text x="366.87" y="1967.30" font-size="52.17" font-weight="bold" textLength="116.56" lengthAdjust="spacingAndGlyphs" fill="#1f8248">+ADP</text>
<text x="224.85" y="2022.00" font-size="52.90" font-weight="bold" textLength="98.30" lengthAdjust="spacingAndGlyphs" fill="#2b55a8">ParA</text>
<text x="324.23" y="2037.30" font-size="52.75" font-weight="bold" textLength="26.76" lengthAdjust="spacingAndGlyphs" fill="#2b55a8">F</text>
<path d="M250.5,2157.1 L253.0,2153.1 L255.5,2150.0 L258.0,2145.8 L260.5,2144.5 L263.0,2142.1 L265.5,2140.2 L268.0,2137.9 L270.5,2136.6 L273.0,2134.6 L275.5,2132.4 L278.0,2132.7 L280.5,2131.3 L283.0,2130.7 L285.6,2128.1 L288.1,2126.7 L290.6,2125.6 L293.1,2124.0 L295.6,2125.3 L298.1,2122.7 L300.6,2121.4 L303.1,2120.2 L305.6,2118.6 L308.1,2114.2 L310.6,2109.8 L313.1,2107.4 L315.6,2106.6 L318.1,2104.2 L320.6,2102.0 L323.1,2100.9 L325.6,2100.5 L328.1,2100.7 L330.6,2097.8 L333.1,2098.3 L335.6,2098.3 L338.1,2097.1 L340.6,2098.5 L343.1,2098.6 L345.6,2100.4 L348.1,2099.5 L350.7,2098.4 L353.2,2099.8 L355.7,2097.9 L358.2,2095.2 L360.7,2094.5 L363.2,2092.9 L365.7,2091.7 L368.2,2092.1 L370.7,2090.4 L373.2,2092.3 L375.7,2093.8 L378.2,2094.2 L380.7,2095.0 L383.2,2095.6 L385.7,2096.5 L388.2,2095.0 L390.7,2097.1 L393.2,2095.3 L395.7,2096.5 L398.2,2095.6 L400.7,2097.3 L403.2,2096.1 L405.7,2092.9 L408.2,2092.2 L410.7,2087.9 L413.2,2086.5 L415.8,2084.8 L418.3,2082.9 L420.8,2083.4 L423.3,2084.1 L425.8,2081.2 L428.3,2082.3 L430.8,2081.1 L433.3,2082.2 L435.8,2080.9 L438.3,2080.7 L440.8,2080.4 L443.3,2079.8 L445.8,2078.1 L448.3,2080.0 L450.8,2077.5 L453.3,2078.4 L455.8,2078.3 L458.3,2076.7 L460.8,2077.2 L463.3,2077.7 L465.8,2076.6 L468.3,2075.9 L470.8,2074.3 L473.3,2075.9 L475.8,2076.2 L478.3,2076.4 L480.9,2076.1 L483.4,2077.3 L485.9,2076.6 L488.4,2077.1 L490.9,2077.8 L493.4,2076.6 L495.9,2077.2 L498.4,2079.2 L500.9,2078.3 L503.4,2076.6 L505.9,2077.6 L508.4,2078.1 L510.9,2078.6 L513.4,2077.1 L515.9,2075.2 L518.4,2073.3 L520.9,2072.5 L523.4,2070.3 L525.9,2068.0 L528.4,2067.0 L530.9,2066.2 L533.4,2066.7 L535.9,2065.1 L538.4,2065.7 L540.9,2065.6 L543.4,2065.1 L546.0,2063.7 L548.5,2065.2 L551.0,2063.4 L553.5,2064.1 L556.0,2062.9 L558.5,2062.0 L561.0,2063.3 L563.5,2063.2 L566.0,2062.7 L568.5,2062.7 L571.0,2061.7 L573.5,2061.3 L576.0,2061.4 L578.5,2062.7 L581.0,2061.4 L583.5,2059.8 L586.0,2060.1 L588.5,2058.6 L591.0,2057.8 L593.5,2058.1 L596.0,2056.2 L598.5,2054.4 L601.0,2054.2 L603.5,2054.1 L606.0,2053.2 L608.5,2053.3 L611.0,2050.9 L613.6,2051.3 L616.1,2050.3 L618.6,2049.2 L621.1,2049.4 L623.6,2048.6 L626.1,2046.9 L628.6,2047.9 L631.1,2045.6 L633.6,2046.1 L636.1,2045.6 L638.6,2045.4 L641.1,2044.0 L643.6,2044.1 L646.1,2043.5 L648.6,2043.9 L651.1,2042.0 L653.6,2042.3 L656.1,2041.5 L658.6,2040.2 L661.1,2043.0 L663.6,2040.4 L666.1,2039.0 L668.6,2041.0 L671.1,2038.8 L673.6,2039.5 L676.1,2039.5 L678.7,2037.7 L681.2,2037.2 L683.7,2036.2 L686.2,2034.1 L688.7,2029.8 L691.2,2024.6 L693.7,2017.5 L696.2,2006.7 L698.7,1995.9 L701.2,1983.7 L703.7,1965.5 L706.2,1941.0 L708.7,1916.2 L711.2,1888.9 L713.7,1852.0 L716.2,1820.3 L718.7,1796.0 L721.2,1774.5 L723.7,1759.5 L726.2,1751.5 L728.7,1747.8 L731.2,1748.8 L733.7,1753.6 L736.2,1764.7 L738.7,1779.9 L741.2,1797.3 L743.8,1813.9 L746.3,1831.6 L748.8,1852.1 L751.3,1870.1 L753.8,1886.2 L756.3,1903.1 L758.8,1919.3 L761.3,1932.0 L763.8,1943.0 L766.3,1952.9 L768.8,1961.8 L771.3,1970.6 L773.8,1979.4 L776.3,1987.1 L778.8,1992.6 L781.3,1995.2 L783.8,1996.9 L786.3,1998.3 L788.8,1999.4 L791.3,2000.2 L793.8,2000.0 L796.3,2001.3 L798.8,2003.2 L801.3,2005.1 L803.8,2005.5 L806.3,2007.2 L808.9,2007.2 L811.4,2007.1 L813.9,2008.4 L816.4,2008.0 L818.9,2010.3 L821.4,2012.2 L823.9,2016.9 L826.4,2020.8 L828.9,2021.1 L831.4,2021.4 L833.9,2021.0 L836.4,2022.4 L838.9,2023.0 L841.4,2023.3 L843.9,2022.5 L846.4,2024.9 L848.9,2024.4 L851.4,2023.5 L853.9,2023.2 L856.4,2023.5 L858.9,2023.9 L861.4,2023.9 L863.9,2024.4 L866.4,2024.7 L868.9,2025.3 L871.4,2025.2 L874.0,2024.3 L876.5,2024.7 L879.0,2024.2 L881.5,2024.1 L884.0,2026.2 L886.5,2024.3 L889.0,2026.4 L891.5,2024.5 L894.0,2025.1 L896.5,2025.8 L899.0,2025.0 L901.5,2025.3 L904.0,2024.9 L906.5,2024.8 L909.0,2025.1 L911.5,2024.7 L914.0,2026.6 L916.5,2025.2 L919.0,2026.8 L921.5,2023.3 L924.0,2025.6 L926.5,2026.0 L929.0,2025.4 L931.5,2026.6 L934.0,2026.2 L936.5,2025.6 L939.0,2026.2 L941.6,2028.1 L944.1,2026.1 L946.6,2026.2 L949.1,2025.6 L951.6,2026.1 L954.1,2025.0 L956.6,2025.8 L959.1,2028.0 L961.6,2026.9 L964.1,2026.5 L966.6,2026.9 L969.1,2027.5 L971.6,2026.4 L974.1,2027.6 L976.6,2026.8 L979.1,2026.1 L981.6,2027.3 L984.1,2024.0 L986.6,2025.4 L989.1,2026.1 L991.6,2025.1 L994.1,2025.7 L996.6,2025.3 L999.1,2025.2 L1001.6,2027.9 L1004.1,2026.2 L1006.7,2025.6 L1009.2,2026.7 L1011.7,2025.4 L1014.2,2026.3 L1016.7,2025.9 L1019.2,2026.8 L1021.7,2024.4 L1024.2,2026.1 L1026.7,2025.6 L1029.2,2024.5 L1031.7,2026.3 L1034.2,2024.7 L1036.7,2026.7 L1039.2,2025.8 L1041.7,2025.9 L1044.2,2025.4 L1046.7,2026.1 L1049.2,2023.8 L1051.7,2025.4 L1054.2,2024.8 L1056.7,2025.5 L1059.2,2025.3 L1061.7,2025.8 L1064.2,2024.7 L1066.7,2027.0 L1069.2,2027.5 L1071.8,2025.7 L1074.3,2026.1 L1076.8,2026.5 L1079.3,2027.6 L1081.8,2028.3 L1084.3,2026.1 L1086.8,2026.9 L1089.3,2026.8 L1091.8,2027.1 L1094.3,2026.9 L1096.8,2028.8 L1099.3,2027.8 L1101.8,2030.1 L1104.3,2029.8 L1106.8,2028.4 L1109.3,2028.6 L1111.8,2029.0 L1114.3,2030.6 L1116.8,2028.7 L1119.3,2027.9 L1121.8,2028.5 L1124.3,2028.1 L1126.8,2026.5 L1129.3,2027.5 L1131.8,2025.4 L1134.3,2023.9 L1136.9,2021.1 L1139.4,2020.0 L1141.9,2018.7 L1144.4,2016.6 L1146.9,2020.3 L1149.4,2022.3 L1151.9,2028.8 L1154.4,2033.9 L1156.9,2049.3 L1159.4,2062.4 L1161.9,2074.3 L1164.4,2085.5 L1166.9,2090.6 L1169.4,2089.0 L1171.9,2084.0 L1174.4,2077.3 L1176.9,2070.3 L1179.4,2064.3 L1181.9,2057.9 L1184.4,2049.8 L1186.9,2046.0 L1189.4,2042.8 L1191.9,2036.5 L1194.4,2031.4 L1196.9,2029.3 L1199.4,2026.4 L1202.0,2025.2 L1204.5,2022.6 L1207.0,2021.9 L1209.5,2018.8 L1212.0,2020.2 L1214.5,2020.1 L1217.0,2019.5 L1219.5,2017.3 L1222.0,2019.4 L1224.5,2017.8 L1227.0,2021.7 L1229.5,2023.1 L1232.0,2024.0 L1234.5,2026.8 L1237.0,2028.6 L1239.5,2032.0 L1242.0,2034.6 L1244.5,2038.0 L1247.0,2039.4 L1249.5,2042.7 L1252.0,2045.1 L1254.5,2046.6 L1257.0,2046.6 L1259.5,2048.0 L1262.0,2046.3 L1264.5,2047.0 L1267.1,2047.5 L1269.6,2047.3 L1272.1,2048.0 L1274.6,2047.2 L1277.1,2048.8 L1279.6,2047.4 L1282.1,2048.6 L1284.6,2047.6 L1287.1,2048.7 L1289.6,2046.2 L1292.1,2047.6 L1294.6,2046.6 L1297.1,2046.9 L1299.6,2047.4 L1302.1,2045.3 L1304.6,2044.8 L1307.1,2044.8 L1309.6,2045.4 L1312.1,2043.4 L1314.6,2044.7 L1317.1,2043.3 L1319.6,2043.1 L1322.1,2043.4 L1324.6,2043.7 L1327.1,2042.7 L1329.6,2042.5 L1332.1,2042.7 L1334.7,2042.3 L1337.2,2040.3 L1339.7,2042.0 L1342.2,2042.4 L1344.7,2043.2 L1347.2,2044.1 L1349.7,2043.2 L1352.2,2042.9 L1354.7,2042.4 L1357.2,2043.7 L1359.7,2044.6 L1362.2,2045.5 L1364.7,2044.3 L1367.2,2045.6 L1369.7,2046.6 L1372.2,2048.0 L1374.7,2047.2 L1377.2,2047.0 L1379.7,2047.3 L1382.2,2048.0 L1384.7,2048.1 L1387.2,2049.6 L1389.7,2050.1 L1392.2,2050.1 L1394.7,2050.8 L1397.2,2049.8 L1399.8,2050.9 L1402.3,2050.6 L1404.8,2051.3 L1407.3,2052.5 L1409.8,2051.9 L1412.3,2050.7 L1414.8,2052.3 L1417.3,2052.3 L1419.8,2051.9 L1422.3,2052.8 L1424.8,2054.4 L1427.3,2055.2 L1429.8,2053.7 L1432.3,2055.1 L1434.8,2055.4 L1437.3,2053.7 L1439.8,2054.7 L1442.3,2054.8 L1444.8,2055.0 L1447.3,2053.6 L1449.8,2054.6 L1452.3,2055.7 L1454.8,2055.9 L1457.3,2056.3 L1459.8,2054.6 L1462.3,2056.3 L1464.9,2055.3 L1467.4,2053.6 L1469.9,2055.3 L1472.4,2054.3 L1474.9,2054.9 L1477.4,2054.3 L1479.9,2055.3 L1482.4,2054.4 L1484.9,2053.8 L1487.4,2054.7 L1489.9,2054.0 L1492.4,2053.3 L1494.9,2054.4 L1497.4,2052.9 L1499.9,2052.5 L1502.4,2052.3 L1504.9,2049.8 L1507.4,2047.8 L1509.9,2048.0 L1512.4,2046.2 L1514.9,2048.2 L1517.4,2049.2 L1519.9,2051.6 L1522.4,2055.2 L1524.9,2056.0 L1527.4,2055.2 L1530.0,2055.7 L1532.5,2055.0 L1535.0,2055.1 L1537.5,2055.0 L1540.0,2055.0 L1542.5,2055.9 L1545.0,2056.1 L1547.5,2056.0 L1550.0,2055.5 L1552.5,2054.5 L1555.0,2055.4 L1557.5,2054.7 L1560.0,2056.1 L1562.5,2055.7 L1565.0,2055.8 L1567.5,2054.8 L1570.0,2053.5 L1572.5,2055.6 L1575.0,2055.7 L1577.5,2053.3 L1580.0,2054.5 L1582.5,2055.1 L1585.0,2053.1 L1587.5,2055.1 L1590.0,2053.2 L1592.5,2052.3 L1595.1,2053.9 L1597.6,2052.8 L1600.1,2051.7 L1602.6,2052.5 L1605.1,2049.8 L1607.6,2052.4 L1610.1,2049.9 L1612.6,2050.3 L1615.1,2049.2 L1617.6,2049.3 L1620.1,2049.1 L1622.6,2047.1 L1625.1,2047.8 L1627.6,2046.3" fill="none" stroke="#17803f" stroke-width="6" stroke-linejoin="round" stroke-linecap="butt"/>
<path d="M214.5,2046.0 L216.5,2039.7 L218.5,2037.8 L220.5,2036.9 L222.5,2037.8 L224.5,2040.5 L226.5,2042.3 L228.5,2043.4 L230.5,2044.4 L232.5,2045.1 L234.5,2045.5 L236.5,2045.5 L238.5,2045.6 L240.5,2045.6 L242.5,2045.7 L244.5,2045.7 L246.5,2045.7 L248.5,2045.8 L250.5,2045.8 L252.5,2045.8 L254.5,2045.9 L256.5,2045.9 L258.5,2045.9 L260.5,2045.9 L262.5,2045.9 L264.5,2046.0 L266.5,2046.0 L268.5,2046.0 L270.5,2046.0 L272.5,2046.0 L274.5,2046.0 L276.5,2046.1 L278.5,2046.1 L280.6,2046.1 L282.6,2046.1 L284.6,2046.1 L286.6,2046.1 L288.6,2046.1 L290.6,2046.1 L292.6,2046.1 L294.6,2046.1 L296.6,2046.1 L298.6,2046.1 L300.6,2046.1 L302.6,2046.1 L304.6,2046.1 L306.6,2046.1 L308.6,2046.1 L310.6,2046.1 L312.6,2046.1 L314.6,2046.1 L316.6,2046.1 L318.6,2046.1 L320.6,2046.1 L322.6,2046.1 L324.6,2046.1 L326.6,2046.1 L328.6,2046.1 L330.6,2046.1 L332.6,2046.1 L334.6,2046.1 L336.6,2046.0 L338.6,2046.0 L340.6,2046.0 L342.6,2046.0 L344.6,2046.0 L346.6,2046.0 L348.6,2046.0 L350.6,2046.0 L352.6,2046.0 L354.6,2046.0 L356.6,2046.0 L358.6,2046.0 L360.6,2046.0 L362.6,2046.0 L364.6,2046.0 L366.6,2045.9 L368.6,2045.9 L370.6,2045.9 L372.6,2045.9 L374.6,2045.9 L376.6,2045.9 L378.6,2045.9 L380.6,2045.9 L382.6,2045.9 L384.6,2045.9 L386.6,2045.9 L388.6,2045.8 L390.6,2045.8 L392.6,2045.8 L394.6,2045.8 L396.6,2045.8 L398.6,2045.8 L400.6,2045.8 L402.6,2045.8 L404.6,2045.8 L406.6,2045.7 L408.7,2045.7 L410.7,2045.7 L412.7,2045.7 L414.7,2045.7 L416.7,2045.7 L418.7,2045.7 L420.7,2045.7 L422.7,2045.7 L424.7,2045.6 L426.7,2045.6 L428.7,2045.6 L430.7,2045.6 L432.7,2045.6 L434.7,2045.6 L436.7,2045.6 L438.7,2045.6 L440.7,2045.6 L442.7,2045.5 L444.7,2045.5 L446.7,2045.5 L448.7,2045.5 L450.7,2045.5 L452.7,2045.5 L454.7,2045.5 L456.7,2045.5 L458.7,2045.4 L460.7,2045.4 L462.7,2045.4 L464.7,2045.4 L466.7,2045.4 L468.7,2045.4 L470.7,2045.4 L472.7,2045.4 L474.7,2045.4 L476.7,2045.3 L478.7,2045.3 L480.7,2045.3 L482.7,2045.3 L484.7,2045.3 L486.7,2045.3 L488.7,2045.3 L490.7,2045.2 L492.7,2045.2 L494.7,2045.2 L496.7,2045.2 L498.7,2045.2 L500.7,2045.2 L502.7,2045.2 L504.7,2045.1 L506.7,2045.1 L508.7,2045.1 L510.7,2045.1 L512.7,2045.1 L514.7,2045.1 L516.7,2045.0 L518.7,2045.0 L520.7,2045.0 L522.7,2045.0 L524.7,2045.0 L526.7,2045.0 L528.7,2044.9 L530.7,2044.9 L532.7,2044.9 L534.7,2044.9 L536.8,2044.9 L538.8,2044.8 L540.8,2044.8 L542.8,2044.8 L544.8,2044.8 L546.8,2044.8 L548.8,2044.7 L550.8,2044.7 L552.8,2044.7 L554.8,2044.7 L556.8,2044.6 L558.8,2044.6 L560.8,2044.6 L562.8,2044.6 L564.8,2044.5 L566.8,2044.5 L568.8,2044.5 L570.8,2044.5 L572.8,2044.4 L574.8,2044.4 L576.8,2044.4 L578.8,2044.3 L580.8,2044.3 L582.8,2044.3 L584.8,2044.3 L586.8,2044.2 L588.8,2044.2 L590.8,2044.2 L592.8,2044.1 L594.8,2044.1 L596.8,2044.1 L598.8,2044.0 L600.8,2044.0 L602.8,2043.9 L604.8,2043.9 L606.8,2043.8 L608.8,2043.8 L610.8,2043.7 L612.8,2043.6 L614.8,2043.6 L616.8,2043.5 L618.8,2043.4 L620.8,2043.3 L622.8,2043.2 L624.8,2043.2 L626.8,2043.1 L628.8,2043.0 L630.8,2042.9 L632.8,2042.8 L634.8,2042.7 L636.8,2042.6 L638.8,2042.5 L640.8,2042.4 L642.8,2042.3 L644.8,2042.2 L646.8,2042.1 L648.8,2042.0 L650.8,2042.0 L652.8,2041.9 L654.8,2041.8 L656.8,2041.8 L658.8,2041.7 L660.8,2041.7 L662.8,2041.6 L664.9,2041.6 L666.9,2041.5 L668.9,2041.4 L670.9,2041.4 L672.9,2041.3 L674.9,2041.2 L676.9,2041.1 L678.9,2041.0 L680.9,2040.8 L682.9,2040.7 L684.9,2040.5 L686.9,2040.1 L688.9,2039.4 L690.9,2037.7 L692.9,2035.2 L694.9,2032.6 L696.9,2029.6 L698.9,2025.9 L700.9,2021.4 L702.9,2016.1 L704.9,2009.6 L706.9,2000.8 L708.9,1989.7 L710.9,1976.9 L712.9,1961.3 L714.9,1941.9 L716.9,1921.2 L718.9,1901.9 L720.9,1879.8 L722.9,1848.1 L724.9,1832.9 L726.9,1824.9 L728.9,1820.1 L730.9,1818.2 L732.9,1817.5 L734.9,1818.8 L736.9,1822.0 L738.9,1829.6 L740.9,1838.6 L742.9,1849.4 L744.9,1861.7 L746.9,1872.6 L748.9,1881.7 L750.9,1893.2 L752.9,1910.8 L754.9,1928.4 L756.9,1945.2 L758.9,1958.2 L760.9,1965.4 L762.9,1971.6 L764.9,1978.9 L766.9,1986.5 L768.9,1993.6 L770.9,1999.6 L772.9,2003.8 L774.9,2007.4 L776.9,2010.6 L778.9,2013.5 L780.9,2016.1 L782.9,2018.4 L784.9,2020.4 L786.9,2022.1 L788.9,2023.6 L790.9,2024.9 L793.0,2026.2 L795.0,2027.4 L797.0,2028.5 L799.0,2029.5 L801.0,2030.5 L803.0,2031.3 L805.0,2032.1 L807.0,2032.8 L809.0,2033.4 L811.0,2033.9 L813.0,2034.4 L815.0,2034.8 L817.0,2035.1 L819.0,2035.5 L821.0,2035.8 L823.0,2036.0 L825.0,2036.3 L827.0,2036.5 L829.0,2036.7 L831.0,2037.0 L833.0,2037.2 L835.0,2037.4 L837.0,2037.6 L839.0,2037.9 L841.0,2038.1 L843.0,2038.4 L845.0,2038.6 L847.0,2038.9 L849.0,2039.1 L851.0,2039.3 L853.0,2039.5 L855.0,2039.6 L857.0,2039.7 L859.0,2039.8 L861.0,2039.8 L863.0,2039.8 L865.0,2039.8 L867.0,2039.8 L869.0,2039.8 L871.0,2039.7 L873.0,2039.7 L875.0,2039.7 L877.0,2039.6 L879.0,2039.6 L881.0,2039.6 L883.0,2039.5 L885.0,2039.5 L887.0,2039.4 L889.0,2039.4 L891.0,2039.3 L893.0,2039.3 L895.0,2039.2 L897.0,2039.0 L899.0,2038.9 L901.0,2038.7 L903.0,2038.4 L905.0,2038.2 L907.0,2037.9 L909.0,2037.6 L911.0,2037.2 L913.0,2036.6 L915.0,2035.5 L917.0,2035.1 L919.0,2037.3 L921.0,2039.0 L923.1,2039.0 L925.1,2039.0 L927.1,2039.0 L929.1,2039.0 L931.1,2039.0 L933.1,2039.0 L935.1,2038.9 L937.1,2038.9 L939.1,2038.9 L941.1,2038.9 L943.1,2038.9 L945.1,2038.8 L947.1,2038.8 L949.1,2038.8 L951.1,2038.8 L953.1,2038.7 L955.1,2038.7 L957.1,2038.7 L959.1,2038.6 L961.1,2038.6 L963.1,2038.6 L965.1,2038.6 L967.1,2038.5 L969.1,2038.5 L971.1,2038.4 L973.1,2038.4 L975.1,2038.4 L977.1,2038.3 L979.1,2038.3 L981.1,2038.3 L983.1,2038.2 L985.1,2038.2 L987.1,2038.2 L989.1,2038.1 L991.1,2038.1 L993.1,2038.1 L995.1,2038.0 L997.1,2038.0 L999.1,2038.0 L1001.1,2037.9 L1003.1,2037.9 L1005.1,2037.9 L1007.1,2037.8 L1009.1,2037.8 L1011.1,2037.8 L1013.1,2037.8 L1015.1,2037.7 L1017.1,2037.7 L1019.1,2037.7 L1021.1,2037.7 L1023.1,2037.6 L1025.1,2037.6 L1027.1,2037.6 L1029.1,2037.6 L1031.1,2037.5 L1033.1,2037.5 L1035.1,2037.5 L1037.1,2037.5 L1039.1,2037.4 L1041.1,2037.4 L1043.1,2037.4 L1045.1,2037.4 L1047.1,2037.3 L1049.1,2037.3 L1051.2,2037.3 L1053.2,2037.2 L1055.2,2037.2 L1057.2,2037.2 L1059.2,2037.1 L1061.2,2037.1 L1063.2,2037.1 L1065.2,2037.0 L1067.2,2037.0 L1069.2,2037.0 L1071.2,2036.9 L1073.2,2036.9 L1075.2,2036.8 L1077.2,2036.8 L1079.2,2036.7 L1081.2,2036.7 L1083.2,2036.6 L1085.2,2036.6 L1087.2,2036.5 L1089.2,2036.4 L1091.2,2036.3 L1093.2,2036.2 L1095.2,2036.1 L1097.2,2035.9 L1099.2,2035.8 L1101.2,2035.6 L1103.2,2035.4 L1105.2,2035.2 L1107.2,2035.0 L1109.2,2034.7 L1111.2,2034.5 L1113.2,2034.3 L1115.2,2034.0 L1117.2,2033.8 L1119.2,2033.5 L1121.2,2033.3 L1123.2,2033.1 L1125.2,2032.8 L1127.2,2032.6 L1129.2,2032.4 L1131.2,2032.2 L1133.2,2031.9 L1135.2,2031.7 L1137.2,2031.5 L1139.2,2031.2 L1141.2,2031.0 L1143.2,2031.0 L1145.2,2031.0 L1147.2,2031.0 L1149.2,2031.1 L1151.2,2031.1 L1153.2,2031.2 L1155.2,2031.2 L1157.2,2031.3 L1159.2,2031.4 L1161.2,2031.5 L1163.2,2031.6 L1165.2,2031.7 L1167.2,2031.8 L1169.2,2031.9 L1171.2,2032.0 L1173.2,2032.1 L1175.2,2032.3 L1177.2,2032.4 L1179.3,2032.5 L1181.3,2032.6 L1183.3,2032.8 L1185.3,2032.9 L1187.3,2033.0 L1189.3,2033.2 L1191.3,2033.3 L1193.3,2033.4 L1195.3,2033.5 L1197.3,2033.6 L1199.3,2033.7 L1201.3,2033.9 L1203.3,2034.0 L1205.3,2034.1 L1207.3,2034.2 L1209.3,2034.4 L1211.3,2034.5 L1213.3,2034.7 L1215.3,2034.8 L1217.3,2035.0 L1219.3,2035.1 L1221.3,2035.3 L1223.3,2035.5 L1225.3,2035.6 L1227.3,2035.8 L1229.3,2035.9 L1231.3,2036.1 L1233.3,2036.3 L1235.3,2036.4 L1237.3,2036.6 L1239.3,2036.8 L1241.3,2036.9 L1243.3,2037.1 L1245.3,2037.2 L1247.3,2037.4 L1249.3,2037.5 L1251.3,2037.6 L1253.3,2037.8 L1255.3,2037.9 L1257.3,2038.0 L1259.3,2038.1 L1261.3,2038.2 L1263.3,2038.3 L1265.3,2038.4 L1267.3,2038.5 L1269.3,2038.5 L1271.3,2038.6 L1273.3,2038.6 L1275.3,2038.7 L1277.3,2038.7 L1279.3,2038.7 L1281.3,2038.7 L1283.3,2038.7 L1285.3,2038.6 L1287.3,2038.6 L1289.3,2038.5 L1291.3,2038.4 L1293.3,2038.2 L1295.3,2038.1 L1297.3,2038.0 L1299.3,2037.8 L1301.3,2037.7 L1303.3,2037.5 L1305.3,2037.3 L1307.4,2037.1 L1309.4,2036.9 L1311.4,2036.8 L1313.4,2036.6 L1315.4,2036.4 L1317.4,2036.2 L1319.4,2036.0 L1321.4,2035.9 L1323.4,2035.7 L1325.4,2035.5 L1327.4,2035.4 L1329.4,2035.3 L1331.4,2035.1 L1333.4,2035.0 L1335.4,2035.0 L1337.4,2034.9 L1339.4,2034.8 L1341.4,2034.8 L1343.4,2034.8 L1345.4,2034.8 L1347.4,2034.9 L1349.4,2034.9 L1351.4,2035.0 L1353.4,2035.1 L1355.4,2035.3 L1357.4,2035.4 L1359.4,2035.6 L1361.4,2035.8 L1363.4,2036.0 L1365.4,2036.2 L1367.4,2036.4 L1369.4,2036.6 L1371.4,2036.8 L1373.4,2037.0 L1375.4,2037.2 L1377.4,2037.4 L1379.4,2037.7 L1381.4,2037.9 L1383.4,2038.0 L1385.4,2038.2 L1387.4,2038.4 L1389.4,2038.5 L1391.4,2038.7 L1393.4,2038.8 L1395.4,2038.9 L1397.4,2038.9 L1399.4,2039.0 L1401.4,2039.0 L1403.4,2039.0 L1405.4,2039.1 L1407.4,2039.1 L1409.4,2039.1 L1411.4,2039.1 L1413.4,2039.2 L1415.4,2039.2 L1417.4,2039.2 L1419.4,2039.2 L1421.4,2039.2 L1423.4,2039.3 L1425.4,2039.3 L1427.4,2039.3 L1429.4,2039.3 L1431.4,2039.3 L1433.4,2039.4 L1435.5,2039.4 L1437.5,2039.4 L1439.5,2039.4 L1441.5,2039.4 L1443.5,2039.5 L1445.5,2039.5 L1447.5,2039.5 L1449.5,2039.5 L1451.5,2039.5 L1453.5,2039.5 L1455.5,2039.6 L1457.5,2039.6 L1459.5,2039.6 L1461.5,2039.6 L1463.5,2039.6 L1465.5,2039.6 L1467.5,2039.7 L1469.5,2039.7 L1471.5,2039.7 L1473.5,2039.7 L1475.5,2039.7 L1477.5,2039.7 L1479.5,2039.7 L1481.5,2039.8 L1483.5,2039.8 L1485.5,2039.8 L1487.5,2039.8 L1489.5,2039.8 L1491.5,2039.8 L1493.5,2039.8 L1495.5,2039.8 L1497.5,2039.9 L1499.5,2039.9 L1501.5,2039.9 L1503.5,2039.9 L1505.5,2039.9 L1507.5,2039.9 L1509.5,2039.9 L1511.5,2039.9 L1513.5,2039.9 L1515.5,2039.9 L1517.5,2040.0 L1519.5,2040.0 L1521.5,2040.0 L1523.5,2040.0 L1525.5,2040.0 L1527.5,2040.0 L1529.5,2040.0 L1531.5,2040.0 L1533.5,2040.0 L1535.5,2040.0 L1537.5,2040.0 L1539.5,2040.0 L1541.5,2040.1 L1543.5,2040.1 L1545.5,2040.1 L1547.5,2040.1 L1549.5,2040.1 L1551.5,2040.1 L1553.5,2040.1 L1555.5,2040.1 L1557.5,2040.1 L1559.5,2040.1 L1561.5,2040.1 L1563.6,2040.1 L1565.6,2040.1 L1567.6,2040.1 L1569.6,2040.1 L1571.6,2040.1 L1573.6,2040.1 L1575.6,2040.1 L1577.6,2040.2 L1579.6,2040.2 L1581.6,2040.2 L1583.6,2040.2 L1585.6,2040.2 L1587.6,2040.2 L1589.6,2040.2 L1591.6,2040.2 L1593.6,2040.2 L1595.6,2040.2 L1597.6,2040.2 L1599.6,2040.2 L1601.6,2040.2 L1603.6,2040.2 L1605.6,2040.2 L1607.6,2040.2 L1609.6,2040.2 L1611.6,2040.2 L1613.6,2040.2 L1615.6,2040.2 L1617.6,2040.2 L1619.6,2040.2 L1621.6,2040.2 L1623.6,2040.2 L1625.6,2040.2 L1627.6,2040.2" fill="none" stroke="#0a0ae0" stroke-width="7" stroke-linejoin="round" stroke-linecap="butt"/>
</svg></body></html>
